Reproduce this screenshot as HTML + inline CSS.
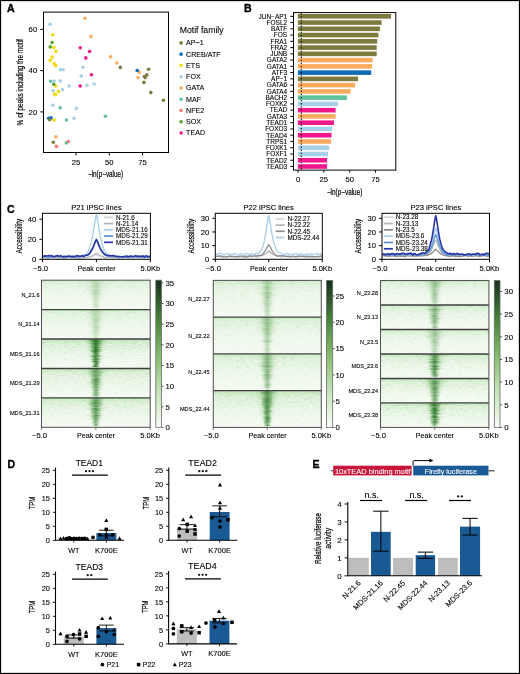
<!DOCTYPE html>
<html><head><meta charset="utf-8"><style>html,body{margin:0;padding:0;background:#fff;}svg{display:block;will-change:transform;font-family:"Liberation Sans",sans-serif;} .cd{stroke:#000;stroke-width:0.2px;} .pl{stroke:#000;stroke-width:0.35px;} text{stroke:#000;stroke-width:0.1px;} text.w{stroke:#fff;}</style></head>
<body><svg width="520" height="674" viewBox="0 0 520 674">
<defs><linearGradient id="cbg" x1="0" y1="1" x2="0" y2="0"><stop offset="0" stop-color="#f8fcf5"/><stop offset="0.25" stop-color="#c4e4b6"/><stop offset="0.5" stop-color="#80bb6c"/><stop offset="0.75" stop-color="#437f38"/><stop offset="1" stop-color="#15301a"/></linearGradient><linearGradient id="band" x1="0" y1="0" x2="1" y2="0"><stop offset="0" stop-color="#3d8a35" stop-opacity="0"/><stop offset="0.25" stop-color="#3a8634" stop-opacity="0.6"/><stop offset="0.5" stop-color="#2a6e27" stop-opacity="1"/><stop offset="0.75" stop-color="#3a8634" stop-opacity="0.6"/><stop offset="1" stop-color="#3d8a35" stop-opacity="0"/></linearGradient><linearGradient id="haze" x1="0" y1="0" x2="0" y2="1"><stop offset="0" stop-color="#b2dfa9" stop-opacity="0.9"/><stop offset="0.15" stop-color="#c2e6ba" stop-opacity="0.5"/><stop offset="0.5" stop-color="#d5eecf" stop-opacity="0.2"/><stop offset="1" stop-color="#e5f5e0" stop-opacity="0"/></linearGradient><filter id="spk" x="0" y="0" width="1" height="1"><feTurbulence type="fractalNoise" baseFrequency="0.22 0.9" numOctaves="2" seed="3"/><feColorMatrix type="matrix" values="0 0 0 0 0.31 0 0 0 0 0.62 0 0 0 0 0.31 3.2 0 0 0 -1.45"/></filter><linearGradient id="fallg" x1="0" y1="0" x2="0" y2="1"><stop offset="0" stop-color="#fff" stop-opacity="1"/><stop offset="0.6" stop-color="#fff" stop-opacity="0.35"/><stop offset="1" stop-color="#fff" stop-opacity="0.1"/></linearGradient><mask id="fall" maskContentUnits="objectBoundingBox"><rect width="1" height="1" fill="url(#fallg)"/></mask><linearGradient id="bandw" x1="0" y1="0" x2="1" y2="0"><stop offset="0" stop-color="#7dbb68" stop-opacity="0"/><stop offset="0.5" stop-color="#5fa84f" stop-opacity="0.7"/><stop offset="1" stop-color="#7dbb68" stop-opacity="0"/></linearGradient></defs>
<rect x="0" y="0" width="520" height="674" fill="#fff"/>
<text x="7.00" y="12.10" font-size="10.6" font-weight="bold" class="pl">A</text>
<rect x="43.5" y="12.1" width="125" height="140.4" fill="none" stroke="#000" stroke-width="1"/>
<line x1="40.30" y1="29.40" x2="43.50" y2="29.40" stroke="#000" stroke-width="1"/>
<text x="37.20" y="32.20" font-size="7.8" text-anchor="end" textLength="8.60" lengthAdjust="spacingAndGlyphs">60</text>
<line x1="40.30" y1="70.60" x2="43.50" y2="70.60" stroke="#000" stroke-width="1"/>
<text x="37.20" y="73.40" font-size="7.8" text-anchor="end" textLength="8.60" lengthAdjust="spacingAndGlyphs">40</text>
<line x1="40.30" y1="111.90" x2="43.50" y2="111.90" stroke="#000" stroke-width="1"/>
<text x="37.20" y="114.70" font-size="7.8" text-anchor="end" textLength="8.60" lengthAdjust="spacingAndGlyphs">20</text>
<line x1="76.00" y1="152.50" x2="76.00" y2="155.40" stroke="#000" stroke-width="1"/>
<text x="76.00" y="164.60" font-size="7.8" text-anchor="middle" textLength="8.50" lengthAdjust="spacingAndGlyphs">25</text>
<line x1="109.30" y1="152.50" x2="109.30" y2="155.40" stroke="#000" stroke-width="1"/>
<text x="109.30" y="164.60" font-size="7.8" text-anchor="middle" textLength="8.50" lengthAdjust="spacingAndGlyphs">50</text>
<line x1="142.60" y1="152.50" x2="142.60" y2="155.40" stroke="#000" stroke-width="1"/>
<text x="142.60" y="164.60" font-size="7.8" text-anchor="middle" textLength="8.50" lengthAdjust="spacingAndGlyphs">75</text>
<text x="88.00" y="176.90" font-size="8.8" textLength="35.10" lengthAdjust="spacingAndGlyphs" class="cd">−ln(p−value)</text>
<text transform="translate(22.7,125.4) rotate(-90)" x="0" y="0" font-size="8.8" class="cd" textLength="86.3" lengthAdjust="spacingAndGlyphs">% of peaks including the motif</text>
<circle cx="50.20" cy="24.20" r="1.8" fill="#a7cfe8"/>
<circle cx="60.50" cy="69.80" r="1.8" fill="#a7cfe8"/>
<circle cx="63.10" cy="69.80" r="1.8" fill="#a7cfe8"/>
<circle cx="82.90" cy="67.30" r="1.8" fill="#a7cfe8"/>
<circle cx="81.30" cy="75.90" r="1.8" fill="#a7cfe8"/>
<circle cx="54.10" cy="81.00" r="1.8" fill="#a7cfe8"/>
<circle cx="60.20" cy="81.00" r="1.8" fill="#a7cfe8"/>
<circle cx="69.10" cy="86.00" r="1.8" fill="#a7cfe8"/>
<circle cx="87.00" cy="85.20" r="1.8" fill="#a7cfe8"/>
<circle cx="94.20" cy="84.00" r="1.8" fill="#a7cfe8"/>
<circle cx="53.00" cy="90.60" r="1.8" fill="#a7cfe8"/>
<circle cx="62.50" cy="89.80" r="1.8" fill="#a7cfe8"/>
<circle cx="52.70" cy="105.20" r="1.8" fill="#a7cfe8"/>
<circle cx="76.30" cy="108.40" r="1.8" fill="#a7cfe8"/>
<circle cx="74.00" cy="118.20" r="1.8" fill="#a7cfe8"/>
<circle cx="52.70" cy="34.80" r="1.8" fill="#f2da0a"/>
<circle cx="53.80" cy="47.50" r="1.8" fill="#f2da0a"/>
<circle cx="55.90" cy="51.30" r="1.8" fill="#f2da0a"/>
<circle cx="52.10" cy="57.10" r="1.8" fill="#f2da0a"/>
<circle cx="50.20" cy="60.40" r="1.8" fill="#f2da0a"/>
<circle cx="54.10" cy="63.60" r="1.8" fill="#f2da0a"/>
<circle cx="55.60" cy="65.40" r="1.8" fill="#f2da0a"/>
<circle cx="55.60" cy="86.00" r="1.8" fill="#f2da0a"/>
<circle cx="58.50" cy="91.40" r="1.8" fill="#f2da0a"/>
<circle cx="54.40" cy="94.00" r="1.8" fill="#f2da0a"/>
<circle cx="55.60" cy="94.60" r="1.8" fill="#f2da0a"/>
<circle cx="54.10" cy="120.00" r="1.8" fill="#f2da0a"/>
<circle cx="85.00" cy="18.30" r="1.8" fill="#fbab5f"/>
<circle cx="90.80" cy="36.50" r="1.8" fill="#fbab5f"/>
<circle cx="110.50" cy="56.70" r="1.8" fill="#fbab5f"/>
<circle cx="116.90" cy="63.00" r="1.8" fill="#fbab5f"/>
<circle cx="139.30" cy="72.40" r="1.8" fill="#fbab5f"/>
<circle cx="138.10" cy="77.60" r="1.8" fill="#fbab5f"/>
<circle cx="55.90" cy="136.90" r="1.8" fill="#fbab5f"/>
<circle cx="50.60" cy="81.30" r="1.8" fill="#5fc39f"/>
<circle cx="60.20" cy="107.80" r="1.8" fill="#5fc39f"/>
<circle cx="66.40" cy="120.00" r="1.8" fill="#5fc39f"/>
<circle cx="105.40" cy="116.20" r="1.8" fill="#5fc39f"/>
<circle cx="66.30" cy="142.90" r="1.8" fill="#5fc39f"/>
<circle cx="68.30" cy="141.50" r="1.8" fill="#f47c72"/>
<circle cx="56.40" cy="146.40" r="1.8" fill="#f47c72"/>
<circle cx="52.10" cy="42.50" r="1.8" fill="#5ba12d"/>
<circle cx="50.20" cy="46.90" r="1.8" fill="#5ba12d"/>
<circle cx="53.80" cy="84.20" r="1.8" fill="#5ba12d"/>
<circle cx="80.20" cy="47.70" r="1.8" fill="#f0178c"/>
<circle cx="89.60" cy="51.50" r="1.8" fill="#f0178c"/>
<circle cx="85.80" cy="57.90" r="1.8" fill="#f0178c"/>
<circle cx="91.40" cy="74.80" r="1.8" fill="#f0178c"/>
<circle cx="80.20" cy="86.00" r="1.8" fill="#f0178c"/>
<circle cx="48.70" cy="118.20" r="1.8" fill="#0f6db5"/>
<circle cx="51.00" cy="117.90" r="1.8" fill="#0f6db5"/>
<circle cx="137.20" cy="70.50" r="1.8" fill="#0f6db5"/>
<circle cx="49.60" cy="119.80" r="1.8" fill="#7d7a3e"/>
<circle cx="53.30" cy="142.30" r="1.8" fill="#7d7a3e"/>
<circle cx="120.30" cy="67.40" r="1.8" fill="#7d7a3e"/>
<circle cx="148.60" cy="69.20" r="1.8" fill="#7d7a3e"/>
<circle cx="146.80" cy="74.90" r="1.8" fill="#7d7a3e"/>
<circle cx="144.40" cy="76.50" r="1.8" fill="#7d7a3e"/>
<circle cx="145.10" cy="77.60" r="1.8" fill="#7d7a3e"/>
<circle cx="143.90" cy="82.40" r="1.8" fill="#7d7a3e"/>
<circle cx="150.80" cy="92.60" r="1.8" fill="#7d7a3e"/>
<circle cx="163.40" cy="100.30" r="1.8" fill="#7d7a3e"/>
<text x="179.70" y="32.50" font-size="9.4" textLength="43.90" lengthAdjust="spacingAndGlyphs">Motif family</text>
<circle cx="181.10" cy="42.90" r="1.8" fill="#7d7a3e"/>
<text x="186.10" y="45.35" font-size="7.1">AP−1</text>
<circle cx="181.10" cy="54.16" r="1.8" fill="#0f6db5"/>
<text x="186.10" y="56.61" font-size="7.1">CREB/ATF</text>
<circle cx="181.10" cy="65.42" r="1.8" fill="#f2da0a"/>
<text x="186.10" y="67.87" font-size="7.1">ETS</text>
<circle cx="181.10" cy="76.68" r="1.8" fill="#a7cfe8"/>
<text x="186.10" y="79.13" font-size="7.1">FOX</text>
<circle cx="181.10" cy="87.94" r="1.8" fill="#fbab5f"/>
<text x="186.10" y="90.39" font-size="7.1">GATA</text>
<circle cx="181.10" cy="99.20" r="1.8" fill="#5fc39f"/>
<text x="186.10" y="101.65" font-size="7.1">MAF</text>
<circle cx="181.10" cy="110.46" r="1.8" fill="#f47c72"/>
<text x="186.10" y="112.91" font-size="7.1">NFE2</text>
<circle cx="181.10" cy="121.72" r="1.8" fill="#5ba12d"/>
<text x="186.10" y="124.17" font-size="7.1">SOX</text>
<circle cx="181.10" cy="132.98" r="1.8" fill="#f0178c"/>
<text x="186.10" y="135.43" font-size="7.1">TEAD</text>
<text x="243.90" y="12.30" font-size="10.6" font-weight="bold" class="pl">B</text>
<rect x="297.90" y="14.00" width="93.20" height="4.60" fill="#7d7a3e"/>
<line x1="290.30" y1="16.30" x2="293.50" y2="16.30" stroke="#000" stroke-width="1"/>
<text x="287.20" y="18.60" font-size="6.5" text-anchor="end">JUN−AP1</text>
<rect x="297.90" y="20.26" width="83.70" height="4.60" fill="#7d7a3e"/>
<line x1="290.30" y1="22.56" x2="293.50" y2="22.56" stroke="#000" stroke-width="1"/>
<text x="287.20" y="24.86" font-size="6.5" text-anchor="end">FOSL2</text>
<rect x="297.90" y="26.52" width="82.00" height="4.60" fill="#7d7a3e"/>
<line x1="290.30" y1="28.82" x2="293.50" y2="28.82" stroke="#000" stroke-width="1"/>
<text x="287.20" y="31.12" font-size="6.5" text-anchor="end">BATF</text>
<rect x="297.90" y="32.77" width="80.50" height="4.60" fill="#7d7a3e"/>
<line x1="290.30" y1="35.07" x2="293.50" y2="35.07" stroke="#000" stroke-width="1"/>
<text x="287.20" y="37.37" font-size="6.5" text-anchor="end">FOS</text>
<rect x="297.90" y="39.03" width="79.30" height="4.60" fill="#7d7a3e"/>
<line x1="290.30" y1="41.33" x2="293.50" y2="41.33" stroke="#000" stroke-width="1"/>
<text x="287.20" y="43.63" font-size="6.5" text-anchor="end">FRA1</text>
<rect x="297.90" y="45.29" width="78.80" height="4.60" fill="#7d7a3e"/>
<line x1="290.30" y1="47.59" x2="293.50" y2="47.59" stroke="#000" stroke-width="1"/>
<text x="287.20" y="49.89" font-size="6.5" text-anchor="end">FRA2</text>
<rect x="297.90" y="51.55" width="78.80" height="4.60" fill="#7d7a3e"/>
<line x1="290.30" y1="53.85" x2="293.50" y2="53.85" stroke="#000" stroke-width="1"/>
<text x="287.20" y="56.15" font-size="6.5" text-anchor="end">JUNB</text>
<rect x="297.90" y="57.81" width="74.80" height="4.60" fill="#fbab5f"/>
<line x1="290.30" y1="60.11" x2="293.50" y2="60.11" stroke="#000" stroke-width="1"/>
<text x="287.20" y="62.41" font-size="6.5" text-anchor="end">GATA2</text>
<rect x="297.90" y="64.06" width="74.20" height="4.60" fill="#fbab5f"/>
<line x1="290.30" y1="66.36" x2="293.50" y2="66.36" stroke="#000" stroke-width="1"/>
<text x="287.20" y="68.66" font-size="6.5" text-anchor="end">GATA1</text>
<rect x="297.90" y="70.32" width="73.30" height="4.60" fill="#0f6db5"/>
<line x1="290.30" y1="72.62" x2="293.50" y2="72.62" stroke="#000" stroke-width="1"/>
<text x="287.20" y="74.92" font-size="6.5" text-anchor="end">ATF3</text>
<rect x="297.90" y="76.58" width="60.20" height="4.60" fill="#7d7a3e"/>
<line x1="290.30" y1="78.88" x2="293.50" y2="78.88" stroke="#000" stroke-width="1"/>
<text x="287.20" y="81.18" font-size="6.5" text-anchor="end">AP−1</text>
<rect x="297.90" y="82.84" width="57.20" height="4.60" fill="#fbab5f"/>
<line x1="290.30" y1="85.14" x2="293.50" y2="85.14" stroke="#000" stroke-width="1"/>
<text x="287.20" y="87.44" font-size="6.5" text-anchor="end">GATA6</text>
<rect x="297.90" y="89.10" width="52.70" height="4.60" fill="#fbab5f"/>
<line x1="290.30" y1="91.40" x2="293.50" y2="91.40" stroke="#000" stroke-width="1"/>
<text x="287.20" y="93.70" font-size="6.5" text-anchor="end">GATA4</text>
<rect x="297.90" y="95.35" width="49.00" height="4.60" fill="#5fc39f"/>
<line x1="290.30" y1="97.65" x2="293.50" y2="97.65" stroke="#000" stroke-width="1"/>
<text x="287.20" y="99.95" font-size="6.5" text-anchor="end">BACH2</text>
<rect x="297.90" y="101.61" width="40.00" height="4.60" fill="#a7cfe8"/>
<line x1="290.30" y1="103.91" x2="293.50" y2="103.91" stroke="#000" stroke-width="1"/>
<text x="287.20" y="106.21" font-size="6.5" text-anchor="end">FOXK2</text>
<rect x="297.90" y="107.87" width="37.70" height="4.60" fill="#f0178c"/>
<line x1="290.30" y1="110.17" x2="293.50" y2="110.17" stroke="#000" stroke-width="1"/>
<text x="287.20" y="112.47" font-size="6.5" text-anchor="end">TEAD</text>
<rect x="297.90" y="114.13" width="37.70" height="4.60" fill="#fbab5f"/>
<line x1="290.30" y1="116.43" x2="293.50" y2="116.43" stroke="#000" stroke-width="1"/>
<text x="287.20" y="118.73" font-size="6.5" text-anchor="end">GATA3</text>
<rect x="297.90" y="120.39" width="36.10" height="4.60" fill="#f0178c"/>
<line x1="290.30" y1="122.69" x2="293.50" y2="122.69" stroke="#000" stroke-width="1"/>
<text x="287.20" y="124.99" font-size="6.5" text-anchor="end">TEAD1</text>
<rect x="297.90" y="126.64" width="34.30" height="4.60" fill="#a7cfe8"/>
<line x1="290.30" y1="128.94" x2="293.50" y2="128.94" stroke="#000" stroke-width="1"/>
<text x="287.20" y="131.24" font-size="6.5" text-anchor="end">FOXO3</text>
<rect x="297.90" y="132.90" width="33.60" height="4.60" fill="#f0178c"/>
<line x1="290.30" y1="135.20" x2="293.50" y2="135.20" stroke="#000" stroke-width="1"/>
<text x="287.20" y="137.50" font-size="6.5" text-anchor="end">TEAD4</text>
<rect x="297.90" y="139.16" width="33.10" height="4.60" fill="#fbab5f"/>
<line x1="290.30" y1="141.46" x2="293.50" y2="141.46" stroke="#000" stroke-width="1"/>
<text x="287.20" y="143.76" font-size="6.5" text-anchor="end">TRPS1</text>
<rect x="297.90" y="145.42" width="31.30" height="4.60" fill="#a7cfe8"/>
<line x1="290.30" y1="147.72" x2="293.50" y2="147.72" stroke="#000" stroke-width="1"/>
<text x="287.20" y="150.02" font-size="6.5" text-anchor="end">FOXK1</text>
<rect x="297.90" y="151.68" width="30.10" height="4.60" fill="#a7cfe8"/>
<line x1="290.30" y1="153.98" x2="293.50" y2="153.98" stroke="#000" stroke-width="1"/>
<text x="287.20" y="156.28" font-size="6.5" text-anchor="end">FOXF1</text>
<rect x="297.90" y="157.93" width="29.20" height="4.60" fill="#f0178c"/>
<line x1="290.30" y1="160.23" x2="293.50" y2="160.23" stroke="#000" stroke-width="1"/>
<text x="287.20" y="162.53" font-size="6.5" text-anchor="end">TEAD2</text>
<rect x="297.90" y="164.19" width="29.20" height="4.60" fill="#f0178c"/>
<line x1="290.30" y1="166.49" x2="293.50" y2="166.49" stroke="#000" stroke-width="1"/>
<text x="287.20" y="168.79" font-size="6.5" text-anchor="end">TEAD3</text>
<line x1="301.30" y1="13.20" x2="301.30" y2="170.20" stroke="#000" stroke-width="1.1" stroke-dasharray="1.3 1.8"/>
<rect x="293.5" y="12.6" width="102.3" height="157.5" fill="none" stroke="#000" stroke-width="1"/>
<line x1="298.00" y1="170.10" x2="298.00" y2="172.60" stroke="#000" stroke-width="1"/>
<text x="298.00" y="182.20" font-size="7.6" text-anchor="middle">0</text>
<line x1="323.80" y1="170.10" x2="323.80" y2="172.60" stroke="#000" stroke-width="1"/>
<text x="323.80" y="182.20" font-size="7.6" text-anchor="middle">25</text>
<line x1="349.70" y1="170.10" x2="349.70" y2="172.60" stroke="#000" stroke-width="1"/>
<text x="349.70" y="182.20" font-size="7.6" text-anchor="middle">50</text>
<line x1="375.50" y1="170.10" x2="375.50" y2="172.60" stroke="#000" stroke-width="1"/>
<text x="375.50" y="182.20" font-size="7.6" text-anchor="middle">75</text>
<text x="326.90" y="194.60" font-size="8.8" textLength="35.40" lengthAdjust="spacingAndGlyphs" class="cd">−ln(p−value)</text>
<text x="7.00" y="213.00" font-size="10.6" font-weight="bold" class="pl">C</text>
<rect x="42.4" y="213.3" width="108.00" height="46.00" fill="#fff"/>
<path d="M42.90,258.06 L43.60,257.79 L44.30,257.41 L45.00,257.37 L45.70,257.41 L46.40,257.43 L47.10,257.54 L47.80,257.86 L48.50,257.94 L49.20,257.81 L49.90,257.78 L50.60,257.78 L51.30,257.71 L52.00,257.67 L52.70,257.63 L53.40,257.57 L54.10,257.57 L54.80,257.44 L55.50,257.34 L56.20,257.67 L56.90,258.06 L57.60,258.06 L58.30,258.19 L59.00,258.16 L59.70,257.79 L60.40,257.42 L61.10,257.41 L61.80,257.65 L62.50,257.76 L63.20,257.59 L63.90,257.55 L64.60,257.45 L65.30,257.83 L66.00,258.13 L66.70,258.04 L67.40,257.78 L68.10,257.73 L68.80,257.59 L69.50,257.49 L70.20,257.65 L70.90,257.81 L71.60,257.94 L72.30,257.67 L73.00,257.28 L73.70,257.26 L74.40,257.30 L75.10,257.32 L75.80,257.66 L76.50,258.09 L77.20,258.14 L77.90,258.17 L78.60,258.23 L79.30,258.01 L80.00,257.74 L80.70,257.58 L81.40,257.33 L82.10,257.18 L82.80,257.35 L83.50,257.63 L84.20,257.77 L84.90,257.74 L85.60,257.79 L86.30,257.77 L87.00,257.62 L87.70,257.53 L88.40,257.50 L89.10,257.57 L89.80,257.41 L90.50,257.13 L91.20,256.93 L91.90,256.69 L92.60,256.41 L93.30,256.15 L94.00,255.88 L94.70,255.62 L95.40,255.36 L96.10,255.14 L96.40,255.09 L96.80,255.17 L97.50,255.39 L98.20,255.65 L98.90,255.92 L99.60,256.22 L100.30,256.50 L101.00,256.65 L101.70,256.83 L102.40,257.06 L103.10,257.23 L103.80,257.36 L104.50,257.66 L105.20,257.86 L105.90,257.75 L106.60,257.32 L107.30,257.30 L108.00,257.38 L108.70,257.53 L109.40,257.56 L110.10,257.57 L110.80,257.46 L111.50,257.69 L112.20,257.96 L112.90,257.91 L113.60,257.40 L114.30,257.21 L115.00,257.24 L115.70,257.35 L116.40,257.40 L117.10,257.89 L117.80,258.10 L118.50,257.93 L119.20,257.83 L119.90,257.86 L120.60,257.57 L121.30,257.50 L122.00,257.41 L122.70,257.45 L123.40,257.48 L124.10,257.40 L124.80,257.34 L125.50,257.32 L126.20,257.74 L126.90,257.71 L127.60,257.50 L128.30,257.37 L129.00,257.45 L129.70,257.43 L130.40,257.46 L131.10,257.66 L131.80,257.87 L132.50,257.87 L133.20,257.72 L133.90,257.65 L134.60,257.47 L135.30,257.35 L136.00,257.36 L136.70,257.40 L137.40,257.32 L138.10,257.49 L138.80,257.65 L139.50,257.71 L140.20,257.59 L140.90,257.55 L141.60,257.83 L142.30,258.11 L143.00,258.18 L143.70,257.98 L144.40,257.92 L145.10,257.85 L145.80,257.56 L146.50,257.38 L147.20,257.53 L147.90,257.70 L148.60,257.85 L149.30,257.90 L149.90,258.00" fill="none" stroke="#d4d4d4" stroke-width="1.1" stroke-linejoin="round"/>
<path d="M42.90,257.34 L43.60,257.38 L44.30,257.37 L45.00,257.39 L45.70,257.94 L46.40,258.18 L47.10,258.27 L47.80,258.16 L48.50,258.20 L49.20,257.73 L49.90,257.44 L50.60,257.48 L51.30,257.54 L52.00,257.54 L52.70,257.58 L53.40,257.65 L54.10,257.74 L54.80,257.90 L55.50,257.92 L56.20,257.84 L56.90,257.77 L57.60,257.64 L58.30,257.66 L59.00,257.63 L59.70,257.75 L60.40,257.68 L61.10,257.83 L61.80,257.97 L62.50,258.17 L63.20,258.09 L63.90,257.84 L64.60,257.93 L65.30,257.88 L66.00,257.85 L66.70,257.85 L67.40,257.67 L68.10,257.50 L68.80,257.44 L69.50,257.27 L70.20,257.38 L70.90,257.36 L71.60,257.40 L72.30,257.51 L73.00,257.80 L73.70,257.70 L74.40,257.89 L75.10,257.82 L75.80,257.99 L76.50,258.05 L77.20,258.01 L77.90,258.23 L78.60,258.29 L79.30,258.21 L80.00,258.26 L80.70,258.25 L81.40,257.87 L82.10,257.82 L82.80,257.86 L83.50,257.86 L84.20,257.80 L84.90,257.71 L85.60,257.71 L86.30,257.48 L87.00,257.18 L87.70,256.96 L88.40,256.94 L89.10,256.91 L89.80,256.69 L90.50,256.46 L91.20,256.17 L91.90,255.92 L92.60,255.58 L93.30,255.14 L94.00,254.66 L94.70,254.20 L95.40,253.75 L96.10,253.38 L96.40,253.29 L96.80,253.42 L97.50,253.81 L98.20,254.26 L98.90,254.72 L99.60,255.18 L100.30,255.55 L101.00,255.84 L101.70,256.02 L102.40,256.32 L103.10,256.69 L103.80,256.87 L104.50,257.28 L105.20,257.60 L105.90,257.58 L106.60,257.30 L107.30,257.25 L108.00,257.27 L108.70,257.37 L109.40,257.34 L110.10,257.41 L110.80,257.43 L111.50,257.48 L112.20,257.38 L112.90,257.43 L113.60,257.46 L114.30,257.50 L115.00,257.47 L115.70,257.47 L116.40,257.59 L117.10,257.80 L117.80,257.94 L118.50,257.80 L119.20,257.46 L119.90,257.33 L120.60,257.38 L121.30,257.30 L122.00,257.60 L122.70,258.07 L123.40,258.15 L124.10,257.85 L124.80,257.59 L125.50,257.55 L126.20,257.58 L126.90,257.62 L127.60,257.68 L128.30,257.87 L129.00,257.76 L129.70,257.71 L130.40,257.73 L131.10,257.79 L131.80,257.80 L132.50,257.73 L133.20,257.57 L133.90,257.38 L134.60,257.53 L135.30,257.80 L136.00,257.82 L136.70,257.54 L137.40,257.48 L138.10,257.62 L138.80,257.82 L139.50,257.89 L140.20,257.66 L140.90,257.34 L141.60,257.43 L142.30,257.47 L143.00,257.39 L143.70,257.69 L144.40,257.86 L145.10,257.76 L145.80,257.73 L146.50,257.79 L147.20,257.57 L147.90,257.40 L148.60,257.41 L149.30,257.56 L149.90,257.56" fill="none" stroke="#b4b4b4" stroke-width="1.1" stroke-linejoin="round"/>
<path d="M42.90,256.66 L43.60,256.42 L44.30,256.27 L45.00,256.30 L45.70,256.44 L46.40,256.38 L47.10,256.28 L47.80,256.29 L48.50,256.11 L49.20,256.17 L49.90,256.20 L50.60,256.34 L51.30,256.63 L52.00,256.75 L52.70,256.93 L53.40,256.86 L54.10,256.77 L54.80,256.10 L55.50,255.93 L56.20,256.12 L56.90,256.45 L57.60,256.59 L58.30,256.51 L59.00,256.64 L59.70,256.34 L60.40,255.76 L61.10,255.85 L61.80,256.16 L62.50,256.34 L63.20,256.16 L63.90,256.01 L64.60,256.00 L65.30,256.08 L66.00,256.35 L66.70,256.18 L67.40,256.09 L68.10,256.17 L68.80,256.45 L69.50,256.70 L70.20,256.55 L70.90,256.24 L71.60,256.11 L72.30,255.97 L73.00,255.77 L73.70,255.91 L74.40,256.15 L75.10,256.20 L75.80,256.17 L76.50,256.01 L77.20,255.87 L77.90,255.98 L78.60,255.97 L79.30,256.29 L80.00,256.55 L80.70,256.43 L81.40,255.99 L82.10,255.45 L82.80,255.33 L83.50,255.30 L84.20,254.95 L84.90,254.75 L85.60,254.34 L86.30,253.83 L87.00,253.11 L87.70,252.09 L88.40,250.53 L89.10,248.64 L89.80,246.77 L90.50,244.69 L91.20,242.17 L91.90,239.03 L92.60,235.50 L93.30,231.64 L94.00,227.45 L94.70,223.07 L95.40,218.81 L96.10,215.27 L96.40,214.39 L96.80,215.69 L97.50,219.39 L98.20,223.69 L98.90,228.06 L99.60,232.25 L100.30,236.13 L101.00,239.48 L101.70,242.33 L102.40,245.01 L103.10,247.35 L103.80,249.16 L104.50,250.39 L105.20,251.47 L105.90,252.41 L106.60,253.22 L107.30,253.79 L108.00,254.75 L108.70,255.48 L109.40,255.91 L110.10,256.09 L110.80,256.19 L111.50,256.24 L112.20,256.37 L112.90,256.34 L113.60,255.92 L114.30,255.63 L115.00,255.96 L115.70,256.21 L116.40,256.24 L117.10,256.25 L117.80,256.16 L118.50,256.20 L119.20,256.45 L119.90,256.45 L120.60,256.40 L121.30,256.35 L122.00,256.36 L122.70,256.35 L123.40,256.47 L124.10,256.48 L124.80,256.49 L125.50,256.42 L126.20,256.26 L126.90,256.11 L127.60,256.25 L128.30,256.28 L129.00,256.04 L129.70,255.83 L130.40,255.72 L131.10,255.93 L131.80,255.98 L132.50,255.95 L133.20,255.92 L133.90,255.73 L134.60,255.75 L135.30,255.83 L136.00,255.84 L136.70,255.80 L137.40,255.73 L138.10,255.88 L138.80,256.12 L139.50,256.12 L140.20,256.49 L140.90,256.64 L141.60,256.55 L142.30,255.93 L143.00,255.82 L143.70,255.72 L144.40,255.66 L145.10,255.68 L145.80,255.78 L146.50,255.90 L147.20,255.95 L147.90,256.25 L148.60,256.21 L149.30,256.05 L149.90,256.03" fill="none" stroke="#a6cfea" stroke-width="1.3" stroke-linejoin="round"/>
<path d="M42.90,256.87 L43.60,257.00 L44.30,257.04 L45.00,256.97 L45.70,256.93 L46.40,256.80 L47.10,256.85 L47.80,256.91 L48.50,256.99 L49.20,257.11 L49.90,257.14 L50.60,257.08 L51.30,256.80 L52.00,256.78 L52.70,256.37 L53.40,256.04 L54.10,256.04 L54.80,256.15 L55.50,256.15 L56.20,256.34 L56.90,256.31 L57.60,256.29 L58.30,256.68 L59.00,256.94 L59.70,256.70 L60.40,256.56 L61.10,256.53 L61.80,256.79 L62.50,256.92 L63.20,256.91 L63.90,257.04 L64.60,257.01 L65.30,256.95 L66.00,257.10 L66.70,257.12 L67.40,257.04 L68.10,256.96 L68.80,256.43 L69.50,256.12 L70.20,256.14 L70.90,256.24 L71.60,256.11 L72.30,256.22 L73.00,256.27 L73.70,256.30 L74.40,256.31 L75.10,256.29 L75.80,256.50 L76.50,256.96 L77.20,257.01 L77.90,256.84 L78.60,256.83 L79.30,256.54 L80.00,256.48 L80.70,256.33 L81.40,256.19 L82.10,256.16 L82.80,255.95 L83.50,255.88 L84.20,255.80 L84.90,255.62 L85.60,255.50 L86.30,255.44 L87.00,255.64 L87.70,255.28 L88.40,254.56 L89.10,253.81 L89.80,253.15 L90.50,252.26 L91.20,251.26 L91.90,250.14 L92.60,248.83 L93.30,247.31 L94.00,245.67 L94.70,243.96 L95.40,242.29 L96.10,240.90 L96.40,240.55 L96.80,241.06 L97.50,242.52 L98.20,244.20 L98.90,245.91 L99.60,247.47 L100.30,248.87 L101.00,250.18 L101.70,251.29 L102.40,252.24 L103.10,253.18 L103.80,253.90 L104.50,254.66 L105.20,255.18 L105.90,255.36 L106.60,255.30 L107.30,255.37 L108.00,255.77 L108.70,256.06 L109.40,256.10 L110.10,256.04 L110.80,255.90 L111.50,255.95 L112.20,256.16 L112.90,256.09 L113.60,256.34 L114.30,256.52 L115.00,256.69 L115.70,256.60 L116.40,256.72 L117.10,256.46 L117.80,256.44 L118.50,256.62 L119.20,256.71 L119.90,256.68 L120.60,256.86 L121.30,256.95 L122.00,256.87 L122.70,256.91 L123.40,256.88 L124.10,256.42 L124.80,256.31 L125.50,256.37 L126.20,257.02 L126.90,257.09 L127.60,257.09 L128.30,257.07 L129.00,257.00 L129.70,256.55 L130.40,256.50 L131.10,256.59 L131.80,256.86 L132.50,256.74 L133.20,256.59 L133.90,256.56 L134.60,256.58 L135.30,256.71 L136.00,256.73 L136.70,256.71 L137.40,256.78 L138.10,256.46 L138.80,256.08 L139.50,256.13 L140.20,256.59 L140.90,256.91 L141.60,256.88 L142.30,256.83 L143.00,256.65 L143.70,256.77 L144.40,257.02 L145.10,256.83 L145.80,256.57 L146.50,256.39 L147.20,256.67 L147.90,256.89 L148.60,256.85 L149.30,256.71 L149.90,256.84" fill="none" stroke="#5892d0" stroke-width="1.3" stroke-linejoin="round"/>
<path d="M42.90,256.05 L43.60,256.16 L44.30,255.91 L45.00,255.98 L45.70,255.89 L46.40,255.98 L47.10,255.91 L47.80,255.77 L48.50,255.59 L49.20,255.89 L49.90,255.90 L50.60,255.80 L51.30,255.66 L52.00,255.77 L52.70,256.35 L53.40,256.90 L54.10,256.78 L54.80,256.58 L55.50,256.28 L56.20,255.99 L56.90,255.64 L57.60,255.83 L58.30,255.86 L59.00,256.17 L59.70,255.98 L60.40,255.74 L61.10,255.76 L61.80,256.48 L62.50,256.75 L63.20,256.66 L63.90,256.44 L64.60,256.40 L65.30,256.59 L66.00,256.73 L66.70,256.61 L67.40,256.26 L68.10,256.12 L68.80,256.28 L69.50,256.28 L70.20,256.26 L70.90,256.80 L71.60,256.99 L72.30,256.89 L73.00,256.68 L73.70,256.60 L74.40,256.63 L75.10,256.60 L75.80,256.31 L76.50,255.67 L77.20,255.82 L77.90,255.83 L78.60,255.81 L79.30,256.26 L80.00,256.56 L80.70,256.48 L81.40,256.04 L82.10,255.64 L82.80,256.00 L83.50,256.34 L84.20,256.36 L84.90,255.74 L85.60,255.40 L86.30,255.28 L87.00,255.21 L87.70,254.94 L88.40,254.48 L89.10,253.99 L89.80,253.02 L90.50,251.66 L91.20,250.53 L91.90,249.53 L92.60,248.24 L93.30,246.61 L94.00,244.82 L94.70,243.03 L95.40,241.28 L96.10,239.81 L96.40,239.45 L96.80,239.99 L97.50,241.52 L98.20,243.28 L98.90,245.08 L99.60,246.80 L100.30,248.41 L101.00,249.59 L101.70,250.57 L102.40,251.66 L103.10,252.72 L103.80,253.46 L104.50,254.03 L105.20,254.37 L105.90,254.96 L106.60,255.56 L107.30,255.83 L108.00,255.58 L108.70,255.34 L109.40,255.35 L110.10,255.68 L110.80,255.83 L111.50,255.83 L112.20,255.56 L112.90,255.64 L113.60,255.63 L114.30,255.72 L115.00,255.98 L115.70,256.46 L116.40,256.49 L117.10,256.54 L117.80,256.45 L118.50,256.53 L119.20,256.66 L119.90,256.79 L120.60,256.70 L121.30,256.71 L122.00,256.78 L122.70,256.78 L123.40,256.79 L124.10,256.72 L124.80,256.57 L125.50,256.54 L126.20,256.16 L126.90,256.08 L127.60,256.57 L128.30,256.92 L129.00,256.76 L129.70,256.23 L130.40,256.12 L131.10,256.19 L131.80,256.47 L132.50,256.49 L133.20,256.56 L133.90,256.53 L134.60,256.23 L135.30,255.88 L136.00,255.85 L136.70,256.25 L137.40,256.39 L138.10,256.41 L138.80,256.49 L139.50,256.59 L140.20,256.37 L140.90,256.29 L141.60,256.33 L142.30,256.06 L143.00,256.11 L143.70,256.59 L144.40,256.97 L145.10,256.66 L145.80,255.97 L146.50,255.72 L147.20,256.36 L147.90,256.92 L148.60,256.80 L149.30,256.19 L149.90,255.92" fill="none" stroke="#2a35a8" stroke-width="1.6" stroke-linejoin="round"/>
<line x1="104.00" y1="217.30" x2="113.00" y2="217.30" stroke="#d4d4d4" stroke-width="1.7"/>
<text x="115.90" y="219.50" font-size="6.3">N-21.6</text>
<line x1="104.00" y1="223.55" x2="113.00" y2="223.55" stroke="#b4b4b4" stroke-width="1.7"/>
<text x="115.90" y="225.75" font-size="6.3">N-21.14</text>
<line x1="104.00" y1="229.80" x2="113.00" y2="229.80" stroke="#a6cfea" stroke-width="1.7"/>
<text x="115.90" y="232.00" font-size="6.3">MDS-21.16</text>
<line x1="104.00" y1="236.05" x2="113.00" y2="236.05" stroke="#5892d0" stroke-width="1.7"/>
<text x="115.90" y="238.25" font-size="6.3">MDS-21.29</text>
<line x1="104.00" y1="242.30" x2="113.00" y2="242.30" stroke="#2a35a8" stroke-width="1.7"/>
<text x="115.90" y="244.50" font-size="6.3">MDS-21.31</text>
<rect x="42.4" y="213.3" width="108.00" height="46.00" fill="none" stroke="#000" stroke-width="1"/>
<line x1="39.40" y1="259.30" x2="42.40" y2="259.30" stroke="#000" stroke-width="1"/>
<text x="36.30" y="262.00" font-size="7.6" text-anchor="end">0</text>
<line x1="39.40" y1="239.25" x2="42.40" y2="239.25" stroke="#000" stroke-width="1"/>
<text x="36.30" y="241.95" font-size="7.6" text-anchor="end">20</text>
<line x1="39.40" y1="219.20" x2="42.40" y2="219.20" stroke="#000" stroke-width="1"/>
<text x="36.30" y="221.90" font-size="7.6" text-anchor="end">40</text>
<line x1="42.40" y1="259.30" x2="42.40" y2="262.10" stroke="#000" stroke-width="1"/>
<line x1="96.40" y1="259.30" x2="96.40" y2="262.10" stroke="#000" stroke-width="1"/>
<line x1="150.40" y1="259.30" x2="150.40" y2="262.10" stroke="#000" stroke-width="1"/>
<text x="33.00" y="270.80" font-size="7.5" textLength="15.00" lengthAdjust="spacingAndGlyphs">−5.0</text>
<text x="96.60" y="270.80" font-size="7.5" text-anchor="middle" textLength="38.20" lengthAdjust="spacingAndGlyphs">Peak center</text>
<text x="140.50" y="270.80" font-size="7.5" textLength="19.70" lengthAdjust="spacingAndGlyphs">5.0Kb</text>
<text x="71.20" y="209.80" font-size="7.5" textLength="50.50" lengthAdjust="spacingAndGlyphs">P21 iPSC lines</text>
<text transform="translate(21.6,236.1) rotate(-90)" x="0" y="0" font-size="8.5" class="cd" text-anchor="middle" textLength="34.7" lengthAdjust="spacingAndGlyphs">Accessibility</text>
<rect x="215.3" y="213.3" width="107.00" height="46.00" fill="#fff"/>
<path d="M215.80,256.39 L216.50,256.21 L217.20,256.17 L217.90,256.24 L218.60,255.95 L219.30,255.80 L220.00,256.00 L220.70,256.20 L221.40,256.40 L222.10,256.29 L222.80,256.29 L223.50,256.31 L224.20,256.14 L224.90,256.28 L225.60,256.46 L226.30,256.80 L227.00,256.62 L227.70,256.41 L228.40,256.32 L229.10,256.09 L229.80,256.06 L230.50,256.10 L231.20,255.86 L231.90,255.99 L232.60,256.40 L233.30,256.75 L234.00,256.76 L234.70,256.71 L235.40,256.47 L236.10,256.76 L236.80,256.89 L237.50,256.60 L238.20,256.14 L238.90,255.91 L239.60,256.03 L240.30,256.10 L241.00,256.16 L241.70,256.73 L242.40,256.89 L243.10,256.39 L243.80,255.72 L244.50,255.54 L245.20,255.65 L245.90,255.64 L246.60,255.75 L247.30,256.11 L248.00,256.16 L248.70,256.03 L249.40,256.07 L250.10,256.42 L250.80,256.76 L251.50,256.72 L252.20,256.78 L252.90,257.00 L253.60,256.59 L254.30,256.22 L255.00,256.25 L255.70,256.60 L256.40,256.87 L257.10,256.80 L257.80,256.48 L258.50,256.53 L259.20,256.34 L259.90,256.30 L260.60,256.16 L261.30,256.17 L262.00,256.03 L262.70,255.60 L263.40,255.12 L264.10,254.90 L264.80,254.54 L265.50,254.12 L266.20,253.68 L266.90,253.24 L267.60,252.79 L268.30,252.38 L268.80,252.19 L269.00,252.25 L269.70,252.60 L270.40,253.04 L271.10,253.50 L271.80,253.94 L272.50,254.34 L273.20,254.64 L273.90,254.93 L274.60,255.17 L275.30,255.41 L276.00,255.62 L276.70,255.91 L277.40,256.13 L278.10,256.10 L278.80,255.76 L279.50,255.58 L280.20,255.61 L280.90,255.46 L281.60,255.56 L282.30,255.63 L283.00,255.90 L283.70,255.85 L284.40,255.98 L285.10,256.02 L285.80,256.40 L286.50,256.44 L287.20,256.67 L287.90,256.64 L288.60,256.60 L289.30,256.53 L290.00,256.53 L290.70,256.64 L291.40,256.79 L292.10,256.71 L292.80,256.31 L293.50,255.89 L294.20,256.01 L294.90,256.29 L295.60,256.40 L296.30,256.00 L297.00,255.75 L297.70,255.99 L298.40,256.33 L299.10,256.42 L299.80,255.99 L300.50,255.65 L301.20,255.79 L301.90,255.76 L302.60,255.77 L303.30,256.37 L304.00,256.91 L304.70,256.93 L305.40,256.70 L306.10,256.64 L306.80,256.21 L307.50,255.69 L308.20,255.95 L308.90,256.15 L309.60,256.41 L310.30,255.97 L311.00,255.66 L311.70,255.85 L312.40,256.20 L313.10,256.44 L313.80,256.61 L314.50,256.77 L315.20,256.80 L315.90,256.42 L316.60,256.15 L317.30,255.99 L318.00,255.99 L318.70,256.08 L319.40,256.32 L320.10,256.58 L320.80,256.72 L321.50,256.76 L321.80,256.89" fill="none" stroke="#d4d4d4" stroke-width="1.1" stroke-linejoin="round"/>
<path d="M215.80,256.53 L216.50,256.53 L217.20,256.37 L217.90,256.41 L218.60,256.36 L219.30,256.36 L220.00,256.51 L220.70,257.04 L221.40,257.06 L222.10,257.23 L222.80,257.19 L223.50,257.18 L224.20,256.86 L224.90,256.78 L225.60,256.79 L226.30,256.97 L227.00,256.69 L227.70,256.33 L228.40,256.19 L229.10,256.24 L229.80,256.21 L230.50,256.34 L231.20,256.31 L231.90,256.50 L232.60,256.37 L233.30,256.51 L234.00,256.52 L234.70,256.33 L235.40,256.28 L236.10,256.79 L236.80,257.07 L237.50,256.92 L238.20,256.78 L238.90,256.71 L239.60,256.92 L240.30,257.10 L241.00,256.83 L241.70,256.18 L242.40,255.92 L243.10,256.51 L243.80,257.20 L244.50,257.05 L245.20,256.38 L245.90,256.07 L246.60,256.51 L247.30,257.12 L248.00,257.03 L248.70,256.58 L249.40,256.28 L250.10,256.53 L250.80,256.64 L251.50,256.69 L252.20,256.78 L252.90,256.72 L253.60,256.38 L254.30,256.17 L255.00,256.06 L255.70,256.71 L256.40,257.05 L257.10,256.99 L257.80,256.99 L258.50,256.81 L259.20,256.16 L259.90,255.56 L260.60,255.57 L261.30,255.74 L262.00,255.49 L262.70,255.47 L263.40,255.26 L264.10,254.63 L264.80,253.86 L265.50,253.38 L266.20,252.89 L266.90,252.29 L267.60,251.66 L268.30,251.09 L268.80,250.82 L269.00,250.90 L269.70,251.40 L270.40,252.02 L271.10,252.66 L271.80,253.33 L272.50,253.98 L273.20,254.46 L273.90,254.89 L274.60,255.29 L275.30,255.35 L276.00,255.49 L276.70,255.92 L277.40,256.33 L278.10,256.38 L278.80,256.18 L279.50,256.03 L280.20,256.52 L280.90,257.06 L281.60,257.07 L282.30,257.02 L283.00,256.87 L283.70,256.59 L284.40,256.17 L285.10,256.17 L285.80,256.58 L286.50,256.69 L287.20,256.64 L287.90,256.70 L288.60,256.70 L289.30,256.54 L290.00,256.47 L290.70,256.45 L291.40,256.65 L292.10,256.69 L292.80,256.71 L293.50,256.68 L294.20,256.83 L294.90,257.11 L295.60,257.05 L296.30,256.67 L297.00,256.36 L297.70,256.16 L298.40,255.99 L299.10,255.99 L299.80,255.89 L300.50,255.95 L301.20,256.08 L301.90,256.30 L302.60,256.27 L303.30,256.67 L304.00,256.78 L304.70,256.81 L305.40,256.82 L306.10,256.75 L306.80,256.58 L307.50,256.23 L308.20,256.31 L308.90,256.28 L309.60,256.42 L310.30,256.71 L311.00,257.04 L311.70,256.99 L312.40,257.02 L313.10,256.93 L313.80,256.78 L314.50,256.69 L315.20,256.77 L315.90,256.60 L316.60,256.49 L317.30,256.40 L318.00,256.13 L318.70,256.17 L319.40,256.34 L320.10,256.56 L320.80,256.79 L321.50,257.19 L321.80,257.16" fill="none" stroke="#b4b4b4" stroke-width="1.1" stroke-linejoin="round"/>
<path d="M215.80,256.78 L216.50,256.51 L217.20,256.15 L217.90,256.27 L218.60,256.25 L219.30,256.11 L220.00,256.04 L220.70,255.95 L221.40,256.09 L222.10,256.51 L222.80,256.78 L223.50,256.76 L224.20,256.74 L224.90,256.87 L225.60,256.79 L226.30,256.94 L227.00,256.84 L227.70,256.90 L228.40,256.68 L229.10,256.41 L229.80,256.08 L230.50,256.37 L231.20,256.75 L231.90,256.90 L232.60,256.63 L233.30,256.43 L234.00,256.43 L234.70,256.76 L235.40,256.86 L236.10,256.84 L236.80,256.68 L237.50,256.75 L238.20,256.62 L238.90,256.60 L239.60,256.24 L240.30,255.98 L241.00,256.01 L241.70,256.29 L242.40,256.30 L243.10,256.66 L243.80,257.13 L244.50,257.14 L245.20,256.74 L245.90,256.81 L246.60,256.85 L247.30,256.94 L248.00,256.76 L248.70,256.32 L249.40,255.92 L250.10,255.97 L250.80,255.92 L251.50,256.09 L252.20,256.02 L252.90,255.98 L253.60,255.86 L254.30,255.92 L255.00,255.91 L255.70,255.90 L256.40,255.96 L257.10,255.86 L257.80,255.54 L258.50,255.32 L259.20,255.31 L259.90,255.28 L260.60,255.13 L261.30,255.09 L262.00,254.78 L262.70,253.88 L263.40,253.04 L264.10,252.35 L264.80,251.53 L265.50,250.44 L266.20,249.17 L266.90,247.84 L267.60,246.48 L268.30,245.24 L268.80,244.67 L269.00,244.84 L269.70,245.92 L270.40,247.25 L271.10,248.62 L271.80,249.94 L272.50,251.13 L273.20,252.18 L273.90,253.06 L274.60,253.80 L275.30,254.52 L276.00,254.94 L276.70,255.57 L277.40,255.88 L278.10,256.10 L278.80,255.77 L279.50,255.65 L280.20,255.83 L280.90,255.90 L281.60,255.87 L282.30,255.75 L283.00,255.62 L283.70,255.78 L284.40,256.19 L285.10,256.16 L285.80,256.35 L286.50,256.28 L287.20,256.28 L287.90,256.03 L288.60,256.17 L289.30,256.71 L290.00,257.03 L290.70,256.72 L291.40,256.19 L292.10,256.29 L292.80,256.39 L293.50,256.53 L294.20,256.65 L294.90,256.76 L295.60,256.93 L296.30,256.81 L297.00,256.80 L297.70,256.62 L298.40,256.46 L299.10,256.33 L299.80,256.62 L300.50,256.75 L301.20,256.67 L301.90,256.46 L302.60,256.39 L303.30,256.46 L304.00,256.36 L304.70,256.35 L305.40,256.45 L306.10,256.58 L306.80,256.80 L307.50,256.83 L308.20,256.87 L308.90,256.63 L309.60,256.54 L310.30,256.71 L311.00,256.73 L311.70,256.87 L312.40,256.75 L313.10,256.72 L313.80,256.71 L314.50,256.78 L315.20,256.82 L315.90,256.65 L316.60,256.55 L317.30,256.74 L318.00,257.03 L318.70,256.84 L319.40,256.53 L320.10,256.26 L320.80,255.95 L321.50,255.85 L321.80,255.86" fill="none" stroke="#8a8a8e" stroke-width="1.2" stroke-linejoin="round"/>
<path d="M215.80,254.88 L216.50,254.44 L217.20,253.96 L217.90,253.73 L218.60,253.85 L219.30,253.71 L220.00,253.51 L220.70,253.46 L221.40,253.46 L222.10,253.97 L222.80,254.52 L223.50,254.69 L224.20,254.51 L224.90,254.39 L225.60,254.07 L226.30,253.71 L227.00,253.68 L227.70,253.65 L228.40,253.90 L229.10,254.23 L229.80,254.56 L230.50,254.27 L231.20,253.90 L231.90,253.84 L232.60,254.07 L233.30,254.42 L234.00,254.20 L234.70,253.59 L235.40,253.58 L236.10,254.25 L236.80,254.67 L237.50,254.84 L238.20,254.76 L238.90,254.75 L239.60,254.14 L240.30,253.49 L241.00,253.59 L241.70,253.99 L242.40,254.45 L243.10,254.53 L243.80,254.52 L244.50,254.29 L245.20,253.89 L245.90,253.45 L246.60,253.69 L247.30,253.81 L248.00,253.94 L248.70,254.35 L249.40,254.69 L250.10,254.47 L250.80,253.95 L251.50,253.98 L252.20,253.84 L252.90,253.57 L253.60,253.98 L254.30,254.38 L255.00,254.45 L255.70,253.68 L256.40,253.27 L257.10,253.49 L257.80,253.55 L258.50,253.39 L259.20,252.72 L259.90,251.92 L260.60,251.22 L261.30,250.29 L262.00,248.78 L262.70,246.99 L263.40,244.66 L264.10,241.71 L264.80,238.19 L265.50,234.57 L266.20,230.59 L266.90,226.12 L267.60,221.53 L268.30,217.36 L268.80,215.42 L269.00,215.98 L269.70,219.64 L270.40,224.14 L271.10,228.73 L271.80,233.02 L272.50,236.90 L273.20,240.09 L273.90,242.77 L274.60,245.17 L275.30,247.08 L276.00,248.75 L276.70,250.39 L277.40,251.97 L278.10,252.54 L278.80,252.67 L279.50,252.80 L280.20,252.95 L280.90,253.16 L281.60,253.68 L282.30,254.10 L283.00,254.37 L283.70,254.62 L284.40,254.88 L285.10,254.51 L285.80,253.84 L286.50,253.22 L287.20,253.52 L287.90,253.90 L288.60,254.01 L289.30,254.60 L290.00,254.60 L290.70,254.57 L291.40,254.35 L292.10,254.27 L292.80,254.45 L293.50,254.79 L294.20,254.30 L294.90,253.60 L295.60,253.58 L296.30,253.87 L297.00,254.16 L297.70,254.19 L298.40,254.82 L299.10,254.73 L299.80,254.04 L300.50,253.65 L301.20,253.73 L301.90,254.73 L302.60,254.73 L303.30,254.57 L304.00,254.42 L304.70,254.54 L305.40,254.94 L306.10,254.98 L306.80,254.35 L307.50,253.55 L308.20,254.04 L308.90,254.69 L309.60,254.69 L310.30,254.37 L311.00,254.02 L311.70,254.08 L312.40,254.68 L313.10,254.78 L313.80,254.56 L314.50,254.06 L315.20,254.20 L315.90,253.87 L316.60,253.73 L317.30,253.79 L318.00,254.04 L318.70,254.01 L319.40,254.01 L320.10,254.21 L320.80,254.25 L321.50,254.27 L321.80,254.03" fill="none" stroke="#a6cfea" stroke-width="1.3" stroke-linejoin="round"/>
<line x1="275.60" y1="218.80" x2="284.60" y2="218.80" stroke="#d4d4d4" stroke-width="1.7"/>
<text x="287.50" y="221.00" font-size="6.3">N-22.27</text>
<line x1="275.60" y1="225.05" x2="284.60" y2="225.05" stroke="#b4b4b4" stroke-width="1.7"/>
<text x="287.50" y="227.25" font-size="6.3">N-22.22</text>
<line x1="275.60" y1="231.30" x2="284.60" y2="231.30" stroke="#8a8a8e" stroke-width="1.7"/>
<text x="287.50" y="233.50" font-size="6.3">N-22.45</text>
<line x1="275.60" y1="237.55" x2="284.60" y2="237.55" stroke="#a6cfea" stroke-width="1.7"/>
<text x="287.50" y="239.75" font-size="6.3">MDS-22.44</text>
<rect x="215.3" y="213.3" width="107.00" height="46.00" fill="none" stroke="#000" stroke-width="1"/>
<line x1="212.30" y1="259.30" x2="215.30" y2="259.30" stroke="#000" stroke-width="1"/>
<text x="209.20" y="262.00" font-size="7.6" text-anchor="end">0</text>
<line x1="212.30" y1="245.63" x2="215.30" y2="245.63" stroke="#000" stroke-width="1"/>
<text x="209.20" y="248.33" font-size="7.6" text-anchor="end">10</text>
<line x1="212.30" y1="231.96" x2="215.30" y2="231.96" stroke="#000" stroke-width="1"/>
<text x="209.20" y="234.66" font-size="7.6" text-anchor="end">20</text>
<line x1="212.30" y1="218.29" x2="215.30" y2="218.29" stroke="#000" stroke-width="1"/>
<text x="209.20" y="220.99" font-size="7.6" text-anchor="end">30</text>
<line x1="215.30" y1="259.30" x2="215.30" y2="262.10" stroke="#000" stroke-width="1"/>
<line x1="268.80" y1="259.30" x2="268.80" y2="262.10" stroke="#000" stroke-width="1"/>
<line x1="322.30" y1="259.30" x2="322.30" y2="262.10" stroke="#000" stroke-width="1"/>
<text x="205.90" y="270.80" font-size="7.5" textLength="15.00" lengthAdjust="spacingAndGlyphs">−5.0</text>
<text x="269.00" y="270.80" font-size="7.5" text-anchor="middle" textLength="38.20" lengthAdjust="spacingAndGlyphs">Peak center</text>
<text x="312.40" y="270.80" font-size="7.5" textLength="19.70" lengthAdjust="spacingAndGlyphs">5.0Kb</text>
<text x="243.50" y="209.80" font-size="7.5" textLength="50.30" lengthAdjust="spacingAndGlyphs">P22 iPSC lines</text>
<text transform="translate(194.2,236.1) rotate(-90)" x="0" y="0" font-size="8.5" class="cd" text-anchor="middle" textLength="34.7" lengthAdjust="spacingAndGlyphs">Accessibility</text>
<rect x="382" y="213.3" width="107.50" height="46.00" fill="#fff"/>
<path d="M382.50,256.56 L383.20,256.19 L383.90,255.74 L384.60,255.77 L385.30,255.81 L386.00,255.82 L386.70,255.85 L387.40,256.07 L388.10,256.05 L388.80,256.24 L389.50,256.38 L390.20,256.26 L390.90,255.83 L391.60,255.65 L392.30,255.52 L393.00,255.63 L393.70,255.67 L394.40,255.96 L395.10,256.08 L395.80,256.10 L396.50,255.95 L397.20,256.03 L397.90,256.31 L398.60,256.35 L399.30,256.49 L400.00,256.60 L400.70,256.52 L401.40,256.36 L402.10,256.09 L402.80,255.98 L403.50,255.91 L404.20,255.92 L404.90,256.38 L405.60,256.63 L406.30,256.30 L407.00,255.64 L407.70,255.76 L408.40,256.19 L409.10,256.32 L409.80,256.33 L410.50,256.39 L411.20,256.34 L411.90,256.63 L412.60,256.69 L413.30,256.32 L414.00,255.56 L414.70,255.42 L415.40,255.62 L416.10,255.72 L416.80,255.56 L417.50,255.44 L418.20,255.46 L418.90,255.68 L419.60,255.89 L420.30,255.91 L421.00,256.43 L421.70,256.55 L422.40,256.49 L423.10,256.23 L423.80,256.01 L424.50,255.85 L425.20,255.71 L425.90,255.88 L426.60,256.04 L427.30,255.74 L428.00,254.97 L428.70,254.56 L429.40,254.49 L430.10,254.45 L430.80,254.00 L431.50,253.58 L432.20,252.89 L432.90,252.08 L433.60,251.31 L434.30,250.51 L435.00,249.75 L435.70,249.20 L435.75,249.18 L436.40,249.66 L437.10,250.40 L437.80,251.20 L438.50,251.93 L439.20,252.71 L439.90,253.35 L440.60,253.86 L441.30,254.32 L442.00,254.74 L442.70,255.19 L443.40,255.30 L444.10,255.44 L444.80,255.66 L445.50,255.87 L446.20,256.19 L446.90,256.28 L447.60,256.50 L448.30,256.59 L449.00,256.14 L449.70,255.56 L450.40,255.58 L451.10,256.10 L451.80,256.45 L452.50,256.02 L453.20,255.61 L453.90,255.68 L454.60,256.10 L455.30,256.51 L456.00,256.04 L456.70,255.57 L457.40,255.33 L458.10,255.51 L458.80,255.44 L459.50,255.59 L460.20,255.61 L460.90,255.71 L461.60,255.76 L462.30,255.68 L463.00,255.77 L463.70,255.79 L464.40,255.94 L465.10,255.80 L465.80,255.70 L466.50,255.82 L467.20,256.46 L467.90,256.50 L468.60,256.29 L469.30,256.02 L470.00,255.85 L470.70,255.72 L471.40,255.55 L472.10,255.97 L472.80,256.38 L473.50,256.34 L474.20,255.64 L474.90,255.34 L475.60,255.49 L476.30,255.52 L477.00,255.48 L477.70,256.02 L478.40,256.23 L479.10,256.25 L479.80,256.13 L480.50,256.14 L481.20,256.14 L481.90,256.06 L482.60,256.22 L483.30,256.14 L484.00,256.11 L484.70,255.66 L485.40,255.37 L486.10,255.62 L486.80,256.11 L487.50,256.30 L488.20,256.47 L488.90,256.71 L489.00,256.62" fill="none" stroke="#d4d4d4" stroke-width="1.1" stroke-linejoin="round"/>
<path d="M382.50,255.13 L383.20,255.52 L383.90,256.02 L384.60,256.16 L385.30,256.33 L386.00,256.42 L386.70,256.07 L387.40,255.18 L388.10,255.20 L388.80,255.69 L389.50,256.20 L390.20,256.24 L390.90,256.28 L391.60,256.30 L392.30,255.97 L393.00,255.55 L393.70,255.57 L394.40,255.84 L395.10,256.00 L395.80,255.55 L396.50,255.33 L397.20,255.41 L397.90,255.82 L398.60,256.01 L399.30,255.68 L400.00,255.10 L400.70,255.26 L401.40,255.74 L402.10,255.97 L402.80,255.74 L403.50,255.59 L404.20,255.55 L404.90,255.26 L405.60,255.13 L406.30,255.31 L407.00,255.40 L407.70,255.39 L408.40,255.26 L409.10,255.08 L409.80,255.36 L410.50,255.42 L411.20,255.50 L411.90,256.03 L412.60,256.43 L413.30,256.00 L414.00,255.42 L414.70,255.29 L415.40,255.54 L416.10,255.52 L416.80,255.74 L417.50,256.00 L418.20,256.06 L418.90,256.12 L419.60,256.06 L420.30,256.01 L421.00,255.47 L421.70,255.28 L422.40,255.33 L423.10,255.52 L423.80,255.35 L424.50,254.92 L425.20,254.65 L425.90,254.59 L426.60,254.63 L427.30,254.26 L428.00,253.68 L428.70,253.28 L429.40,252.80 L430.10,252.17 L430.80,251.21 L431.50,249.94 L432.20,248.53 L432.90,246.96 L433.60,245.18 L434.30,243.26 L435.00,241.42 L435.70,240.06 L435.75,240.03 L436.40,241.18 L437.10,242.99 L437.80,244.91 L438.50,246.74 L439.20,248.49 L439.90,249.90 L440.60,251.00 L441.30,251.87 L442.00,252.66 L442.70,253.09 L443.40,253.79 L444.10,254.27 L444.80,254.60 L445.50,255.16 L446.20,255.78 L446.90,255.70 L447.60,255.37 L448.30,255.17 L449.00,255.21 L449.70,255.36 L450.40,255.67 L451.10,255.97 L451.80,256.12 L452.50,256.30 L453.20,256.27 L453.90,256.19 L454.60,255.90 L455.30,255.73 L456.00,255.88 L456.70,256.31 L457.40,256.32 L458.10,255.65 L458.80,255.23 L459.50,255.28 L460.20,255.66 L460.90,255.70 L461.60,255.66 L462.30,255.63 L463.00,255.83 L463.70,255.87 L464.40,255.77 L465.10,255.63 L465.80,255.55 L466.50,255.41 L467.20,255.31 L467.90,255.28 L468.60,255.69 L469.30,256.01 L470.00,256.04 L470.70,255.94 L471.40,255.82 L472.10,255.86 L472.80,255.63 L473.50,255.63 L474.20,255.90 L474.90,256.01 L475.60,255.79 L476.30,255.74 L477.00,255.53 L477.70,255.63 L478.40,255.62 L479.10,255.68 L479.80,255.91 L480.50,255.89 L481.20,255.69 L481.90,255.51 L482.60,255.49 L483.30,255.60 L484.00,255.78 L484.70,256.05 L485.40,256.26 L486.10,255.97 L486.80,255.15 L487.50,255.03 L488.20,255.52 L488.90,255.85 L489.00,255.88" fill="none" stroke="#b4b4b4" stroke-width="1.1" stroke-linejoin="round"/>
<path d="M382.50,255.22 L383.20,255.27 L383.90,255.18 L384.60,255.34 L385.30,255.22 L386.00,255.44 L386.70,255.70 L387.40,256.39 L388.10,256.34 L388.80,256.01 L389.50,255.67 L390.20,255.76 L390.90,255.85 L391.60,255.97 L392.30,255.81 L393.00,255.79 L393.70,256.00 L394.40,256.18 L395.10,256.41 L395.80,256.41 L396.50,256.39 L397.20,256.24 L397.90,256.11 L398.60,255.87 L399.30,256.00 L400.00,256.31 L400.70,256.29 L401.40,256.03 L402.10,256.01 L402.80,256.17 L403.50,256.42 L404.20,256.57 L404.90,256.49 L405.60,256.37 L406.30,256.15 L407.00,255.71 L407.70,255.55 L408.40,255.78 L409.10,255.91 L409.80,255.91 L410.50,255.90 L411.20,255.80 L411.90,255.62 L412.60,255.53 L413.30,255.76 L414.00,256.03 L414.70,256.11 L415.40,256.24 L416.10,256.47 L416.80,256.23 L417.50,255.61 L418.20,255.57 L418.90,255.59 L419.60,255.77 L420.30,255.70 L421.00,255.58 L421.70,255.66 L422.40,255.52 L423.10,255.69 L423.80,255.47 L424.50,255.17 L425.20,255.06 L425.90,255.23 L426.60,255.51 L427.30,255.34 L428.00,254.85 L428.70,254.61 L429.40,254.42 L430.10,254.19 L430.80,253.82 L431.50,253.18 L432.20,252.61 L432.90,251.95 L433.60,251.26 L434.30,250.53 L435.00,249.84 L435.70,249.33 L435.75,249.32 L436.40,249.75 L437.10,250.42 L437.80,251.15 L438.50,251.89 L439.20,252.54 L439.90,253.12 L440.60,253.49 L441.30,253.97 L442.00,254.27 L442.70,254.61 L443.40,254.95 L444.10,255.19 L444.80,255.39 L445.50,255.42 L446.20,255.45 L446.90,255.63 L447.60,256.02 L448.30,256.22 L449.00,256.13 L449.70,256.28 L450.40,256.26 L451.10,256.16 L451.80,256.03 L452.50,255.84 L453.20,255.48 L453.90,255.60 L454.60,256.06 L455.30,256.38 L456.00,256.39 L456.70,256.44 L457.40,256.34 L458.10,256.42 L458.80,256.51 L459.50,256.46 L460.20,256.58 L460.90,256.47 L461.60,256.33 L462.30,256.12 L463.00,256.12 L463.70,255.78 L464.40,255.82 L465.10,255.50 L465.80,255.42 L466.50,255.70 L467.20,255.92 L467.90,256.16 L468.60,256.11 L469.30,256.13 L470.00,256.01 L470.70,256.23 L471.40,256.12 L472.10,256.18 L472.80,256.11 L473.50,256.08 L474.20,255.76 L474.90,255.42 L475.60,255.60 L476.30,255.86 L477.00,255.78 L477.70,256.01 L478.40,256.28 L479.10,256.39 L479.80,256.38 L480.50,256.39 L481.20,255.77 L481.90,255.50 L482.60,255.49 L483.30,255.57 L484.00,255.53 L484.70,255.43 L485.40,255.41 L486.10,255.66 L486.80,256.16 L487.50,256.29 L488.20,256.08 L488.90,255.75 L489.00,255.88" fill="none" stroke="#8a8a8e" stroke-width="1.2" stroke-linejoin="round"/>
<path d="M382.50,254.33 L383.20,254.16 L383.90,254.14 L384.60,254.20 L385.30,254.68 L386.00,255.23 L386.70,254.84 L387.40,254.01 L388.10,253.94 L388.80,254.50 L389.50,255.20 L390.20,254.98 L390.90,254.62 L391.60,254.43 L392.30,254.92 L393.00,255.32 L393.70,255.01 L394.40,254.57 L395.10,254.14 L395.80,254.66 L396.50,255.11 L397.20,255.04 L397.90,254.52 L398.60,254.34 L399.30,254.33 L400.00,254.35 L400.70,254.32 L401.40,254.29 L402.10,254.26 L402.80,254.33 L403.50,254.63 L404.20,254.62 L404.90,254.40 L405.60,254.11 L406.30,253.97 L407.00,253.82 L407.70,254.02 L408.40,254.73 L409.10,255.18 L409.80,255.13 L410.50,254.74 L411.20,254.51 L411.90,254.24 L412.60,253.85 L413.30,254.03 L414.00,254.32 L414.70,254.29 L415.40,254.63 L416.10,254.66 L416.80,254.71 L417.50,254.91 L418.20,254.82 L418.90,254.47 L419.60,253.91 L420.30,254.23 L421.00,255.02 L421.70,255.09 L422.40,254.73 L423.10,253.90 L423.80,253.81 L424.50,253.55 L425.20,253.47 L425.90,253.44 L426.60,253.61 L427.30,253.27 L428.00,252.44 L428.70,251.50 L429.40,250.33 L430.10,249.02 L430.80,247.16 L431.50,245.04 L432.20,242.55 L432.90,239.83 L433.60,236.73 L434.30,233.48 L435.00,230.36 L435.70,228.05 L435.75,228.00 L436.40,229.95 L437.10,233.02 L437.80,236.27 L438.50,239.38 L439.20,242.33 L439.90,244.75 L440.60,246.45 L441.30,248.17 L442.00,249.92 L442.70,251.65 L443.40,252.51 L444.10,253.28 L444.80,253.79 L445.50,253.70 L446.20,253.61 L446.90,253.67 L447.60,253.88 L448.30,253.94 L449.00,254.06 L449.70,254.06 L450.40,253.87 L451.10,253.85 L451.80,253.81 L452.50,253.94 L453.20,253.96 L453.90,254.13 L454.60,254.80 L455.30,255.14 L456.00,254.83 L456.70,254.25 L457.40,254.16 L458.10,254.13 L458.80,254.02 L459.50,254.44 L460.20,255.10 L460.90,255.21 L461.60,254.99 L462.30,254.71 L463.00,254.88 L463.70,255.02 L464.40,255.21 L465.10,255.12 L465.80,255.30 L466.50,255.07 L467.20,254.78 L467.90,254.57 L468.60,254.56 L469.30,254.45 L470.00,254.19 L470.70,253.88 L471.40,253.90 L472.10,254.56 L472.80,255.30 L473.50,255.16 L474.20,254.70 L474.90,254.67 L475.60,254.31 L476.30,253.87 L477.00,253.96 L477.70,254.20 L478.40,254.21 L479.10,254.25 L479.80,254.47 L480.50,254.70 L481.20,254.84 L481.90,254.99 L482.60,254.83 L483.30,254.55 L484.00,254.57 L484.70,254.76 L485.40,255.00 L486.10,254.92 L486.80,254.60 L487.50,254.51 L488.20,254.33 L488.90,254.31 L489.00,254.40" fill="none" stroke="#a6cfea" stroke-width="1.3" stroke-linejoin="round"/>
<path d="M382.50,254.67 L383.20,254.31 L383.90,253.86 L384.60,253.90 L385.30,253.99 L386.00,253.84 L386.70,254.30 L387.40,254.92 L388.10,254.90 L388.80,254.34 L389.50,253.91 L390.20,254.02 L390.90,254.27 L391.60,254.34 L392.30,254.82 L393.00,255.20 L393.70,254.94 L394.40,254.12 L395.10,253.68 L395.80,254.43 L396.50,254.81 L397.20,254.92 L397.90,254.78 L398.60,254.78 L399.30,254.73 L400.00,254.62 L400.70,254.66 L401.40,254.57 L402.10,254.31 L402.80,254.74 L403.50,255.17 L404.20,254.94 L404.90,254.49 L405.60,254.32 L406.30,254.12 L407.00,254.08 L407.70,253.93 L408.40,254.36 L409.10,254.39 L409.80,254.32 L410.50,254.20 L411.20,254.08 L411.90,254.08 L412.60,254.26 L413.30,254.30 L414.00,254.07 L414.70,254.09 L415.40,254.66 L416.10,254.99 L416.80,254.91 L417.50,254.86 L418.20,254.71 L418.90,254.54 L419.60,254.43 L420.30,254.71 L421.00,255.05 L421.70,254.91 L422.40,254.37 L423.10,253.66 L423.80,253.45 L424.50,253.76 L425.20,253.63 L425.90,253.76 L426.60,253.95 L427.30,253.44 L428.00,252.57 L428.70,251.61 L429.40,250.96 L430.10,250.01 L430.80,248.68 L431.50,247.30 L432.20,245.48 L432.90,243.35 L433.60,241.02 L434.30,238.66 L435.00,236.40 L435.70,234.74 L435.75,234.69 L436.40,236.10 L437.10,238.32 L437.80,240.68 L438.50,242.99 L439.20,245.01 L439.90,246.85 L440.60,248.43 L441.30,249.67 L442.00,250.98 L442.70,252.16 L443.40,252.72 L444.10,252.67 L444.80,252.87 L445.50,253.75 L446.20,254.51 L446.90,254.72 L447.60,254.83 L448.30,254.69 L449.00,254.36 L449.70,253.88 L450.40,253.97 L451.10,254.68 L451.80,254.83 L452.50,254.69 L453.20,254.54 L453.90,254.71 L454.60,254.39 L455.30,254.29 L456.00,254.58 L456.70,254.51 L457.40,254.53 L458.10,254.67 L458.80,254.47 L459.50,254.46 L460.20,254.45 L460.90,254.62 L461.60,254.41 L462.30,254.65 L463.00,254.84 L463.70,255.02 L464.40,255.18 L465.10,254.63 L465.80,254.04 L466.50,254.18 L467.20,254.76 L467.90,254.78 L468.60,255.03 L469.30,255.27 L470.00,255.17 L470.70,254.90 L471.40,254.53 L472.10,254.40 L472.80,253.92 L473.50,254.04 L474.20,254.21 L474.90,254.39 L475.60,254.42 L476.30,254.67 L477.00,254.59 L477.70,254.53 L478.40,254.45 L479.10,254.78 L479.80,255.02 L480.50,254.83 L481.20,254.64 L481.90,254.40 L482.60,254.48 L483.30,254.73 L484.00,254.68 L484.70,255.16 L485.40,255.14 L486.10,255.21 L486.80,255.23 L487.50,255.19 L488.20,255.06 L488.90,255.26 L489.00,255.20" fill="none" stroke="#5892d0" stroke-width="1.3" stroke-linejoin="round"/>
<path d="M382.50,253.61 L383.20,254.12 L383.90,254.67 L384.60,254.75 L385.30,254.79 L386.00,254.77 L386.70,254.31 L387.40,254.07 L388.10,253.86 L388.80,254.43 L389.50,254.87 L390.20,254.47 L390.90,253.76 L391.60,253.62 L392.30,253.60 L393.00,253.63 L393.70,254.05 L394.40,254.82 L395.10,254.93 L395.80,254.37 L396.50,253.66 L397.20,253.79 L397.90,253.92 L398.60,254.10 L399.30,253.96 L400.00,253.77 L400.70,253.88 L401.40,253.55 L402.10,253.26 L402.80,253.27 L403.50,253.20 L404.20,253.44 L404.90,254.02 L405.60,254.39 L406.30,253.94 L407.00,253.67 L407.70,253.60 L408.40,253.47 L409.10,253.58 L409.80,253.58 L410.50,253.12 L411.20,253.34 L411.90,254.15 L412.60,254.95 L413.30,254.50 L414.00,253.57 L414.70,253.45 L415.40,253.88 L416.10,254.63 L416.80,254.72 L417.50,254.86 L418.20,254.72 L418.90,254.17 L419.60,253.90 L420.30,253.63 L421.00,253.36 L421.70,253.25 L422.40,253.02 L423.10,252.77 L423.80,252.74 L424.50,253.37 L425.20,253.30 L425.90,252.49 L426.60,251.56 L427.30,250.91 L428.00,250.62 L428.70,249.76 L429.40,247.53 L430.10,244.99 L430.80,242.44 L431.50,239.92 L432.20,236.64 L432.90,232.53 L433.60,228.05 L434.30,223.40 L435.00,218.93 L435.70,215.64 L435.75,215.56 L436.40,218.35 L437.10,222.74 L437.80,227.39 L438.50,231.97 L439.20,236.17 L439.90,239.84 L440.60,242.55 L441.30,245.01 L442.00,246.96 L442.70,248.74 L443.40,249.96 L444.10,250.76 L444.80,251.44 L445.50,251.93 L446.20,252.35 L446.90,252.74 L447.60,253.34 L448.30,253.73 L449.00,253.63 L449.70,253.34 L450.40,253.41 L451.10,254.28 L451.80,254.55 L452.50,253.97 L453.20,253.42 L453.90,253.52 L454.60,254.31 L455.30,254.64 L456.00,253.97 L456.70,253.52 L457.40,253.50 L458.10,253.91 L458.80,254.38 L459.50,254.27 L460.20,254.33 L460.90,254.31 L461.60,254.21 L462.30,254.01 L463.00,254.26 L463.70,254.94 L464.40,254.89 L465.10,254.86 L465.80,254.93 L466.50,254.81 L467.20,254.33 L467.90,253.87 L468.60,253.97 L469.30,253.85 L470.00,254.09 L470.70,254.57 L471.40,254.82 L472.10,254.58 L472.80,254.19 L473.50,254.21 L474.20,254.46 L474.90,254.38 L475.60,253.98 L476.30,253.56 L477.00,253.43 L477.70,253.23 L478.40,253.28 L479.10,253.86 L479.80,254.61 L480.50,254.75 L481.20,254.41 L481.90,254.05 L482.60,254.18 L483.30,254.83 L484.00,254.86 L484.70,253.97 L485.40,253.52 L486.10,253.51 L486.80,253.31 L487.50,253.36 L488.20,253.46 L488.90,253.76 L489.00,253.70" fill="none" stroke="#2a35a8" stroke-width="1.6" stroke-linejoin="round"/>
<line x1="383.90" y1="217.20" x2="392.90" y2="217.20" stroke="#d4d4d4" stroke-width="1.7"/>
<text x="395.80" y="219.40" font-size="6.3">N-23.28</text>
<line x1="383.90" y1="223.52" x2="392.90" y2="223.52" stroke="#b4b4b4" stroke-width="1.7"/>
<text x="395.80" y="225.72" font-size="6.3">N-23.13</text>
<line x1="383.90" y1="229.84" x2="392.90" y2="229.84" stroke="#8a8a8e" stroke-width="1.7"/>
<text x="395.80" y="232.04" font-size="6.3">N-23.5</text>
<line x1="383.90" y1="236.16" x2="392.90" y2="236.16" stroke="#a6cfea" stroke-width="1.7"/>
<text x="395.80" y="238.36" font-size="6.3">MDS-23.6</text>
<line x1="383.90" y1="242.48" x2="392.90" y2="242.48" stroke="#5892d0" stroke-width="1.7"/>
<text x="395.80" y="244.68" font-size="6.3">MDS-23.24</text>
<line x1="383.90" y1="248.80" x2="392.90" y2="248.80" stroke="#2a35a8" stroke-width="1.7"/>
<text x="395.80" y="251.00" font-size="6.3">MDS-23.38</text>
<rect x="382" y="213.3" width="107.50" height="46.00" fill="none" stroke="#000" stroke-width="1"/>
<line x1="379.00" y1="259.30" x2="382.00" y2="259.30" stroke="#000" stroke-width="1"/>
<text x="375.90" y="262.00" font-size="7.6" text-anchor="end">0</text>
<line x1="379.00" y1="245.63" x2="382.00" y2="245.63" stroke="#000" stroke-width="1"/>
<text x="375.90" y="248.33" font-size="7.6" text-anchor="end">10</text>
<line x1="379.00" y1="231.96" x2="382.00" y2="231.96" stroke="#000" stroke-width="1"/>
<text x="375.90" y="234.66" font-size="7.6" text-anchor="end">20</text>
<line x1="379.00" y1="218.29" x2="382.00" y2="218.29" stroke="#000" stroke-width="1"/>
<text x="375.90" y="220.99" font-size="7.6" text-anchor="end">30</text>
<line x1="382.00" y1="259.30" x2="382.00" y2="262.10" stroke="#000" stroke-width="1"/>
<line x1="435.75" y1="259.30" x2="435.75" y2="262.10" stroke="#000" stroke-width="1"/>
<line x1="489.50" y1="259.30" x2="489.50" y2="262.10" stroke="#000" stroke-width="1"/>
<text x="372.60" y="270.80" font-size="7.5" textLength="15.00" lengthAdjust="spacingAndGlyphs">−5.0</text>
<text x="435.95" y="270.80" font-size="7.5" text-anchor="middle" textLength="38.20" lengthAdjust="spacingAndGlyphs">Peak center</text>
<text x="479.60" y="270.80" font-size="7.5" textLength="19.70" lengthAdjust="spacingAndGlyphs">5.0Kb</text>
<text x="410.40" y="209.80" font-size="7.5" textLength="50.80" lengthAdjust="spacingAndGlyphs">P23 iPSC lines</text>
<text transform="translate(361.0,236.1) rotate(-90)" x="0" y="0" font-size="8.5" class="cd" text-anchor="middle" textLength="34.7" lengthAdjust="spacingAndGlyphs">Accessibility</text>
<rect x="41.50" y="280.20" width="108.70" height="29.42" fill="#f4faf2"/>
<rect x="41.5" y="280.20" width="108.70" height="29.42" fill="url(#haze)" opacity="0.51"/>
<rect x="41.5" y="280.20" width="108.70" height="29.42" filter="url(#spk)" mask="url(#fall)" opacity="0.21"/>
<rect x="86.0" y="280.2" width="19.7" height="1.05" fill="url(#bandw)" opacity="0.21"/>
<rect x="88.9" y="280.2" width="13.2" height="1.05" fill="url(#band)" opacity="0.12"/>
<rect x="85.6" y="281.2" width="20.5" height="1.05" fill="url(#bandw)" opacity="0.24"/>
<rect x="88.3" y="281.2" width="15.5" height="1.05" fill="url(#band)" opacity="0.08"/>
<rect x="82.4" y="282.2" width="26.9" height="1.05" fill="url(#bandw)" opacity="0.21"/>
<rect x="88.9" y="282.2" width="13.8" height="1.05" fill="url(#band)" opacity="0.11"/>
<rect x="80.7" y="283.2" width="30.3" height="1.05" fill="url(#bandw)" opacity="0.20"/>
<rect x="90.7" y="283.2" width="10.1" height="1.05" fill="url(#band)" opacity="0.16"/>
<rect x="85.8" y="284.2" width="20.1" height="1.05" fill="url(#bandw)" opacity="0.25"/>
<rect x="89.5" y="284.2" width="12.1" height="1.05" fill="url(#band)" opacity="0.16"/>
<rect x="85.9" y="285.2" width="19.8" height="1.05" fill="url(#bandw)" opacity="0.31"/>
<rect x="89.6" y="285.2" width="13.1" height="1.05" fill="url(#band)" opacity="0.17"/>
<rect x="85.4" y="286.2" width="20.9" height="1.05" fill="url(#bandw)" opacity="0.21"/>
<rect x="88.2" y="286.2" width="14.6" height="1.05" fill="url(#band)" opacity="0.17"/>
<rect x="83.6" y="287.2" width="24.5" height="1.05" fill="url(#bandw)" opacity="0.36"/>
<rect x="89.5" y="287.2" width="13.2" height="1.05" fill="url(#band)" opacity="0.11"/>
<rect x="83.9" y="288.2" width="23.8" height="1.05" fill="url(#bandw)" opacity="0.21"/>
<rect x="89.0" y="288.2" width="12.9" height="1.05" fill="url(#band)" opacity="0.11"/>
<rect x="86.3" y="289.2" width="19.1" height="1.05" fill="url(#bandw)" opacity="0.23"/>
<rect x="90.5" y="289.2" width="11.2" height="1.05" fill="url(#band)" opacity="0.15"/>
<rect x="83.4" y="290.2" width="24.9" height="1.05" fill="url(#bandw)" opacity="0.37"/>
<rect x="88.5" y="290.2" width="14.4" height="1.05" fill="url(#band)" opacity="0.16"/>
<rect x="87.6" y="291.2" width="16.5" height="1.05" fill="url(#bandw)" opacity="0.29"/>
<rect x="89.7" y="291.2" width="11.6" height="1.05" fill="url(#band)" opacity="0.15"/>
<rect x="87.8" y="292.2" width="16.1" height="1.05" fill="url(#bandw)" opacity="0.34"/>
<rect x="89.7" y="292.2" width="11.6" height="1.05" fill="url(#band)" opacity="0.16"/>
<rect x="87.1" y="293.2" width="17.6" height="1.05" fill="url(#bandw)" opacity="0.33"/>
<rect x="89.8" y="293.2" width="11.6" height="1.05" fill="url(#band)" opacity="0.18"/>
<rect x="87.1" y="294.2" width="17.5" height="1.05" fill="url(#bandw)" opacity="0.31"/>
<rect x="90.8" y="294.2" width="10.3" height="1.05" fill="url(#band)" opacity="0.16"/>
<rect x="88.8" y="295.2" width="14.0" height="1.05" fill="url(#bandw)" opacity="0.16"/>
<rect x="89.2" y="295.2" width="12.8" height="1.05" fill="url(#band)" opacity="0.10"/>
<rect x="88.2" y="296.2" width="15.4" height="1.05" fill="url(#bandw)" opacity="0.28"/>
<rect x="89.9" y="296.2" width="11.9" height="1.05" fill="url(#band)" opacity="0.13"/>
<rect x="86.6" y="297.2" width="18.5" height="1.05" fill="url(#bandw)" opacity="0.19"/>
<rect x="91.4" y="297.2" width="9.2" height="1.05" fill="url(#band)" opacity="0.14"/>
<rect x="89.9" y="298.2" width="12.0" height="1.05" fill="url(#bandw)" opacity="0.15"/>
<rect x="92.1" y="298.2" width="7.9" height="1.05" fill="url(#band)" opacity="0.14"/>
<rect x="86.6" y="299.2" width="18.6" height="1.05" fill="url(#bandw)" opacity="0.27"/>
<rect x="92.1" y="299.2" width="8.2" height="1.05" fill="url(#band)" opacity="0.14"/>
<rect x="89.2" y="300.2" width="13.4" height="1.05" fill="url(#bandw)" opacity="0.13"/>
<rect x="91.3" y="300.2" width="8.5" height="1.05" fill="url(#band)" opacity="0.10"/>
<rect x="90.5" y="301.2" width="10.7" height="1.05" fill="url(#bandw)" opacity="0.15"/>
<rect x="90.7" y="301.2" width="10.5" height="1.05" fill="url(#band)" opacity="0.08"/>
<rect x="90.2" y="302.2" width="11.3" height="1.05" fill="url(#bandw)" opacity="0.15"/>
<rect x="90.6" y="302.2" width="10.0" height="1.05" fill="url(#band)" opacity="0.09"/>
<rect x="89.6" y="303.2" width="12.4" height="1.05" fill="url(#bandw)" opacity="0.23"/>
<rect x="91.5" y="303.2" width="8.5" height="1.05" fill="url(#band)" opacity="0.13"/>
<rect x="89.7" y="304.2" width="12.3" height="1.05" fill="url(#bandw)" opacity="0.23"/>
<rect x="91.8" y="304.2" width="8.0" height="1.05" fill="url(#band)" opacity="0.11"/>
<rect x="91.1" y="305.2" width="9.4" height="1.05" fill="url(#bandw)" opacity="0.13"/>
<rect x="91.7" y="305.2" width="9.0" height="1.05" fill="url(#band)" opacity="0.11"/>
<rect x="89.8" y="306.2" width="12.0" height="1.05" fill="url(#bandw)" opacity="0.20"/>
<rect x="92.4" y="306.2" width="6.4" height="1.05" fill="url(#band)" opacity="0.12"/>
<rect x="90.8" y="307.2" width="10.0" height="1.05" fill="url(#bandw)" opacity="0.13"/>
<rect x="92.3" y="307.2" width="7.0" height="1.05" fill="url(#band)" opacity="0.08"/>
<rect x="90.4" y="308.2" width="10.9" height="1.05" fill="url(#bandw)" opacity="0.18"/>
<rect x="92.9" y="308.2" width="6.2" height="1.05" fill="url(#band)" opacity="0.11"/>
<rect x="41.50" y="308.52" width="108.70" height="0.90" fill="#f8fcf7"/>
<text x="39.50" y="296.91" font-size="5.6" text-anchor="end">N_21.6</text>
<rect x="41.50" y="309.62" width="108.70" height="29.42" fill="#f4faf2"/>
<rect x="41.5" y="309.62" width="108.70" height="29.42" fill="url(#haze)" opacity="0.52"/>
<rect x="41.5" y="309.62" width="108.70" height="29.42" filter="url(#spk)" mask="url(#fall)" opacity="0.22"/>
<rect x="80.7" y="309.6" width="30.3" height="1.05" fill="url(#bandw)" opacity="0.20"/>
<rect x="88.3" y="309.6" width="14.8" height="1.05" fill="url(#band)" opacity="0.17"/>
<rect x="85.0" y="310.6" width="21.6" height="1.05" fill="url(#bandw)" opacity="0.40"/>
<rect x="89.7" y="310.6" width="12.8" height="1.05" fill="url(#band)" opacity="0.13"/>
<rect x="84.1" y="311.6" width="23.4" height="1.05" fill="url(#bandw)" opacity="0.24"/>
<rect x="90.2" y="311.6" width="11.6" height="1.05" fill="url(#band)" opacity="0.12"/>
<rect x="84.5" y="312.6" width="22.7" height="1.05" fill="url(#bandw)" opacity="0.38"/>
<rect x="90.8" y="312.6" width="10.4" height="1.05" fill="url(#band)" opacity="0.12"/>
<rect x="84.1" y="313.6" width="23.4" height="1.05" fill="url(#bandw)" opacity="0.30"/>
<rect x="87.7" y="313.6" width="15.9" height="1.05" fill="url(#band)" opacity="0.13"/>
<rect x="87.0" y="314.6" width="17.7" height="1.05" fill="url(#bandw)" opacity="0.29"/>
<rect x="89.7" y="314.6" width="11.5" height="1.05" fill="url(#band)" opacity="0.15"/>
<rect x="87.4" y="315.6" width="16.9" height="1.05" fill="url(#bandw)" opacity="0.26"/>
<rect x="89.1" y="315.6" width="14.1" height="1.05" fill="url(#band)" opacity="0.13"/>
<rect x="84.4" y="316.6" width="22.8" height="1.05" fill="url(#bandw)" opacity="0.27"/>
<rect x="88.9" y="316.6" width="14.0" height="1.05" fill="url(#band)" opacity="0.13"/>
<rect x="83.3" y="317.6" width="25.1" height="1.05" fill="url(#bandw)" opacity="0.29"/>
<rect x="90.4" y="317.6" width="11.0" height="1.05" fill="url(#band)" opacity="0.12"/>
<rect x="87.1" y="318.6" width="17.6" height="1.05" fill="url(#bandw)" opacity="0.25"/>
<rect x="90.0" y="318.6" width="12.0" height="1.05" fill="url(#band)" opacity="0.21"/>
<rect x="85.6" y="319.6" width="20.4" height="1.05" fill="url(#bandw)" opacity="0.36"/>
<rect x="90.8" y="319.6" width="10.4" height="1.05" fill="url(#band)" opacity="0.15"/>
<rect x="85.8" y="320.6" width="20.2" height="1.05" fill="url(#bandw)" opacity="0.21"/>
<rect x="90.2" y="320.6" width="10.8" height="1.05" fill="url(#band)" opacity="0.20"/>
<rect x="85.3" y="321.6" width="21.0" height="1.05" fill="url(#bandw)" opacity="0.17"/>
<rect x="88.9" y="321.6" width="13.6" height="1.05" fill="url(#band)" opacity="0.19"/>
<rect x="84.4" y="322.6" width="23.0" height="1.05" fill="url(#bandw)" opacity="0.32"/>
<rect x="91.6" y="322.6" width="8.4" height="1.05" fill="url(#band)" opacity="0.13"/>
<rect x="84.7" y="323.6" width="22.4" height="1.05" fill="url(#bandw)" opacity="0.18"/>
<rect x="91.4" y="323.6" width="8.2" height="1.05" fill="url(#band)" opacity="0.14"/>
<rect x="87.6" y="324.6" width="16.5" height="1.05" fill="url(#bandw)" opacity="0.26"/>
<rect x="90.5" y="324.6" width="10.0" height="1.05" fill="url(#band)" opacity="0.12"/>
<rect x="86.2" y="325.6" width="19.3" height="1.05" fill="url(#bandw)" opacity="0.23"/>
<rect x="91.0" y="325.6" width="10.0" height="1.05" fill="url(#band)" opacity="0.15"/>
<rect x="86.1" y="326.6" width="19.4" height="1.05" fill="url(#bandw)" opacity="0.30"/>
<rect x="90.1" y="326.6" width="11.0" height="1.05" fill="url(#band)" opacity="0.14"/>
<rect x="89.7" y="327.6" width="12.4" height="1.05" fill="url(#bandw)" opacity="0.30"/>
<rect x="92.4" y="327.6" width="7.5" height="1.05" fill="url(#band)" opacity="0.16"/>
<rect x="89.0" y="328.6" width="13.7" height="1.05" fill="url(#bandw)" opacity="0.21"/>
<rect x="91.5" y="328.6" width="9.0" height="1.05" fill="url(#band)" opacity="0.19"/>
<rect x="87.4" y="329.6" width="16.9" height="1.05" fill="url(#bandw)" opacity="0.14"/>
<rect x="90.7" y="329.6" width="10.2" height="1.05" fill="url(#band)" opacity="0.14"/>
<rect x="87.8" y="330.6" width="16.1" height="1.05" fill="url(#bandw)" opacity="0.26"/>
<rect x="90.8" y="330.6" width="10.7" height="1.05" fill="url(#band)" opacity="0.16"/>
<rect x="89.4" y="331.6" width="12.8" height="1.05" fill="url(#bandw)" opacity="0.22"/>
<rect x="90.6" y="331.6" width="9.8" height="1.05" fill="url(#band)" opacity="0.13"/>
<rect x="89.2" y="332.6" width="13.3" height="1.05" fill="url(#bandw)" opacity="0.27"/>
<rect x="90.8" y="332.6" width="9.9" height="1.05" fill="url(#band)" opacity="0.09"/>
<rect x="90.6" y="333.6" width="10.5" height="1.05" fill="url(#bandw)" opacity="0.18"/>
<rect x="90.7" y="333.6" width="10.0" height="1.05" fill="url(#band)" opacity="0.11"/>
<rect x="90.7" y="334.6" width="10.2" height="1.05" fill="url(#bandw)" opacity="0.19"/>
<rect x="91.3" y="334.6" width="8.6" height="1.05" fill="url(#band)" opacity="0.10"/>
<rect x="91.1" y="335.6" width="9.5" height="1.05" fill="url(#bandw)" opacity="0.16"/>
<rect x="91.5" y="335.6" width="9.2" height="1.05" fill="url(#band)" opacity="0.09"/>
<rect x="91.7" y="336.6" width="8.4" height="1.05" fill="url(#bandw)" opacity="0.23"/>
<rect x="92.5" y="336.6" width="6.5" height="1.05" fill="url(#band)" opacity="0.14"/>
<rect x="92.0" y="337.6" width="7.7" height="1.05" fill="url(#bandw)" opacity="0.12"/>
<rect x="91.7" y="337.6" width="8.2" height="1.05" fill="url(#band)" opacity="0.12"/>
<rect x="41.50" y="337.94" width="108.70" height="0.90" fill="#f8fcf7"/>
<text x="39.50" y="326.33" font-size="5.6" text-anchor="end">N_21.14</text>
<rect x="41.50" y="339.04" width="108.70" height="29.42" fill="#f4faf2"/>
<rect x="41.5" y="339.04" width="108.70" height="29.42" fill="url(#haze)" opacity="0.89"/>
<rect x="41.5" y="339.04" width="108.70" height="29.42" filter="url(#spk)" mask="url(#fall)" opacity="0.42"/>
<rect x="83.8" y="339.0" width="24.1" height="1.05" fill="url(#bandw)" opacity="0.78"/>
<rect x="89.0" y="339.0" width="13.9" height="1.05" fill="url(#band)" opacity="0.55"/>
<rect x="84.3" y="340.0" width="23.1" height="1.05" fill="url(#bandw)" opacity="0.86"/>
<rect x="88.5" y="340.0" width="14.1" height="1.05" fill="url(#band)" opacity="0.98"/>
<rect x="82.1" y="341.0" width="27.4" height="1.05" fill="url(#bandw)" opacity="0.71"/>
<rect x="88.0" y="341.0" width="15.9" height="1.05" fill="url(#band)" opacity="1.00"/>
<rect x="83.2" y="342.0" width="25.4" height="1.05" fill="url(#bandw)" opacity="0.79"/>
<rect x="90.2" y="342.0" width="11.7" height="1.05" fill="url(#band)" opacity="0.91"/>
<rect x="83.4" y="343.0" width="24.8" height="1.05" fill="url(#bandw)" opacity="0.66"/>
<rect x="88.0" y="343.0" width="15.3" height="1.05" fill="url(#band)" opacity="1.00"/>
<rect x="86.8" y="344.0" width="18.2" height="1.05" fill="url(#bandw)" opacity="0.68"/>
<rect x="90.6" y="344.0" width="10.5" height="1.05" fill="url(#band)" opacity="1.00"/>
<rect x="84.4" y="345.0" width="22.9" height="1.05" fill="url(#bandw)" opacity="0.77"/>
<rect x="88.4" y="345.0" width="14.8" height="1.05" fill="url(#band)" opacity="0.71"/>
<rect x="86.6" y="346.0" width="18.4" height="1.05" fill="url(#bandw)" opacity="0.58"/>
<rect x="90.7" y="346.0" width="10.0" height="1.05" fill="url(#band)" opacity="1.00"/>
<rect x="85.8" y="347.0" width="20.2" height="1.05" fill="url(#bandw)" opacity="0.79"/>
<rect x="88.9" y="347.0" width="14.0" height="1.05" fill="url(#band)" opacity="0.87"/>
<rect x="84.6" y="348.0" width="22.5" height="1.05" fill="url(#bandw)" opacity="0.43"/>
<rect x="90.8" y="348.0" width="9.7" height="1.05" fill="url(#band)" opacity="1.00"/>
<rect x="84.7" y="349.0" width="22.3" height="1.05" fill="url(#bandw)" opacity="0.68"/>
<rect x="90.1" y="349.0" width="12.1" height="1.05" fill="url(#band)" opacity="0.89"/>
<rect x="84.6" y="350.0" width="22.5" height="1.05" fill="url(#bandw)" opacity="0.36"/>
<rect x="88.9" y="350.0" width="13.6" height="1.05" fill="url(#band)" opacity="1.00"/>
<rect x="87.9" y="351.0" width="15.9" height="1.05" fill="url(#bandw)" opacity="0.37"/>
<rect x="89.3" y="351.0" width="12.8" height="1.05" fill="url(#band)" opacity="1.00"/>
<rect x="88.1" y="352.0" width="15.5" height="1.05" fill="url(#bandw)" opacity="0.35"/>
<rect x="90.3" y="352.0" width="10.4" height="1.05" fill="url(#band)" opacity="0.86"/>
<rect x="87.8" y="353.0" width="16.1" height="1.05" fill="url(#bandw)" opacity="0.67"/>
<rect x="91.7" y="353.0" width="8.3" height="1.05" fill="url(#band)" opacity="0.92"/>
<rect x="88.6" y="354.0" width="14.4" height="1.05" fill="url(#bandw)" opacity="0.32"/>
<rect x="92.2" y="354.0" width="8.1" height="1.05" fill="url(#band)" opacity="0.73"/>
<rect x="86.0" y="355.0" width="19.8" height="1.05" fill="url(#bandw)" opacity="0.60"/>
<rect x="89.6" y="355.0" width="12.1" height="1.05" fill="url(#band)" opacity="0.84"/>
<rect x="86.3" y="356.0" width="19.2" height="1.05" fill="url(#bandw)" opacity="0.54"/>
<rect x="89.8" y="356.0" width="11.9" height="1.05" fill="url(#band)" opacity="0.84"/>
<rect x="87.2" y="357.0" width="17.3" height="1.05" fill="url(#bandw)" opacity="0.64"/>
<rect x="91.5" y="357.0" width="8.0" height="1.05" fill="url(#band)" opacity="0.76"/>
<rect x="88.1" y="358.0" width="15.5" height="1.05" fill="url(#bandw)" opacity="0.65"/>
<rect x="91.2" y="358.0" width="9.7" height="1.05" fill="url(#band)" opacity="0.67"/>
<rect x="88.1" y="359.0" width="15.5" height="1.05" fill="url(#bandw)" opacity="0.32"/>
<rect x="90.3" y="359.0" width="11.0" height="1.05" fill="url(#band)" opacity="0.96"/>
<rect x="89.5" y="360.0" width="12.8" height="1.05" fill="url(#bandw)" opacity="0.33"/>
<rect x="91.3" y="360.0" width="8.7" height="1.05" fill="url(#band)" opacity="0.75"/>
<rect x="88.7" y="361.0" width="14.3" height="1.05" fill="url(#bandw)" opacity="0.51"/>
<rect x="90.5" y="361.0" width="10.6" height="1.05" fill="url(#band)" opacity="1.00"/>
<rect x="88.8" y="362.0" width="14.1" height="1.05" fill="url(#bandw)" opacity="0.39"/>
<rect x="92.2" y="362.0" width="8.1" height="1.05" fill="url(#band)" opacity="0.80"/>
<rect x="91.2" y="363.0" width="9.4" height="1.05" fill="url(#bandw)" opacity="0.41"/>
<rect x="92.5" y="363.0" width="7.5" height="1.05" fill="url(#band)" opacity="0.89"/>
<rect x="90.2" y="364.0" width="11.4" height="1.05" fill="url(#bandw)" opacity="0.27"/>
<rect x="91.9" y="364.0" width="8.3" height="1.05" fill="url(#band)" opacity="0.75"/>
<rect x="89.6" y="365.0" width="12.5" height="1.05" fill="url(#bandw)" opacity="0.39"/>
<rect x="91.6" y="365.0" width="7.8" height="1.05" fill="url(#band)" opacity="0.83"/>
<rect x="91.3" y="366.0" width="9.0" height="1.05" fill="url(#bandw)" opacity="0.46"/>
<rect x="91.1" y="366.0" width="9.2" height="1.05" fill="url(#band)" opacity="0.91"/>
<rect x="89.8" y="367.0" width="12.1" height="1.05" fill="url(#bandw)" opacity="0.32"/>
<rect x="92.4" y="367.0" width="7.0" height="1.05" fill="url(#band)" opacity="0.52"/>
<rect x="41.50" y="367.36" width="108.70" height="0.90" fill="#f8fcf7"/>
<text x="39.50" y="355.75" font-size="5.6" text-anchor="end">MDS_21.16</text>
<rect x="41.50" y="368.46" width="108.70" height="29.42" fill="#f4faf2"/>
<rect x="41.5" y="368.46" width="108.70" height="29.42" fill="url(#haze)" opacity="0.77"/>
<rect x="41.5" y="368.46" width="108.70" height="29.42" filter="url(#spk)" mask="url(#fall)" opacity="0.36"/>
<rect x="83.6" y="368.5" width="24.6" height="1.05" fill="url(#bandw)" opacity="0.65"/>
<rect x="87.4" y="368.5" width="17.2" height="1.05" fill="url(#band)" opacity="0.43"/>
<rect x="82.5" y="369.5" width="26.7" height="1.05" fill="url(#bandw)" opacity="0.45"/>
<rect x="90.7" y="369.5" width="10.6" height="1.05" fill="url(#band)" opacity="0.79"/>
<rect x="82.7" y="370.5" width="26.4" height="1.05" fill="url(#bandw)" opacity="0.37"/>
<rect x="87.7" y="370.5" width="16.2" height="1.05" fill="url(#band)" opacity="0.58"/>
<rect x="83.4" y="371.5" width="24.9" height="1.05" fill="url(#bandw)" opacity="0.51"/>
<rect x="87.9" y="371.5" width="16.3" height="1.05" fill="url(#band)" opacity="0.63"/>
<rect x="82.4" y="372.5" width="26.9" height="1.05" fill="url(#bandw)" opacity="0.71"/>
<rect x="90.8" y="372.5" width="10.9" height="1.05" fill="url(#band)" opacity="0.58"/>
<rect x="83.7" y="373.5" width="24.3" height="1.05" fill="url(#bandw)" opacity="0.46"/>
<rect x="88.0" y="373.5" width="15.2" height="1.05" fill="url(#band)" opacity="0.49"/>
<rect x="87.0" y="374.5" width="17.7" height="1.05" fill="url(#bandw)" opacity="0.58"/>
<rect x="89.6" y="374.5" width="12.4" height="1.05" fill="url(#band)" opacity="0.60"/>
<rect x="86.2" y="375.5" width="19.2" height="1.05" fill="url(#bandw)" opacity="0.59"/>
<rect x="89.2" y="375.5" width="13.9" height="1.05" fill="url(#band)" opacity="0.65"/>
<rect x="87.6" y="376.5" width="16.5" height="1.05" fill="url(#bandw)" opacity="0.52"/>
<rect x="90.9" y="376.5" width="10.0" height="1.05" fill="url(#band)" opacity="0.52"/>
<rect x="87.6" y="377.5" width="16.5" height="1.05" fill="url(#bandw)" opacity="0.31"/>
<rect x="91.3" y="377.5" width="9.6" height="1.05" fill="url(#band)" opacity="0.66"/>
<rect x="86.8" y="378.5" width="18.1" height="1.05" fill="url(#bandw)" opacity="0.33"/>
<rect x="89.7" y="378.5" width="13.1" height="1.05" fill="url(#band)" opacity="0.89"/>
<rect x="88.2" y="379.5" width="15.2" height="1.05" fill="url(#bandw)" opacity="0.34"/>
<rect x="90.4" y="379.5" width="10.9" height="1.05" fill="url(#band)" opacity="0.98"/>
<rect x="84.5" y="380.5" width="22.7" height="1.05" fill="url(#bandw)" opacity="0.35"/>
<rect x="90.2" y="380.5" width="10.9" height="1.05" fill="url(#band)" opacity="0.83"/>
<rect x="86.5" y="381.5" width="18.7" height="1.05" fill="url(#bandw)" opacity="0.57"/>
<rect x="89.9" y="381.5" width="12.5" height="1.05" fill="url(#band)" opacity="0.83"/>
<rect x="84.7" y="382.5" width="22.4" height="1.05" fill="url(#bandw)" opacity="0.48"/>
<rect x="90.9" y="382.5" width="9.2" height="1.05" fill="url(#band)" opacity="0.58"/>
<rect x="85.4" y="383.5" width="21.0" height="1.05" fill="url(#bandw)" opacity="0.46"/>
<rect x="90.6" y="383.5" width="10.9" height="1.05" fill="url(#band)" opacity="0.90"/>
<rect x="87.9" y="384.5" width="15.9" height="1.05" fill="url(#bandw)" opacity="0.45"/>
<rect x="91.7" y="384.5" width="8.0" height="1.05" fill="url(#band)" opacity="0.58"/>
<rect x="86.6" y="385.5" width="18.6" height="1.05" fill="url(#bandw)" opacity="0.47"/>
<rect x="90.6" y="385.5" width="10.4" height="1.05" fill="url(#band)" opacity="0.63"/>
<rect x="88.5" y="386.5" width="14.7" height="1.05" fill="url(#bandw)" opacity="0.26"/>
<rect x="91.6" y="386.5" width="8.9" height="1.05" fill="url(#band)" opacity="0.86"/>
<rect x="89.3" y="387.5" width="13.1" height="1.05" fill="url(#bandw)" opacity="0.40"/>
<rect x="90.5" y="387.5" width="10.5" height="1.05" fill="url(#band)" opacity="0.51"/>
<rect x="88.3" y="388.5" width="15.1" height="1.05" fill="url(#bandw)" opacity="0.29"/>
<rect x="90.7" y="388.5" width="11.0" height="1.05" fill="url(#band)" opacity="0.41"/>
<rect x="88.3" y="389.5" width="15.0" height="1.05" fill="url(#bandw)" opacity="0.35"/>
<rect x="92.1" y="389.5" width="7.9" height="1.05" fill="url(#band)" opacity="0.76"/>
<rect x="90.2" y="390.5" width="11.4" height="1.05" fill="url(#bandw)" opacity="0.32"/>
<rect x="92.4" y="390.5" width="6.9" height="1.05" fill="url(#band)" opacity="0.63"/>
<rect x="90.1" y="391.5" width="11.6" height="1.05" fill="url(#bandw)" opacity="0.42"/>
<rect x="92.4" y="391.5" width="7.3" height="1.05" fill="url(#band)" opacity="0.41"/>
<rect x="88.6" y="392.5" width="14.5" height="1.05" fill="url(#bandw)" opacity="0.44"/>
<rect x="92.0" y="392.5" width="8.4" height="1.05" fill="url(#band)" opacity="0.61"/>
<rect x="91.4" y="393.5" width="8.9" height="1.05" fill="url(#bandw)" opacity="0.29"/>
<rect x="92.1" y="393.5" width="7.3" height="1.05" fill="url(#band)" opacity="0.60"/>
<rect x="89.6" y="394.5" width="12.4" height="1.05" fill="url(#bandw)" opacity="0.27"/>
<rect x="91.3" y="394.5" width="9.3" height="1.05" fill="url(#band)" opacity="0.49"/>
<rect x="90.3" y="395.5" width="11.1" height="1.05" fill="url(#bandw)" opacity="0.42"/>
<rect x="92.0" y="395.5" width="7.6" height="1.05" fill="url(#band)" opacity="0.40"/>
<rect x="90.8" y="396.5" width="10.1" height="1.05" fill="url(#bandw)" opacity="0.21"/>
<rect x="92.0" y="396.5" width="8.3" height="1.05" fill="url(#band)" opacity="0.43"/>
<rect x="41.50" y="396.78" width="108.70" height="0.90" fill="#f8fcf7"/>
<text x="39.50" y="385.17" font-size="5.6" text-anchor="end">MDS_21.29</text>
<rect x="41.50" y="397.88" width="108.70" height="29.42" fill="#f4faf2"/>
<rect x="41.5" y="397.88" width="108.70" height="29.42" fill="url(#haze)" opacity="0.75"/>
<rect x="41.5" y="397.88" width="108.70" height="29.42" filter="url(#spk)" mask="url(#fall)" opacity="0.34"/>
<rect x="83.7" y="397.9" width="24.3" height="1.05" fill="url(#bandw)" opacity="0.74"/>
<rect x="88.2" y="397.9" width="15.6" height="1.05" fill="url(#band)" opacity="0.50"/>
<rect x="86.3" y="398.9" width="19.1" height="1.05" fill="url(#bandw)" opacity="0.35"/>
<rect x="88.6" y="398.9" width="14.3" height="1.05" fill="url(#band)" opacity="0.49"/>
<rect x="82.2" y="399.9" width="27.4" height="1.05" fill="url(#bandw)" opacity="0.51"/>
<rect x="89.0" y="399.9" width="14.3" height="1.05" fill="url(#band)" opacity="0.68"/>
<rect x="86.1" y="400.9" width="19.5" height="1.05" fill="url(#bandw)" opacity="0.66"/>
<rect x="88.1" y="400.9" width="14.9" height="1.05" fill="url(#band)" opacity="0.49"/>
<rect x="85.8" y="401.9" width="20.1" height="1.05" fill="url(#bandw)" opacity="0.34"/>
<rect x="89.1" y="401.9" width="13.5" height="1.05" fill="url(#band)" opacity="0.83"/>
<rect x="85.6" y="402.9" width="20.5" height="1.05" fill="url(#bandw)" opacity="0.36"/>
<rect x="87.7" y="402.9" width="15.8" height="1.05" fill="url(#band)" opacity="0.66"/>
<rect x="82.3" y="403.9" width="27.2" height="1.05" fill="url(#bandw)" opacity="0.46"/>
<rect x="87.9" y="403.9" width="15.6" height="1.05" fill="url(#band)" opacity="0.65"/>
<rect x="86.6" y="404.9" width="18.5" height="1.05" fill="url(#bandw)" opacity="0.29"/>
<rect x="88.9" y="404.9" width="14.2" height="1.05" fill="url(#band)" opacity="0.58"/>
<rect x="83.3" y="405.9" width="25.0" height="1.05" fill="url(#bandw)" opacity="0.44"/>
<rect x="89.9" y="405.9" width="12.1" height="1.05" fill="url(#band)" opacity="0.78"/>
<rect x="86.2" y="406.9" width="19.4" height="1.05" fill="url(#bandw)" opacity="0.35"/>
<rect x="90.7" y="406.9" width="10.5" height="1.05" fill="url(#band)" opacity="0.45"/>
<rect x="85.0" y="407.9" width="21.6" height="1.05" fill="url(#bandw)" opacity="0.56"/>
<rect x="90.3" y="407.9" width="11.2" height="1.05" fill="url(#band)" opacity="0.79"/>
<rect x="84.3" y="408.9" width="23.1" height="1.05" fill="url(#bandw)" opacity="0.47"/>
<rect x="89.5" y="408.9" width="12.3" height="1.05" fill="url(#band)" opacity="0.73"/>
<rect x="88.3" y="409.9" width="15.0" height="1.05" fill="url(#bandw)" opacity="0.56"/>
<rect x="90.1" y="409.9" width="12.1" height="1.05" fill="url(#band)" opacity="0.69"/>
<rect x="88.1" y="410.9" width="15.5" height="1.05" fill="url(#bandw)" opacity="0.52"/>
<rect x="90.1" y="410.9" width="10.8" height="1.05" fill="url(#band)" opacity="0.49"/>
<rect x="89.0" y="411.9" width="13.7" height="1.05" fill="url(#bandw)" opacity="0.32"/>
<rect x="89.5" y="411.9" width="12.0" height="1.05" fill="url(#band)" opacity="0.66"/>
<rect x="87.2" y="412.9" width="17.3" height="1.05" fill="url(#bandw)" opacity="0.58"/>
<rect x="89.9" y="412.9" width="11.8" height="1.05" fill="url(#band)" opacity="0.57"/>
<rect x="88.0" y="413.9" width="15.6" height="1.05" fill="url(#bandw)" opacity="0.32"/>
<rect x="90.4" y="413.9" width="10.9" height="1.05" fill="url(#band)" opacity="0.43"/>
<rect x="86.0" y="414.9" width="19.6" height="1.05" fill="url(#bandw)" opacity="0.49"/>
<rect x="90.9" y="414.9" width="10.6" height="1.05" fill="url(#band)" opacity="0.79"/>
<rect x="88.9" y="415.9" width="13.8" height="1.05" fill="url(#bandw)" opacity="0.54"/>
<rect x="89.8" y="415.9" width="11.5" height="1.05" fill="url(#band)" opacity="0.62"/>
<rect x="88.2" y="416.9" width="15.3" height="1.05" fill="url(#bandw)" opacity="0.38"/>
<rect x="90.2" y="416.9" width="11.7" height="1.05" fill="url(#band)" opacity="0.50"/>
<rect x="87.7" y="417.9" width="16.3" height="1.05" fill="url(#bandw)" opacity="0.41"/>
<rect x="91.6" y="417.9" width="8.1" height="1.05" fill="url(#band)" opacity="0.75"/>
<rect x="87.7" y="418.9" width="16.3" height="1.05" fill="url(#bandw)" opacity="0.49"/>
<rect x="91.2" y="418.9" width="9.0" height="1.05" fill="url(#band)" opacity="0.39"/>
<rect x="90.6" y="419.9" width="10.4" height="1.05" fill="url(#bandw)" opacity="0.27"/>
<rect x="92.1" y="419.9" width="8.0" height="1.05" fill="url(#band)" opacity="0.57"/>
<rect x="90.9" y="420.9" width="9.8" height="1.05" fill="url(#bandw)" opacity="0.42"/>
<rect x="92.1" y="420.9" width="6.7" height="1.05" fill="url(#band)" opacity="0.60"/>
<rect x="90.2" y="421.9" width="11.3" height="1.05" fill="url(#bandw)" opacity="0.46"/>
<rect x="90.9" y="421.9" width="9.6" height="1.05" fill="url(#band)" opacity="0.34"/>
<rect x="88.9" y="422.9" width="13.9" height="1.05" fill="url(#bandw)" opacity="0.25"/>
<rect x="91.8" y="422.9" width="7.7" height="1.05" fill="url(#band)" opacity="0.40"/>
<rect x="90.4" y="423.9" width="10.9" height="1.05" fill="url(#bandw)" opacity="0.23"/>
<rect x="92.9" y="423.9" width="6.3" height="1.05" fill="url(#band)" opacity="0.64"/>
<rect x="90.4" y="424.9" width="10.9" height="1.05" fill="url(#bandw)" opacity="0.22"/>
<rect x="92.9" y="424.9" width="6.0" height="1.05" fill="url(#band)" opacity="0.51"/>
<rect x="92.1" y="425.9" width="7.4" height="1.05" fill="url(#bandw)" opacity="0.43"/>
<rect x="92.6" y="425.9" width="6.7" height="1.05" fill="url(#band)" opacity="0.39"/>
<rect x="41.50" y="426.20" width="108.70" height="0.90" fill="#f8fcf7"/>
<text x="39.50" y="414.59" font-size="5.6" text-anchor="end">MDS_21.31</text>
<line x1="41.50" y1="309.62" x2="150.20" y2="309.62" stroke="#3f3f3f" stroke-width="1.4"/>
<line x1="41.50" y1="339.04" x2="150.20" y2="339.04" stroke="#3f3f3f" stroke-width="1.4"/>
<line x1="41.50" y1="368.46" x2="150.20" y2="368.46" stroke="#3f3f3f" stroke-width="1.4"/>
<line x1="41.50" y1="397.88" x2="150.20" y2="397.88" stroke="#3f3f3f" stroke-width="1.4"/>
<rect x="41.5" y="280.2" width="108.70" height="147.10" fill="none" stroke="#555" stroke-width="1.05"/>
<line x1="41.50" y1="427.30" x2="41.50" y2="429.80" stroke="#555" stroke-width="0.8"/>
<line x1="95.85" y1="427.30" x2="95.85" y2="429.80" stroke="#555" stroke-width="0.8"/>
<line x1="150.20" y1="427.30" x2="150.20" y2="429.80" stroke="#555" stroke-width="0.8"/>
<text x="32.00" y="437.50" font-size="7.5" textLength="15.00" lengthAdjust="spacingAndGlyphs">−5.0</text>
<text x="96.05" y="437.50" font-size="7.5" text-anchor="middle" textLength="38.20" lengthAdjust="spacingAndGlyphs">Peak center</text>
<text x="140.30" y="437.50" font-size="7.5" textLength="19.70" lengthAdjust="spacingAndGlyphs">5.0Kb</text>
<rect x="155.8" y="280.2" width="5.70" height="147.10" fill="url(#cbg)" stroke="#6a6a6a" stroke-width="0.8"/>
<line x1="161.50" y1="427.50" x2="163.50" y2="427.50" stroke="#333" stroke-width="0.8"/>
<text x="165.40" y="430.30" font-size="7.8">0</text>
<line x1="161.50" y1="406.83" x2="163.50" y2="406.83" stroke="#333" stroke-width="0.8"/>
<text x="165.40" y="409.63" font-size="7.8">5</text>
<line x1="161.50" y1="386.16" x2="163.50" y2="386.16" stroke="#333" stroke-width="0.8"/>
<text x="165.40" y="388.96" font-size="7.8">10</text>
<line x1="161.50" y1="365.49" x2="163.50" y2="365.49" stroke="#333" stroke-width="0.8"/>
<text x="165.40" y="368.29" font-size="7.8">15</text>
<line x1="161.50" y1="344.82" x2="163.50" y2="344.82" stroke="#333" stroke-width="0.8"/>
<text x="165.40" y="347.62" font-size="7.8">20</text>
<line x1="161.50" y1="324.15" x2="163.50" y2="324.15" stroke="#333" stroke-width="0.8"/>
<text x="165.40" y="326.95" font-size="7.8">25</text>
<line x1="161.50" y1="303.48" x2="163.50" y2="303.48" stroke="#333" stroke-width="0.8"/>
<text x="165.40" y="306.28" font-size="7.8">30</text>
<line x1="161.50" y1="282.81" x2="163.50" y2="282.81" stroke="#333" stroke-width="0.8"/>
<text x="165.40" y="285.61" font-size="7.8">35</text>
<rect x="213.30" y="280.40" width="108.00" height="36.75" fill="#f4faf2"/>
<rect x="213.3" y="280.40" width="108.00" height="36.75" fill="url(#haze)" opacity="0.56"/>
<rect x="213.3" y="280.40" width="108.00" height="36.75" filter="url(#spk)" mask="url(#fall)" opacity="0.24"/>
<rect x="257.0" y="280.4" width="20.5" height="1.05" fill="url(#bandw)" opacity="0.28"/>
<rect x="261.0" y="280.4" width="12.6" height="1.05" fill="url(#band)" opacity="0.26"/>
<rect x="253.1" y="281.4" width="28.3" height="1.05" fill="url(#bandw)" opacity="0.24"/>
<rect x="260.4" y="281.4" width="13.9" height="1.05" fill="url(#band)" opacity="0.26"/>
<rect x="252.0" y="282.4" width="30.7" height="1.05" fill="url(#bandw)" opacity="0.46"/>
<rect x="261.1" y="282.4" width="12.7" height="1.05" fill="url(#band)" opacity="0.14"/>
<rect x="257.3" y="283.4" width="20.0" height="1.05" fill="url(#bandw)" opacity="0.21"/>
<rect x="260.1" y="283.4" width="15.0" height="1.05" fill="url(#band)" opacity="0.27"/>
<rect x="252.5" y="284.4" width="29.6" height="1.05" fill="url(#bandw)" opacity="0.26"/>
<rect x="262.5" y="284.4" width="10.5" height="1.05" fill="url(#band)" opacity="0.17"/>
<rect x="257.8" y="285.4" width="19.1" height="1.05" fill="url(#bandw)" opacity="0.24"/>
<rect x="262.0" y="285.4" width="9.9" height="1.05" fill="url(#band)" opacity="0.16"/>
<rect x="256.5" y="286.4" width="21.5" height="1.05" fill="url(#bandw)" opacity="0.24"/>
<rect x="261.2" y="286.4" width="11.6" height="1.05" fill="url(#band)" opacity="0.31"/>
<rect x="254.1" y="287.4" width="26.3" height="1.05" fill="url(#bandw)" opacity="0.40"/>
<rect x="261.0" y="287.4" width="13.1" height="1.05" fill="url(#band)" opacity="0.25"/>
<rect x="255.7" y="288.4" width="23.3" height="1.05" fill="url(#bandw)" opacity="0.25"/>
<rect x="261.5" y="288.4" width="11.4" height="1.05" fill="url(#band)" opacity="0.20"/>
<rect x="253.7" y="289.4" width="27.2" height="1.05" fill="url(#bandw)" opacity="0.30"/>
<rect x="262.7" y="289.4" width="9.6" height="1.05" fill="url(#band)" opacity="0.24"/>
<rect x="256.9" y="290.4" width="20.8" height="1.05" fill="url(#bandw)" opacity="0.37"/>
<rect x="262.6" y="290.4" width="9.6" height="1.05" fill="url(#band)" opacity="0.17"/>
<rect x="259.2" y="291.4" width="16.2" height="1.05" fill="url(#bandw)" opacity="0.26"/>
<rect x="261.3" y="291.4" width="11.2" height="1.05" fill="url(#band)" opacity="0.20"/>
<rect x="259.6" y="292.4" width="15.4" height="1.05" fill="url(#bandw)" opacity="0.42"/>
<rect x="260.9" y="292.4" width="12.7" height="1.05" fill="url(#band)" opacity="0.34"/>
<rect x="255.0" y="293.4" width="24.5" height="1.05" fill="url(#bandw)" opacity="0.40"/>
<rect x="261.2" y="293.4" width="12.1" height="1.05" fill="url(#band)" opacity="0.26"/>
<rect x="258.9" y="294.4" width="16.8" height="1.05" fill="url(#bandw)" opacity="0.27"/>
<rect x="261.3" y="294.4" width="12.5" height="1.05" fill="url(#band)" opacity="0.20"/>
<rect x="257.7" y="295.4" width="19.2" height="1.05" fill="url(#bandw)" opacity="0.32"/>
<rect x="260.6" y="295.4" width="12.8" height="1.05" fill="url(#band)" opacity="0.28"/>
<rect x="259.2" y="296.4" width="16.3" height="1.05" fill="url(#bandw)" opacity="0.17"/>
<rect x="263.2" y="296.4" width="8.3" height="1.05" fill="url(#band)" opacity="0.34"/>
<rect x="256.1" y="297.4" width="22.4" height="1.05" fill="url(#bandw)" opacity="0.35"/>
<rect x="262.8" y="297.4" width="9.7" height="1.05" fill="url(#band)" opacity="0.34"/>
<rect x="258.7" y="298.4" width="17.3" height="1.05" fill="url(#bandw)" opacity="0.19"/>
<rect x="262.4" y="298.4" width="9.5" height="1.05" fill="url(#band)" opacity="0.19"/>
<rect x="260.5" y="299.4" width="13.6" height="1.05" fill="url(#bandw)" opacity="0.33"/>
<rect x="261.2" y="299.4" width="12.7" height="1.05" fill="url(#band)" opacity="0.20"/>
<rect x="258.6" y="300.4" width="17.5" height="1.05" fill="url(#bandw)" opacity="0.27"/>
<rect x="261.5" y="300.4" width="12.1" height="1.05" fill="url(#band)" opacity="0.22"/>
<rect x="261.1" y="301.4" width="12.5" height="1.05" fill="url(#bandw)" opacity="0.37"/>
<rect x="263.4" y="301.4" width="8.3" height="1.05" fill="url(#band)" opacity="0.16"/>
<rect x="258.5" y="302.4" width="17.6" height="1.05" fill="url(#bandw)" opacity="0.30"/>
<rect x="261.5" y="302.4" width="11.0" height="1.05" fill="url(#band)" opacity="0.21"/>
<rect x="260.3" y="303.4" width="14.0" height="1.05" fill="url(#bandw)" opacity="0.36"/>
<rect x="261.4" y="303.4" width="11.8" height="1.05" fill="url(#band)" opacity="0.19"/>
<rect x="260.0" y="304.4" width="14.5" height="1.05" fill="url(#bandw)" opacity="0.34"/>
<rect x="263.6" y="304.4" width="7.0" height="1.05" fill="url(#band)" opacity="0.28"/>
<rect x="259.9" y="305.4" width="14.8" height="1.05" fill="url(#bandw)" opacity="0.17"/>
<rect x="263.7" y="305.4" width="7.2" height="1.05" fill="url(#band)" opacity="0.28"/>
<rect x="258.7" y="306.4" width="17.3" height="1.05" fill="url(#bandw)" opacity="0.32"/>
<rect x="262.4" y="306.4" width="10.0" height="1.05" fill="url(#band)" opacity="0.15"/>
<rect x="258.9" y="307.4" width="16.8" height="1.05" fill="url(#bandw)" opacity="0.24"/>
<rect x="264.3" y="307.4" width="6.8" height="1.05" fill="url(#band)" opacity="0.16"/>
<rect x="259.2" y="308.4" width="16.2" height="1.05" fill="url(#bandw)" opacity="0.19"/>
<rect x="263.4" y="308.4" width="7.7" height="1.05" fill="url(#band)" opacity="0.23"/>
<rect x="262.0" y="309.4" width="10.6" height="1.05" fill="url(#bandw)" opacity="0.33"/>
<rect x="262.5" y="309.4" width="8.8" height="1.05" fill="url(#band)" opacity="0.17"/>
<rect x="261.2" y="310.4" width="12.2" height="1.05" fill="url(#bandw)" opacity="0.28"/>
<rect x="264.1" y="310.4" width="6.8" height="1.05" fill="url(#band)" opacity="0.13"/>
<rect x="260.2" y="311.4" width="14.1" height="1.05" fill="url(#bandw)" opacity="0.20"/>
<rect x="263.4" y="311.4" width="7.8" height="1.05" fill="url(#band)" opacity="0.20"/>
<rect x="262.7" y="312.4" width="9.1" height="1.05" fill="url(#bandw)" opacity="0.18"/>
<rect x="263.7" y="312.4" width="6.6" height="1.05" fill="url(#band)" opacity="0.14"/>
<rect x="262.2" y="313.4" width="10.2" height="1.05" fill="url(#bandw)" opacity="0.17"/>
<rect x="263.2" y="313.4" width="8.8" height="1.05" fill="url(#band)" opacity="0.16"/>
<rect x="261.4" y="314.4" width="11.9" height="1.05" fill="url(#bandw)" opacity="0.17"/>
<rect x="264.2" y="314.4" width="6.1" height="1.05" fill="url(#band)" opacity="0.19"/>
<rect x="262.3" y="315.4" width="10.0" height="1.05" fill="url(#bandw)" opacity="0.14"/>
<rect x="263.6" y="315.4" width="7.3" height="1.05" fill="url(#band)" opacity="0.21"/>
<rect x="213.30" y="316.05" width="108.00" height="0.90" fill="#f8fcf7"/>
<text x="209.50" y="300.77" font-size="5.6" text-anchor="end">N_22.27</text>
<rect x="213.30" y="317.15" width="108.00" height="36.75" fill="#f4faf2"/>
<rect x="213.3" y="317.15" width="108.00" height="36.75" fill="url(#haze)" opacity="0.58"/>
<rect x="213.3" y="317.15" width="108.00" height="36.75" filter="url(#spk)" mask="url(#fall)" opacity="0.25"/>
<rect x="255.9" y="317.1" width="22.8" height="1.05" fill="url(#bandw)" opacity="0.51"/>
<rect x="261.2" y="317.1" width="12.6" height="1.05" fill="url(#band)" opacity="0.31"/>
<rect x="257.7" y="318.1" width="19.2" height="1.05" fill="url(#bandw)" opacity="0.36"/>
<rect x="261.5" y="318.1" width="11.4" height="1.05" fill="url(#band)" opacity="0.29"/>
<rect x="257.4" y="319.1" width="19.9" height="1.05" fill="url(#bandw)" opacity="0.51"/>
<rect x="259.5" y="319.1" width="15.6" height="1.05" fill="url(#band)" opacity="0.26"/>
<rect x="257.6" y="320.1" width="19.4" height="1.05" fill="url(#bandw)" opacity="0.51"/>
<rect x="261.3" y="320.1" width="12.1" height="1.05" fill="url(#band)" opacity="0.26"/>
<rect x="255.4" y="321.1" width="23.8" height="1.05" fill="url(#bandw)" opacity="0.22"/>
<rect x="259.3" y="321.1" width="15.8" height="1.05" fill="url(#band)" opacity="0.26"/>
<rect x="253.3" y="322.1" width="28.0" height="1.05" fill="url(#bandw)" opacity="0.46"/>
<rect x="260.0" y="322.1" width="14.4" height="1.05" fill="url(#band)" opacity="0.34"/>
<rect x="258.0" y="323.1" width="18.6" height="1.05" fill="url(#bandw)" opacity="0.31"/>
<rect x="260.7" y="323.1" width="13.5" height="1.05" fill="url(#band)" opacity="0.32"/>
<rect x="255.2" y="324.1" width="24.2" height="1.05" fill="url(#bandw)" opacity="0.37"/>
<rect x="260.1" y="324.1" width="13.7" height="1.05" fill="url(#band)" opacity="0.29"/>
<rect x="255.9" y="325.1" width="22.8" height="1.05" fill="url(#bandw)" opacity="0.28"/>
<rect x="262.7" y="325.1" width="9.8" height="1.05" fill="url(#band)" opacity="0.30"/>
<rect x="257.6" y="326.1" width="19.5" height="1.05" fill="url(#bandw)" opacity="0.38"/>
<rect x="261.1" y="326.1" width="13.0" height="1.05" fill="url(#band)" opacity="0.32"/>
<rect x="255.6" y="327.1" width="23.5" height="1.05" fill="url(#bandw)" opacity="0.22"/>
<rect x="260.9" y="327.1" width="12.7" height="1.05" fill="url(#band)" opacity="0.26"/>
<rect x="255.9" y="328.1" width="22.7" height="1.05" fill="url(#bandw)" opacity="0.24"/>
<rect x="260.7" y="328.1" width="12.6" height="1.05" fill="url(#band)" opacity="0.38"/>
<rect x="255.3" y="329.1" width="24.0" height="1.05" fill="url(#bandw)" opacity="0.38"/>
<rect x="261.4" y="329.1" width="11.1" height="1.05" fill="url(#band)" opacity="0.35"/>
<rect x="259.0" y="330.1" width="16.6" height="1.05" fill="url(#bandw)" opacity="0.45"/>
<rect x="260.9" y="330.1" width="12.2" height="1.05" fill="url(#band)" opacity="0.22"/>
<rect x="257.8" y="331.1" width="19.0" height="1.05" fill="url(#bandw)" opacity="0.32"/>
<rect x="260.4" y="331.1" width="14.0" height="1.05" fill="url(#band)" opacity="0.23"/>
<rect x="258.1" y="332.1" width="18.5" height="1.05" fill="url(#bandw)" opacity="0.32"/>
<rect x="260.8" y="332.1" width="13.5" height="1.05" fill="url(#band)" opacity="0.21"/>
<rect x="256.9" y="333.1" width="20.8" height="1.05" fill="url(#bandw)" opacity="0.25"/>
<rect x="263.2" y="333.1" width="8.8" height="1.05" fill="url(#band)" opacity="0.34"/>
<rect x="258.9" y="334.1" width="16.7" height="1.05" fill="url(#bandw)" opacity="0.21"/>
<rect x="261.7" y="334.1" width="11.0" height="1.05" fill="url(#band)" opacity="0.32"/>
<rect x="258.9" y="335.1" width="16.9" height="1.05" fill="url(#bandw)" opacity="0.20"/>
<rect x="263.2" y="335.1" width="8.6" height="1.05" fill="url(#band)" opacity="0.23"/>
<rect x="260.3" y="336.1" width="14.0" height="1.05" fill="url(#bandw)" opacity="0.22"/>
<rect x="262.0" y="336.1" width="10.1" height="1.05" fill="url(#band)" opacity="0.22"/>
<rect x="257.9" y="337.1" width="18.7" height="1.05" fill="url(#bandw)" opacity="0.22"/>
<rect x="262.1" y="337.1" width="10.4" height="1.05" fill="url(#band)" opacity="0.20"/>
<rect x="258.4" y="338.1" width="17.9" height="1.05" fill="url(#bandw)" opacity="0.27"/>
<rect x="262.9" y="338.1" width="8.4" height="1.05" fill="url(#band)" opacity="0.18"/>
<rect x="259.7" y="339.1" width="15.1" height="1.05" fill="url(#bandw)" opacity="0.19"/>
<rect x="262.3" y="339.1" width="9.3" height="1.05" fill="url(#band)" opacity="0.27"/>
<rect x="259.0" y="340.1" width="16.6" height="1.05" fill="url(#bandw)" opacity="0.37"/>
<rect x="262.3" y="340.1" width="10.5" height="1.05" fill="url(#band)" opacity="0.25"/>
<rect x="258.2" y="341.1" width="18.2" height="1.05" fill="url(#bandw)" opacity="0.37"/>
<rect x="262.0" y="341.1" width="11.4" height="1.05" fill="url(#band)" opacity="0.30"/>
<rect x="259.1" y="342.1" width="16.3" height="1.05" fill="url(#bandw)" opacity="0.22"/>
<rect x="263.7" y="342.1" width="7.4" height="1.05" fill="url(#band)" opacity="0.25"/>
<rect x="261.1" y="343.1" width="12.4" height="1.05" fill="url(#bandw)" opacity="0.23"/>
<rect x="263.6" y="343.1" width="7.0" height="1.05" fill="url(#band)" opacity="0.16"/>
<rect x="259.4" y="344.1" width="15.9" height="1.05" fill="url(#bandw)" opacity="0.16"/>
<rect x="264.1" y="344.1" width="7.2" height="1.05" fill="url(#band)" opacity="0.22"/>
<rect x="261.7" y="345.1" width="11.2" height="1.05" fill="url(#bandw)" opacity="0.15"/>
<rect x="263.6" y="345.1" width="6.6" height="1.05" fill="url(#band)" opacity="0.20"/>
<rect x="260.5" y="346.1" width="13.7" height="1.05" fill="url(#bandw)" opacity="0.16"/>
<rect x="263.6" y="346.1" width="7.0" height="1.05" fill="url(#band)" opacity="0.15"/>
<rect x="262.5" y="347.1" width="9.6" height="1.05" fill="url(#bandw)" opacity="0.17"/>
<rect x="264.0" y="347.1" width="6.9" height="1.05" fill="url(#band)" opacity="0.17"/>
<rect x="261.8" y="348.1" width="10.9" height="1.05" fill="url(#bandw)" opacity="0.18"/>
<rect x="264.6" y="348.1" width="6.0" height="1.05" fill="url(#band)" opacity="0.26"/>
<rect x="260.4" y="349.1" width="13.7" height="1.05" fill="url(#bandw)" opacity="0.27"/>
<rect x="263.3" y="349.1" width="7.5" height="1.05" fill="url(#band)" opacity="0.18"/>
<rect x="262.1" y="350.1" width="10.4" height="1.05" fill="url(#bandw)" opacity="0.21"/>
<rect x="262.9" y="350.1" width="9.2" height="1.05" fill="url(#band)" opacity="0.16"/>
<rect x="261.6" y="351.1" width="11.5" height="1.05" fill="url(#bandw)" opacity="0.25"/>
<rect x="263.1" y="351.1" width="7.8" height="1.05" fill="url(#band)" opacity="0.14"/>
<rect x="262.4" y="352.1" width="9.9" height="1.05" fill="url(#bandw)" opacity="0.23"/>
<rect x="262.7" y="352.1" width="8.8" height="1.05" fill="url(#band)" opacity="0.24"/>
<rect x="213.30" y="352.80" width="108.00" height="0.90" fill="#f8fcf7"/>
<text x="209.50" y="337.52" font-size="5.6" text-anchor="end">N_22.22</text>
<rect x="213.30" y="353.90" width="108.00" height="36.75" fill="#f4faf2"/>
<rect x="213.3" y="353.90" width="108.00" height="36.75" fill="url(#haze)" opacity="0.63"/>
<rect x="213.3" y="353.90" width="108.00" height="36.75" filter="url(#spk)" mask="url(#fall)" opacity="0.28"/>
<rect x="256.6" y="353.9" width="21.4" height="1.05" fill="url(#bandw)" opacity="0.52"/>
<rect x="261.7" y="353.9" width="10.6" height="1.05" fill="url(#band)" opacity="0.42"/>
<rect x="253.9" y="354.9" width="26.8" height="1.05" fill="url(#bandw)" opacity="0.54"/>
<rect x="261.9" y="354.9" width="10.9" height="1.05" fill="url(#band)" opacity="0.24"/>
<rect x="253.4" y="355.9" width="27.8" height="1.05" fill="url(#bandw)" opacity="0.25"/>
<rect x="260.8" y="355.9" width="13.4" height="1.05" fill="url(#band)" opacity="0.42"/>
<rect x="255.7" y="356.9" width="23.3" height="1.05" fill="url(#bandw)" opacity="0.24"/>
<rect x="260.1" y="356.9" width="14.2" height="1.05" fill="url(#band)" opacity="0.36"/>
<rect x="254.6" y="357.9" width="25.3" height="1.05" fill="url(#bandw)" opacity="0.43"/>
<rect x="260.8" y="357.9" width="13.1" height="1.05" fill="url(#band)" opacity="0.38"/>
<rect x="253.8" y="358.9" width="26.9" height="1.05" fill="url(#bandw)" opacity="0.50"/>
<rect x="262.1" y="358.9" width="9.9" height="1.05" fill="url(#band)" opacity="0.45"/>
<rect x="256.1" y="359.9" width="22.3" height="1.05" fill="url(#bandw)" opacity="0.30"/>
<rect x="261.5" y="359.9" width="11.6" height="1.05" fill="url(#band)" opacity="0.35"/>
<rect x="258.2" y="360.9" width="18.3" height="1.05" fill="url(#bandw)" opacity="0.32"/>
<rect x="261.1" y="360.9" width="12.4" height="1.05" fill="url(#band)" opacity="0.35"/>
<rect x="258.6" y="361.9" width="17.5" height="1.05" fill="url(#bandw)" opacity="0.40"/>
<rect x="259.9" y="361.9" width="15.0" height="1.05" fill="url(#band)" opacity="0.46"/>
<rect x="254.7" y="362.9" width="25.2" height="1.05" fill="url(#bandw)" opacity="0.34"/>
<rect x="262.0" y="362.9" width="10.3" height="1.05" fill="url(#band)" opacity="0.43"/>
<rect x="257.8" y="363.9" width="19.0" height="1.05" fill="url(#bandw)" opacity="0.46"/>
<rect x="261.0" y="363.9" width="12.1" height="1.05" fill="url(#band)" opacity="0.31"/>
<rect x="255.6" y="364.9" width="23.4" height="1.05" fill="url(#bandw)" opacity="0.42"/>
<rect x="260.0" y="364.9" width="14.2" height="1.05" fill="url(#band)" opacity="0.47"/>
<rect x="256.0" y="365.9" width="22.5" height="1.05" fill="url(#bandw)" opacity="0.48"/>
<rect x="260.1" y="365.9" width="13.9" height="1.05" fill="url(#band)" opacity="0.53"/>
<rect x="258.6" y="366.9" width="17.5" height="1.05" fill="url(#bandw)" opacity="0.26"/>
<rect x="260.7" y="366.9" width="13.3" height="1.05" fill="url(#band)" opacity="0.47"/>
<rect x="259.0" y="367.9" width="16.6" height="1.05" fill="url(#bandw)" opacity="0.33"/>
<rect x="261.4" y="367.9" width="12.3" height="1.05" fill="url(#band)" opacity="0.28"/>
<rect x="256.8" y="368.9" width="21.0" height="1.05" fill="url(#bandw)" opacity="0.46"/>
<rect x="260.4" y="368.9" width="13.5" height="1.05" fill="url(#band)" opacity="0.41"/>
<rect x="258.6" y="369.9" width="17.5" height="1.05" fill="url(#bandw)" opacity="0.34"/>
<rect x="261.4" y="369.9" width="11.4" height="1.05" fill="url(#band)" opacity="0.34"/>
<rect x="258.2" y="370.9" width="18.3" height="1.05" fill="url(#bandw)" opacity="0.40"/>
<rect x="263.4" y="370.9" width="8.1" height="1.05" fill="url(#band)" opacity="0.52"/>
<rect x="258.5" y="371.9" width="17.7" height="1.05" fill="url(#bandw)" opacity="0.35"/>
<rect x="261.1" y="371.9" width="12.2" height="1.05" fill="url(#band)" opacity="0.38"/>
<rect x="260.5" y="372.9" width="13.7" height="1.05" fill="url(#bandw)" opacity="0.28"/>
<rect x="263.4" y="372.9" width="8.0" height="1.05" fill="url(#band)" opacity="0.33"/>
<rect x="259.5" y="373.9" width="15.6" height="1.05" fill="url(#bandw)" opacity="0.43"/>
<rect x="262.1" y="373.9" width="9.9" height="1.05" fill="url(#band)" opacity="0.48"/>
<rect x="257.2" y="374.9" width="20.2" height="1.05" fill="url(#bandw)" opacity="0.41"/>
<rect x="261.4" y="374.9" width="11.9" height="1.05" fill="url(#band)" opacity="0.47"/>
<rect x="260.8" y="375.9" width="13.1" height="1.05" fill="url(#bandw)" opacity="0.40"/>
<rect x="261.6" y="375.9" width="11.9" height="1.05" fill="url(#band)" opacity="0.37"/>
<rect x="259.1" y="376.9" width="16.3" height="1.05" fill="url(#bandw)" opacity="0.38"/>
<rect x="261.3" y="376.9" width="11.4" height="1.05" fill="url(#band)" opacity="0.41"/>
<rect x="260.1" y="377.9" width="14.4" height="1.05" fill="url(#bandw)" opacity="0.31"/>
<rect x="263.2" y="377.9" width="8.0" height="1.05" fill="url(#band)" opacity="0.41"/>
<rect x="261.6" y="378.9" width="11.5" height="1.05" fill="url(#bandw)" opacity="0.26"/>
<rect x="262.1" y="378.9" width="10.2" height="1.05" fill="url(#band)" opacity="0.38"/>
<rect x="260.6" y="379.9" width="13.4" height="1.05" fill="url(#bandw)" opacity="0.34"/>
<rect x="261.8" y="379.9" width="10.5" height="1.05" fill="url(#band)" opacity="0.25"/>
<rect x="260.8" y="380.9" width="12.9" height="1.05" fill="url(#bandw)" opacity="0.22"/>
<rect x="263.4" y="380.9" width="7.3" height="1.05" fill="url(#band)" opacity="0.28"/>
<rect x="262.3" y="381.9" width="10.0" height="1.05" fill="url(#bandw)" opacity="0.26"/>
<rect x="263.5" y="381.9" width="8.2" height="1.05" fill="url(#band)" opacity="0.35"/>
<rect x="259.6" y="382.9" width="15.4" height="1.05" fill="url(#bandw)" opacity="0.27"/>
<rect x="263.6" y="382.9" width="7.4" height="1.05" fill="url(#band)" opacity="0.33"/>
<rect x="261.0" y="383.9" width="12.7" height="1.05" fill="url(#bandw)" opacity="0.37"/>
<rect x="263.0" y="383.9" width="9.2" height="1.05" fill="url(#band)" opacity="0.40"/>
<rect x="260.7" y="384.9" width="13.2" height="1.05" fill="url(#bandw)" opacity="0.37"/>
<rect x="263.0" y="384.9" width="8.9" height="1.05" fill="url(#band)" opacity="0.34"/>
<rect x="260.4" y="385.9" width="13.8" height="1.05" fill="url(#bandw)" opacity="0.27"/>
<rect x="263.4" y="385.9" width="7.3" height="1.05" fill="url(#band)" opacity="0.31"/>
<rect x="261.2" y="386.9" width="12.3" height="1.05" fill="url(#bandw)" opacity="0.26"/>
<rect x="264.0" y="386.9" width="7.0" height="1.05" fill="url(#band)" opacity="0.32"/>
<rect x="261.9" y="387.9" width="10.8" height="1.05" fill="url(#bandw)" opacity="0.21"/>
<rect x="263.5" y="387.9" width="7.4" height="1.05" fill="url(#band)" opacity="0.19"/>
<rect x="263.6" y="388.9" width="7.5" height="1.05" fill="url(#bandw)" opacity="0.26"/>
<rect x="264.7" y="388.9" width="5.6" height="1.05" fill="url(#band)" opacity="0.23"/>
<rect x="213.30" y="389.55" width="108.00" height="0.90" fill="#f8fcf7"/>
<text x="209.50" y="374.27" font-size="5.6" text-anchor="end">N_22.45</text>
<rect x="213.30" y="390.65" width="108.00" height="36.75" fill="#f4faf2"/>
<rect x="213.3" y="390.65" width="108.00" height="36.75" fill="url(#haze)" opacity="0.87"/>
<rect x="213.3" y="390.65" width="108.00" height="36.75" filter="url(#spk)" mask="url(#fall)" opacity="0.41"/>
<rect x="253.0" y="390.6" width="28.7" height="1.05" fill="url(#bandw)" opacity="0.51"/>
<rect x="261.9" y="390.6" width="10.7" height="1.05" fill="url(#band)" opacity="1.00"/>
<rect x="257.4" y="391.6" width="19.9" height="1.05" fill="url(#bandw)" opacity="0.66"/>
<rect x="259.1" y="391.6" width="16.0" height="1.05" fill="url(#band)" opacity="0.83"/>
<rect x="254.7" y="392.6" width="25.3" height="1.05" fill="url(#bandw)" opacity="0.57"/>
<rect x="258.7" y="392.6" width="16.6" height="1.05" fill="url(#band)" opacity="0.97"/>
<rect x="254.3" y="393.6" width="26.0" height="1.05" fill="url(#bandw)" opacity="0.79"/>
<rect x="261.6" y="393.6" width="11.4" height="1.05" fill="url(#band)" opacity="0.62"/>
<rect x="254.4" y="394.6" width="25.8" height="1.05" fill="url(#bandw)" opacity="0.59"/>
<rect x="260.7" y="394.6" width="13.5" height="1.05" fill="url(#band)" opacity="0.90"/>
<rect x="257.8" y="395.6" width="18.9" height="1.05" fill="url(#bandw)" opacity="0.53"/>
<rect x="262.3" y="395.6" width="10.7" height="1.05" fill="url(#band)" opacity="0.70"/>
<rect x="255.0" y="396.6" width="24.6" height="1.05" fill="url(#bandw)" opacity="0.78"/>
<rect x="260.9" y="396.6" width="12.2" height="1.05" fill="url(#band)" opacity="0.71"/>
<rect x="254.4" y="397.6" width="25.9" height="1.05" fill="url(#bandw)" opacity="0.78"/>
<rect x="260.5" y="397.6" width="14.1" height="1.05" fill="url(#band)" opacity="0.72"/>
<rect x="254.0" y="398.6" width="26.7" height="1.05" fill="url(#bandw)" opacity="0.50"/>
<rect x="260.9" y="398.6" width="12.4" height="1.05" fill="url(#band)" opacity="1.00"/>
<rect x="255.5" y="399.6" width="23.5" height="1.05" fill="url(#bandw)" opacity="0.72"/>
<rect x="261.0" y="399.6" width="12.6" height="1.05" fill="url(#band)" opacity="1.00"/>
<rect x="258.4" y="400.6" width="17.8" height="1.05" fill="url(#bandw)" opacity="0.51"/>
<rect x="261.7" y="400.6" width="10.9" height="1.05" fill="url(#band)" opacity="0.94"/>
<rect x="255.1" y="401.6" width="24.4" height="1.05" fill="url(#bandw)" opacity="0.63"/>
<rect x="260.1" y="401.6" width="13.6" height="1.05" fill="url(#band)" opacity="1.00"/>
<rect x="258.7" y="402.6" width="17.2" height="1.05" fill="url(#bandw)" opacity="0.39"/>
<rect x="261.1" y="402.6" width="12.9" height="1.05" fill="url(#band)" opacity="0.86"/>
<rect x="255.4" y="403.6" width="23.9" height="1.05" fill="url(#bandw)" opacity="0.71"/>
<rect x="260.8" y="403.6" width="12.4" height="1.05" fill="url(#band)" opacity="0.78"/>
<rect x="257.6" y="404.6" width="19.4" height="1.05" fill="url(#bandw)" opacity="0.68"/>
<rect x="260.2" y="404.6" width="13.4" height="1.05" fill="url(#band)" opacity="0.67"/>
<rect x="258.2" y="405.6" width="18.3" height="1.05" fill="url(#bandw)" opacity="0.58"/>
<rect x="262.5" y="405.6" width="10.1" height="1.05" fill="url(#band)" opacity="1.00"/>
<rect x="256.5" y="406.6" width="21.7" height="1.05" fill="url(#bandw)" opacity="0.71"/>
<rect x="262.4" y="406.6" width="9.1" height="1.05" fill="url(#band)" opacity="1.00"/>
<rect x="257.7" y="407.6" width="19.1" height="1.05" fill="url(#bandw)" opacity="0.64"/>
<rect x="263.1" y="407.6" width="8.6" height="1.05" fill="url(#band)" opacity="0.79"/>
<rect x="258.8" y="408.6" width="17.0" height="1.05" fill="url(#bandw)" opacity="0.35"/>
<rect x="263.0" y="408.6" width="8.1" height="1.05" fill="url(#band)" opacity="1.00"/>
<rect x="260.2" y="409.6" width="14.2" height="1.05" fill="url(#bandw)" opacity="0.41"/>
<rect x="261.9" y="409.6" width="10.5" height="1.05" fill="url(#band)" opacity="0.65"/>
<rect x="259.8" y="410.6" width="14.9" height="1.05" fill="url(#bandw)" opacity="0.39"/>
<rect x="261.9" y="410.6" width="11.3" height="1.05" fill="url(#band)" opacity="0.89"/>
<rect x="257.4" y="411.6" width="19.8" height="1.05" fill="url(#bandw)" opacity="0.67"/>
<rect x="262.7" y="411.6" width="8.6" height="1.05" fill="url(#band)" opacity="1.00"/>
<rect x="261.2" y="412.6" width="12.2" height="1.05" fill="url(#bandw)" opacity="0.53"/>
<rect x="262.2" y="412.6" width="9.8" height="1.05" fill="url(#band)" opacity="0.67"/>
<rect x="258.8" y="413.6" width="17.0" height="1.05" fill="url(#bandw)" opacity="0.51"/>
<rect x="263.1" y="413.6" width="7.6" height="1.05" fill="url(#band)" opacity="1.00"/>
<rect x="260.2" y="414.6" width="14.2" height="1.05" fill="url(#bandw)" opacity="0.51"/>
<rect x="263.3" y="414.6" width="8.1" height="1.05" fill="url(#band)" opacity="0.64"/>
<rect x="258.6" y="415.6" width="17.4" height="1.05" fill="url(#bandw)" opacity="0.33"/>
<rect x="264.0" y="415.6" width="7.3" height="1.05" fill="url(#band)" opacity="0.71"/>
<rect x="261.9" y="416.6" width="10.8" height="1.05" fill="url(#bandw)" opacity="0.48"/>
<rect x="262.2" y="416.6" width="9.6" height="1.05" fill="url(#band)" opacity="1.00"/>
<rect x="259.7" y="417.6" width="15.2" height="1.05" fill="url(#bandw)" opacity="0.41"/>
<rect x="262.2" y="417.6" width="10.4" height="1.05" fill="url(#band)" opacity="1.00"/>
<rect x="260.4" y="418.6" width="13.9" height="1.05" fill="url(#bandw)" opacity="0.29"/>
<rect x="263.6" y="418.6" width="7.7" height="1.05" fill="url(#band)" opacity="0.96"/>
<rect x="261.8" y="419.6" width="11.1" height="1.05" fill="url(#bandw)" opacity="0.32"/>
<rect x="262.6" y="419.6" width="9.6" height="1.05" fill="url(#band)" opacity="0.87"/>
<rect x="260.3" y="420.6" width="14.0" height="1.05" fill="url(#bandw)" opacity="0.32"/>
<rect x="263.4" y="420.6" width="8.1" height="1.05" fill="url(#band)" opacity="0.88"/>
<rect x="261.8" y="421.6" width="11.0" height="1.05" fill="url(#bandw)" opacity="0.37"/>
<rect x="262.4" y="421.6" width="9.4" height="1.05" fill="url(#band)" opacity="0.77"/>
<rect x="262.2" y="422.6" width="10.3" height="1.05" fill="url(#bandw)" opacity="0.32"/>
<rect x="263.3" y="422.6" width="7.2" height="1.05" fill="url(#band)" opacity="0.65"/>
<rect x="263.2" y="423.6" width="8.1" height="1.05" fill="url(#bandw)" opacity="0.47"/>
<rect x="263.6" y="423.6" width="7.3" height="1.05" fill="url(#band)" opacity="0.44"/>
<rect x="261.8" y="424.6" width="11.0" height="1.05" fill="url(#bandw)" opacity="0.33"/>
<rect x="264.4" y="424.6" width="6.3" height="1.05" fill="url(#band)" opacity="0.83"/>
<rect x="262.4" y="425.6" width="9.8" height="1.05" fill="url(#bandw)" opacity="0.43"/>
<rect x="263.3" y="425.6" width="7.8" height="1.05" fill="url(#band)" opacity="0.69"/>
<rect x="213.30" y="426.30" width="108.00" height="0.90" fill="#f8fcf7"/>
<text x="209.50" y="411.02" font-size="5.6" text-anchor="end">MDS_22.44</text>
<line x1="213.30" y1="317.15" x2="321.30" y2="317.15" stroke="#3f3f3f" stroke-width="1.4"/>
<line x1="213.30" y1="353.90" x2="321.30" y2="353.90" stroke="#3f3f3f" stroke-width="1.4"/>
<line x1="213.30" y1="390.65" x2="321.30" y2="390.65" stroke="#3f3f3f" stroke-width="1.4"/>
<rect x="213.3" y="280.4" width="108.00" height="147.00" fill="none" stroke="#555" stroke-width="1.05"/>
<line x1="213.30" y1="427.40" x2="213.30" y2="429.90" stroke="#555" stroke-width="0.8"/>
<line x1="267.30" y1="427.40" x2="267.30" y2="429.90" stroke="#555" stroke-width="0.8"/>
<line x1="321.30" y1="427.40" x2="321.30" y2="429.90" stroke="#555" stroke-width="0.8"/>
<text x="203.80" y="437.50" font-size="7.5" textLength="15.00" lengthAdjust="spacingAndGlyphs">−5.0</text>
<text x="267.50" y="437.50" font-size="7.5" text-anchor="middle" textLength="38.20" lengthAdjust="spacingAndGlyphs">Peak center</text>
<text x="311.40" y="437.50" font-size="7.5" textLength="19.70" lengthAdjust="spacingAndGlyphs">5.0Kb</text>
<rect x="326.5" y="280.4" width="6.20" height="147.00" fill="url(#cbg)" stroke="#6a6a6a" stroke-width="0.8"/>
<line x1="332.70" y1="427.50" x2="334.70" y2="427.50" stroke="#333" stroke-width="0.8"/>
<text x="335.50" y="430.30" font-size="7.8">0</text>
<line x1="332.70" y1="401.20" x2="334.70" y2="401.20" stroke="#333" stroke-width="0.8"/>
<text x="335.50" y="404.00" font-size="7.8">5</text>
<line x1="332.70" y1="374.90" x2="334.70" y2="374.90" stroke="#333" stroke-width="0.8"/>
<text x="335.50" y="377.70" font-size="7.8">10</text>
<line x1="332.70" y1="348.60" x2="334.70" y2="348.60" stroke="#333" stroke-width="0.8"/>
<text x="335.50" y="351.40" font-size="7.8">15</text>
<line x1="332.70" y1="322.30" x2="334.70" y2="322.30" stroke="#333" stroke-width="0.8"/>
<text x="335.50" y="325.10" font-size="7.8">20</text>
<line x1="332.70" y1="296.00" x2="334.70" y2="296.00" stroke="#333" stroke-width="0.8"/>
<text x="335.50" y="298.80" font-size="7.8">25</text>
<rect x="380.50" y="280.50" width="108.40" height="24.48" fill="#f4faf2"/>
<rect x="380.5" y="280.50" width="108.40" height="24.48" fill="url(#haze)" opacity="0.59"/>
<rect x="380.5" y="280.50" width="108.40" height="24.48" filter="url(#spk)" mask="url(#fall)" opacity="0.26"/>
<rect x="421.2" y="280.5" width="26.9" height="1.05" fill="url(#bandw)" opacity="0.43"/>
<rect x="426.7" y="280.5" width="16.2" height="1.05" fill="url(#band)" opacity="0.21"/>
<rect x="419.6" y="281.5" width="30.3" height="1.05" fill="url(#bandw)" opacity="0.51"/>
<rect x="429.0" y="281.5" width="11.6" height="1.05" fill="url(#band)" opacity="0.29"/>
<rect x="422.4" y="282.5" width="24.7" height="1.05" fill="url(#bandw)" opacity="0.52"/>
<rect x="428.3" y="282.5" width="13.6" height="1.05" fill="url(#band)" opacity="0.26"/>
<rect x="421.9" y="283.5" width="25.5" height="1.05" fill="url(#bandw)" opacity="0.31"/>
<rect x="428.4" y="283.5" width="11.9" height="1.05" fill="url(#band)" opacity="0.28"/>
<rect x="422.5" y="284.5" width="24.5" height="1.05" fill="url(#bandw)" opacity="0.43"/>
<rect x="428.9" y="284.5" width="12.4" height="1.05" fill="url(#band)" opacity="0.37"/>
<rect x="423.1" y="285.5" width="23.2" height="1.05" fill="url(#bandw)" opacity="0.41"/>
<rect x="430.0" y="285.5" width="10.1" height="1.05" fill="url(#band)" opacity="0.21"/>
<rect x="425.0" y="286.5" width="19.5" height="1.05" fill="url(#bandw)" opacity="0.26"/>
<rect x="427.1" y="286.5" width="14.7" height="1.05" fill="url(#band)" opacity="0.36"/>
<rect x="425.1" y="287.5" width="19.3" height="1.05" fill="url(#bandw)" opacity="0.27"/>
<rect x="429.4" y="287.5" width="10.6" height="1.05" fill="url(#band)" opacity="0.20"/>
<rect x="425.5" y="288.5" width="18.4" height="1.05" fill="url(#bandw)" opacity="0.30"/>
<rect x="429.4" y="288.5" width="9.8" height="1.05" fill="url(#band)" opacity="0.23"/>
<rect x="423.0" y="289.5" width="23.4" height="1.05" fill="url(#bandw)" opacity="0.39"/>
<rect x="428.6" y="289.5" width="11.7" height="1.05" fill="url(#band)" opacity="0.23"/>
<rect x="427.0" y="290.5" width="15.4" height="1.05" fill="url(#bandw)" opacity="0.27"/>
<rect x="430.2" y="290.5" width="8.6" height="1.05" fill="url(#band)" opacity="0.27"/>
<rect x="426.9" y="291.5" width="15.5" height="1.05" fill="url(#bandw)" opacity="0.35"/>
<rect x="429.3" y="291.5" width="10.5" height="1.05" fill="url(#band)" opacity="0.31"/>
<rect x="425.7" y="292.5" width="18.0" height="1.05" fill="url(#bandw)" opacity="0.37"/>
<rect x="430.0" y="292.5" width="9.5" height="1.05" fill="url(#band)" opacity="0.22"/>
<rect x="426.7" y="293.5" width="15.9" height="1.05" fill="url(#bandw)" opacity="0.36"/>
<rect x="430.2" y="293.5" width="8.2" height="1.05" fill="url(#band)" opacity="0.39"/>
<rect x="426.4" y="294.5" width="16.6" height="1.05" fill="url(#bandw)" opacity="0.28"/>
<rect x="430.4" y="294.5" width="9.0" height="1.05" fill="url(#band)" opacity="0.38"/>
<rect x="428.2" y="295.5" width="13.0" height="1.05" fill="url(#bandw)" opacity="0.28"/>
<rect x="429.3" y="295.5" width="10.1" height="1.05" fill="url(#band)" opacity="0.19"/>
<rect x="426.9" y="296.5" width="15.6" height="1.05" fill="url(#bandw)" opacity="0.33"/>
<rect x="430.1" y="296.5" width="9.1" height="1.05" fill="url(#band)" opacity="0.26"/>
<rect x="428.5" y="297.5" width="12.5" height="1.05" fill="url(#bandw)" opacity="0.35"/>
<rect x="428.8" y="297.5" width="11.1" height="1.05" fill="url(#band)" opacity="0.27"/>
<rect x="428.3" y="298.5" width="12.8" height="1.05" fill="url(#bandw)" opacity="0.33"/>
<rect x="430.5" y="298.5" width="7.9" height="1.05" fill="url(#band)" opacity="0.19"/>
<rect x="427.6" y="299.5" width="14.2" height="1.05" fill="url(#bandw)" opacity="0.28"/>
<rect x="431.2" y="299.5" width="7.5" height="1.05" fill="url(#band)" opacity="0.27"/>
<rect x="427.2" y="300.5" width="14.9" height="1.05" fill="url(#bandw)" opacity="0.31"/>
<rect x="431.1" y="300.5" width="7.9" height="1.05" fill="url(#band)" opacity="0.28"/>
<rect x="427.9" y="301.5" width="13.5" height="1.05" fill="url(#bandw)" opacity="0.29"/>
<rect x="430.9" y="301.5" width="8.2" height="1.05" fill="url(#band)" opacity="0.23"/>
<rect x="429.0" y="302.5" width="11.4" height="1.05" fill="url(#bandw)" opacity="0.27"/>
<rect x="431.3" y="302.5" width="6.5" height="1.05" fill="url(#band)" opacity="0.16"/>
<rect x="429.5" y="303.5" width="10.4" height="1.05" fill="url(#bandw)" opacity="0.24"/>
<rect x="432.0" y="303.5" width="6.1" height="1.05" fill="url(#band)" opacity="0.17"/>
<rect x="380.50" y="303.88" width="108.40" height="0.90" fill="#f8fcf7"/>
<text x="378.00" y="294.74" font-size="5.6" text-anchor="end">N_23.28</text>
<rect x="380.50" y="304.98" width="108.40" height="24.48" fill="#f4faf2"/>
<rect x="380.5" y="304.98" width="108.40" height="24.48" fill="url(#haze)" opacity="0.64"/>
<rect x="380.5" y="304.98" width="108.40" height="24.48" filter="url(#spk)" mask="url(#fall)" opacity="0.29"/>
<rect x="424.5" y="305.0" width="20.4" height="1.05" fill="url(#bandw)" opacity="0.59"/>
<rect x="427.1" y="305.0" width="15.9" height="1.05" fill="url(#band)" opacity="0.36"/>
<rect x="420.9" y="306.0" width="27.6" height="1.05" fill="url(#bandw)" opacity="0.26"/>
<rect x="426.7" y="306.0" width="16.7" height="1.05" fill="url(#band)" opacity="0.34"/>
<rect x="420.5" y="307.0" width="28.5" height="1.05" fill="url(#bandw)" opacity="0.30"/>
<rect x="429.8" y="307.0" width="10.3" height="1.05" fill="url(#band)" opacity="0.25"/>
<rect x="421.0" y="308.0" width="27.4" height="1.05" fill="url(#bandw)" opacity="0.32"/>
<rect x="429.7" y="308.0" width="10.6" height="1.05" fill="url(#band)" opacity="0.35"/>
<rect x="421.7" y="309.0" width="26.0" height="1.05" fill="url(#bandw)" opacity="0.53"/>
<rect x="427.1" y="309.0" width="15.8" height="1.05" fill="url(#band)" opacity="0.48"/>
<rect x="426.2" y="310.0" width="17.1" height="1.05" fill="url(#bandw)" opacity="0.24"/>
<rect x="427.2" y="310.0" width="14.8" height="1.05" fill="url(#band)" opacity="0.45"/>
<rect x="425.8" y="311.0" width="17.8" height="1.05" fill="url(#bandw)" opacity="0.34"/>
<rect x="429.0" y="311.0" width="11.3" height="1.05" fill="url(#band)" opacity="0.42"/>
<rect x="425.7" y="312.0" width="18.0" height="1.05" fill="url(#bandw)" opacity="0.25"/>
<rect x="429.3" y="312.0" width="10.2" height="1.05" fill="url(#band)" opacity="0.32"/>
<rect x="424.9" y="313.0" width="19.6" height="1.05" fill="url(#bandw)" opacity="0.26"/>
<rect x="428.0" y="313.0" width="13.4" height="1.05" fill="url(#band)" opacity="0.45"/>
<rect x="424.1" y="314.0" width="21.1" height="1.05" fill="url(#bandw)" opacity="0.29"/>
<rect x="430.2" y="314.0" width="8.6" height="1.05" fill="url(#band)" opacity="0.31"/>
<rect x="425.8" y="315.0" width="17.7" height="1.05" fill="url(#bandw)" opacity="0.29"/>
<rect x="429.3" y="315.0" width="10.0" height="1.05" fill="url(#band)" opacity="0.54"/>
<rect x="425.8" y="316.0" width="17.9" height="1.05" fill="url(#bandw)" opacity="0.32"/>
<rect x="429.7" y="316.0" width="9.6" height="1.05" fill="url(#band)" opacity="0.50"/>
<rect x="427.9" y="317.0" width="13.6" height="1.05" fill="url(#bandw)" opacity="0.25"/>
<rect x="427.9" y="317.0" width="13.0" height="1.05" fill="url(#band)" opacity="0.38"/>
<rect x="424.2" y="318.0" width="21.0" height="1.05" fill="url(#bandw)" opacity="0.37"/>
<rect x="428.7" y="318.0" width="12.5" height="1.05" fill="url(#band)" opacity="0.37"/>
<rect x="428.4" y="319.0" width="12.5" height="1.05" fill="url(#bandw)" opacity="0.26"/>
<rect x="429.3" y="319.0" width="11.3" height="1.05" fill="url(#band)" opacity="0.42"/>
<rect x="427.4" y="320.0" width="14.7" height="1.05" fill="url(#bandw)" opacity="0.42"/>
<rect x="430.7" y="320.0" width="7.6" height="1.05" fill="url(#band)" opacity="0.43"/>
<rect x="428.4" y="321.0" width="12.7" height="1.05" fill="url(#bandw)" opacity="0.41"/>
<rect x="430.0" y="321.0" width="9.0" height="1.05" fill="url(#band)" opacity="0.47"/>
<rect x="426.8" y="322.0" width="15.8" height="1.05" fill="url(#bandw)" opacity="0.40"/>
<rect x="430.0" y="322.0" width="9.6" height="1.05" fill="url(#band)" opacity="0.30"/>
<rect x="426.4" y="323.0" width="16.5" height="1.05" fill="url(#bandw)" opacity="0.37"/>
<rect x="430.1" y="323.0" width="8.5" height="1.05" fill="url(#band)" opacity="0.33"/>
<rect x="427.4" y="324.0" width="14.5" height="1.05" fill="url(#bandw)" opacity="0.21"/>
<rect x="430.8" y="324.0" width="7.2" height="1.05" fill="url(#band)" opacity="0.22"/>
<rect x="429.0" y="325.0" width="11.4" height="1.05" fill="url(#bandw)" opacity="0.27"/>
<rect x="431.5" y="325.0" width="6.8" height="1.05" fill="url(#band)" opacity="0.30"/>
<rect x="430.1" y="326.0" width="9.1" height="1.05" fill="url(#bandw)" opacity="0.19"/>
<rect x="431.1" y="326.0" width="7.9" height="1.05" fill="url(#band)" opacity="0.40"/>
<rect x="429.2" y="327.0" width="11.1" height="1.05" fill="url(#bandw)" opacity="0.17"/>
<rect x="430.6" y="327.0" width="8.9" height="1.05" fill="url(#band)" opacity="0.41"/>
<rect x="429.6" y="328.0" width="10.2" height="1.05" fill="url(#bandw)" opacity="0.23"/>
<rect x="431.3" y="328.0" width="7.6" height="1.05" fill="url(#band)" opacity="0.36"/>
<rect x="380.50" y="328.37" width="108.40" height="0.90" fill="#f8fcf7"/>
<text x="378.00" y="319.23" font-size="5.6" text-anchor="end">N_23.13</text>
<rect x="380.50" y="329.47" width="108.40" height="24.48" fill="#f4faf2"/>
<rect x="380.5" y="329.47" width="108.40" height="24.48" fill="url(#haze)" opacity="0.57"/>
<rect x="380.5" y="329.47" width="108.40" height="24.48" filter="url(#spk)" mask="url(#fall)" opacity="0.25"/>
<rect x="421.7" y="329.5" width="25.9" height="1.05" fill="url(#bandw)" opacity="0.37"/>
<rect x="428.4" y="329.5" width="12.7" height="1.05" fill="url(#band)" opacity="0.22"/>
<rect x="423.4" y="330.5" width="22.6" height="1.05" fill="url(#bandw)" opacity="0.35"/>
<rect x="426.2" y="330.5" width="16.6" height="1.05" fill="url(#band)" opacity="0.18"/>
<rect x="423.6" y="331.5" width="22.2" height="1.05" fill="url(#bandw)" opacity="0.46"/>
<rect x="429.0" y="331.5" width="12.1" height="1.05" fill="url(#band)" opacity="0.29"/>
<rect x="420.5" y="332.5" width="28.4" height="1.05" fill="url(#bandw)" opacity="0.44"/>
<rect x="429.4" y="332.5" width="11.1" height="1.05" fill="url(#band)" opacity="0.24"/>
<rect x="424.6" y="333.5" width="20.3" height="1.05" fill="url(#bandw)" opacity="0.37"/>
<rect x="427.0" y="333.5" width="15.2" height="1.05" fill="url(#band)" opacity="0.33"/>
<rect x="425.6" y="334.5" width="18.2" height="1.05" fill="url(#bandw)" opacity="0.21"/>
<rect x="428.8" y="334.5" width="11.4" height="1.05" fill="url(#band)" opacity="0.27"/>
<rect x="422.0" y="335.5" width="25.4" height="1.05" fill="url(#bandw)" opacity="0.37"/>
<rect x="428.1" y="335.5" width="13.0" height="1.05" fill="url(#band)" opacity="0.33"/>
<rect x="423.3" y="336.5" width="22.7" height="1.05" fill="url(#bandw)" opacity="0.28"/>
<rect x="429.6" y="336.5" width="10.7" height="1.05" fill="url(#band)" opacity="0.20"/>
<rect x="422.4" y="337.5" width="24.5" height="1.05" fill="url(#bandw)" opacity="0.19"/>
<rect x="428.2" y="337.5" width="12.9" height="1.05" fill="url(#band)" opacity="0.19"/>
<rect x="425.7" y="338.5" width="17.9" height="1.05" fill="url(#bandw)" opacity="0.41"/>
<rect x="429.1" y="338.5" width="11.0" height="1.05" fill="url(#band)" opacity="0.28"/>
<rect x="426.3" y="339.5" width="16.7" height="1.05" fill="url(#bandw)" opacity="0.24"/>
<rect x="430.4" y="339.5" width="8.6" height="1.05" fill="url(#band)" opacity="0.18"/>
<rect x="424.4" y="340.5" width="20.6" height="1.05" fill="url(#bandw)" opacity="0.34"/>
<rect x="429.6" y="340.5" width="9.5" height="1.05" fill="url(#band)" opacity="0.37"/>
<rect x="426.2" y="341.5" width="17.1" height="1.05" fill="url(#bandw)" opacity="0.25"/>
<rect x="430.5" y="341.5" width="8.8" height="1.05" fill="url(#band)" opacity="0.36"/>
<rect x="427.8" y="342.5" width="13.8" height="1.05" fill="url(#bandw)" opacity="0.21"/>
<rect x="428.7" y="342.5" width="11.8" height="1.05" fill="url(#band)" opacity="0.24"/>
<rect x="427.4" y="343.5" width="14.6" height="1.05" fill="url(#bandw)" opacity="0.24"/>
<rect x="429.6" y="343.5" width="10.3" height="1.05" fill="url(#band)" opacity="0.22"/>
<rect x="428.6" y="344.5" width="12.2" height="1.05" fill="url(#bandw)" opacity="0.28"/>
<rect x="430.0" y="344.5" width="10.0" height="1.05" fill="url(#band)" opacity="0.22"/>
<rect x="425.7" y="345.5" width="18.1" height="1.05" fill="url(#bandw)" opacity="0.29"/>
<rect x="430.4" y="345.5" width="8.9" height="1.05" fill="url(#band)" opacity="0.18"/>
<rect x="428.4" y="346.5" width="12.7" height="1.05" fill="url(#bandw)" opacity="0.18"/>
<rect x="430.2" y="346.5" width="9.1" height="1.05" fill="url(#band)" opacity="0.18"/>
<rect x="427.1" y="347.5" width="15.3" height="1.05" fill="url(#bandw)" opacity="0.15"/>
<rect x="429.9" y="347.5" width="9.3" height="1.05" fill="url(#band)" opacity="0.17"/>
<rect x="427.6" y="348.5" width="14.2" height="1.05" fill="url(#bandw)" opacity="0.33"/>
<rect x="430.8" y="348.5" width="7.6" height="1.05" fill="url(#band)" opacity="0.25"/>
<rect x="427.3" y="349.5" width="14.8" height="1.05" fill="url(#bandw)" opacity="0.17"/>
<rect x="430.4" y="349.5" width="8.8" height="1.05" fill="url(#band)" opacity="0.14"/>
<rect x="428.3" y="350.5" width="12.8" height="1.05" fill="url(#bandw)" opacity="0.30"/>
<rect x="430.2" y="350.5" width="8.9" height="1.05" fill="url(#band)" opacity="0.20"/>
<rect x="429.0" y="351.5" width="11.4" height="1.05" fill="url(#bandw)" opacity="0.25"/>
<rect x="430.9" y="351.5" width="7.9" height="1.05" fill="url(#band)" opacity="0.22"/>
<rect x="428.6" y="352.5" width="12.2" height="1.05" fill="url(#bandw)" opacity="0.23"/>
<rect x="430.3" y="352.5" width="8.6" height="1.05" fill="url(#band)" opacity="0.22"/>
<rect x="380.50" y="352.85" width="108.40" height="0.90" fill="#f8fcf7"/>
<text x="378.00" y="343.71" font-size="5.6" text-anchor="end">N_23.5</text>
<rect x="380.50" y="353.95" width="108.40" height="24.48" fill="#f4faf2"/>
<rect x="380.5" y="353.95" width="108.40" height="24.48" fill="url(#haze)" opacity="0.79"/>
<rect x="380.5" y="353.95" width="108.40" height="24.48" filter="url(#spk)" mask="url(#fall)" opacity="0.37"/>
<rect x="419.7" y="353.9" width="29.9" height="1.05" fill="url(#bandw)" opacity="0.52"/>
<rect x="426.9" y="353.9" width="16.3" height="1.05" fill="url(#band)" opacity="0.78"/>
<rect x="419.5" y="354.9" width="30.5" height="1.05" fill="url(#bandw)" opacity="0.66"/>
<rect x="428.0" y="354.9" width="13.7" height="1.05" fill="url(#band)" opacity="0.55"/>
<rect x="420.0" y="355.9" width="29.4" height="1.05" fill="url(#bandw)" opacity="0.49"/>
<rect x="429.3" y="355.9" width="11.5" height="1.05" fill="url(#band)" opacity="0.79"/>
<rect x="424.5" y="356.9" width="20.4" height="1.05" fill="url(#bandw)" opacity="0.39"/>
<rect x="429.7" y="356.9" width="10.6" height="1.05" fill="url(#band)" opacity="0.72"/>
<rect x="424.6" y="357.9" width="20.3" height="1.05" fill="url(#bandw)" opacity="0.67"/>
<rect x="429.8" y="357.9" width="9.9" height="1.05" fill="url(#band)" opacity="0.57"/>
<rect x="422.0" y="358.9" width="25.4" height="1.05" fill="url(#bandw)" opacity="0.52"/>
<rect x="427.7" y="358.9" width="13.7" height="1.05" fill="url(#band)" opacity="0.66"/>
<rect x="423.7" y="359.9" width="22.1" height="1.05" fill="url(#bandw)" opacity="0.30"/>
<rect x="429.6" y="359.9" width="10.4" height="1.05" fill="url(#band)" opacity="0.67"/>
<rect x="425.7" y="360.9" width="17.9" height="1.05" fill="url(#bandw)" opacity="0.40"/>
<rect x="427.2" y="360.9" width="14.9" height="1.05" fill="url(#band)" opacity="0.85"/>
<rect x="423.0" y="361.9" width="23.3" height="1.05" fill="url(#bandw)" opacity="0.58"/>
<rect x="428.0" y="361.9" width="13.5" height="1.05" fill="url(#band)" opacity="0.80"/>
<rect x="426.8" y="362.9" width="15.8" height="1.05" fill="url(#bandw)" opacity="0.46"/>
<rect x="429.2" y="362.9" width="10.7" height="1.05" fill="url(#band)" opacity="0.64"/>
<rect x="423.3" y="363.9" width="22.7" height="1.05" fill="url(#bandw)" opacity="0.37"/>
<rect x="430.0" y="363.9" width="8.9" height="1.05" fill="url(#band)" opacity="0.68"/>
<rect x="427.7" y="364.9" width="14.0" height="1.05" fill="url(#bandw)" opacity="0.62"/>
<rect x="429.2" y="364.9" width="11.0" height="1.05" fill="url(#band)" opacity="0.51"/>
<rect x="427.3" y="365.9" width="14.8" height="1.05" fill="url(#bandw)" opacity="0.45"/>
<rect x="428.2" y="365.9" width="12.8" height="1.05" fill="url(#band)" opacity="1.00"/>
<rect x="425.0" y="366.9" width="19.4" height="1.05" fill="url(#bandw)" opacity="0.44"/>
<rect x="430.9" y="366.9" width="8.0" height="1.05" fill="url(#band)" opacity="0.69"/>
<rect x="425.4" y="367.9" width="18.5" height="1.05" fill="url(#bandw)" opacity="0.51"/>
<rect x="428.7" y="367.9" width="12.3" height="1.05" fill="url(#band)" opacity="0.67"/>
<rect x="425.7" y="368.9" width="18.1" height="1.05" fill="url(#bandw)" opacity="0.57"/>
<rect x="428.9" y="368.9" width="11.4" height="1.05" fill="url(#band)" opacity="0.89"/>
<rect x="427.7" y="369.9" width="14.0" height="1.05" fill="url(#bandw)" opacity="0.45"/>
<rect x="430.8" y="369.9" width="7.5" height="1.05" fill="url(#band)" opacity="0.59"/>
<rect x="428.6" y="370.9" width="12.1" height="1.05" fill="url(#bandw)" opacity="0.30"/>
<rect x="429.5" y="370.9" width="9.7" height="1.05" fill="url(#band)" opacity="0.57"/>
<rect x="426.9" y="371.9" width="15.5" height="1.05" fill="url(#bandw)" opacity="0.53"/>
<rect x="430.6" y="371.9" width="7.5" height="1.05" fill="url(#band)" opacity="0.71"/>
<rect x="429.2" y="372.9" width="11.0" height="1.05" fill="url(#bandw)" opacity="0.27"/>
<rect x="430.5" y="372.9" width="9.0" height="1.05" fill="url(#band)" opacity="0.62"/>
<rect x="428.2" y="373.9" width="13.1" height="1.05" fill="url(#bandw)" opacity="0.44"/>
<rect x="429.7" y="373.9" width="9.6" height="1.05" fill="url(#band)" opacity="0.60"/>
<rect x="430.0" y="374.9" width="9.5" height="1.05" fill="url(#bandw)" opacity="0.46"/>
<rect x="430.5" y="374.9" width="9.1" height="1.05" fill="url(#band)" opacity="0.60"/>
<rect x="428.5" y="375.9" width="12.4" height="1.05" fill="url(#bandw)" opacity="0.32"/>
<rect x="431.9" y="375.9" width="6.3" height="1.05" fill="url(#band)" opacity="0.51"/>
<rect x="428.7" y="376.9" width="12.0" height="1.05" fill="url(#bandw)" opacity="0.20"/>
<rect x="432.3" y="376.9" width="5.5" height="1.05" fill="url(#band)" opacity="0.51"/>
<rect x="380.50" y="377.33" width="108.40" height="0.90" fill="#f8fcf7"/>
<text x="378.00" y="368.19" font-size="5.6" text-anchor="end">MDS_23.6</text>
<rect x="380.50" y="378.43" width="108.40" height="24.48" fill="#f4faf2"/>
<rect x="380.5" y="378.43" width="108.40" height="24.48" fill="url(#haze)" opacity="0.77"/>
<rect x="380.5" y="378.43" width="108.40" height="24.48" filter="url(#spk)" mask="url(#fall)" opacity="0.36"/>
<rect x="419.2" y="378.4" width="30.9" height="1.05" fill="url(#bandw)" opacity="0.72"/>
<rect x="429.4" y="378.4" width="11.0" height="1.05" fill="url(#band)" opacity="0.46"/>
<rect x="422.4" y="379.4" width="24.6" height="1.05" fill="url(#bandw)" opacity="0.47"/>
<rect x="426.3" y="379.4" width="16.9" height="1.05" fill="url(#band)" opacity="0.40"/>
<rect x="420.0" y="380.4" width="29.3" height="1.05" fill="url(#bandw)" opacity="0.63"/>
<rect x="426.7" y="380.4" width="16.0" height="1.05" fill="url(#band)" opacity="0.53"/>
<rect x="419.9" y="381.4" width="29.6" height="1.05" fill="url(#bandw)" opacity="0.37"/>
<rect x="428.1" y="381.4" width="12.7" height="1.05" fill="url(#band)" opacity="0.88"/>
<rect x="421.5" y="382.4" width="26.4" height="1.05" fill="url(#bandw)" opacity="0.63"/>
<rect x="429.3" y="382.4" width="11.3" height="1.05" fill="url(#band)" opacity="0.91"/>
<rect x="425.5" y="383.4" width="18.4" height="1.05" fill="url(#bandw)" opacity="0.71"/>
<rect x="426.9" y="383.4" width="14.9" height="1.05" fill="url(#band)" opacity="0.68"/>
<rect x="422.2" y="384.4" width="24.9" height="1.05" fill="url(#bandw)" opacity="0.53"/>
<rect x="427.8" y="384.4" width="13.7" height="1.05" fill="url(#band)" opacity="0.50"/>
<rect x="422.5" y="385.4" width="24.4" height="1.05" fill="url(#bandw)" opacity="0.58"/>
<rect x="429.7" y="385.4" width="10.0" height="1.05" fill="url(#band)" opacity="0.63"/>
<rect x="424.7" y="386.4" width="20.0" height="1.05" fill="url(#bandw)" opacity="0.67"/>
<rect x="427.7" y="386.4" width="14.2" height="1.05" fill="url(#band)" opacity="0.47"/>
<rect x="426.6" y="387.4" width="16.2" height="1.05" fill="url(#bandw)" opacity="0.61"/>
<rect x="429.3" y="387.4" width="11.5" height="1.05" fill="url(#band)" opacity="0.93"/>
<rect x="423.1" y="388.4" width="23.2" height="1.05" fill="url(#bandw)" opacity="0.33"/>
<rect x="430.3" y="388.4" width="8.6" height="1.05" fill="url(#band)" opacity="0.87"/>
<rect x="424.2" y="389.4" width="20.9" height="1.05" fill="url(#bandw)" opacity="0.43"/>
<rect x="429.4" y="389.4" width="10.3" height="1.05" fill="url(#band)" opacity="0.84"/>
<rect x="425.9" y="390.4" width="17.6" height="1.05" fill="url(#bandw)" opacity="0.40"/>
<rect x="429.0" y="390.4" width="11.4" height="1.05" fill="url(#band)" opacity="0.50"/>
<rect x="425.9" y="391.4" width="17.7" height="1.05" fill="url(#bandw)" opacity="0.49"/>
<rect x="429.0" y="391.4" width="12.2" height="1.05" fill="url(#band)" opacity="0.64"/>
<rect x="425.7" y="392.4" width="17.9" height="1.05" fill="url(#bandw)" opacity="0.38"/>
<rect x="429.7" y="392.4" width="10.2" height="1.05" fill="url(#band)" opacity="0.62"/>
<rect x="428.8" y="393.4" width="11.9" height="1.05" fill="url(#bandw)" opacity="0.54"/>
<rect x="429.9" y="393.4" width="8.9" height="1.05" fill="url(#band)" opacity="0.44"/>
<rect x="427.9" y="394.4" width="13.7" height="1.05" fill="url(#bandw)" opacity="0.32"/>
<rect x="429.6" y="394.4" width="10.9" height="1.05" fill="url(#band)" opacity="0.58"/>
<rect x="428.4" y="395.4" width="12.6" height="1.05" fill="url(#bandw)" opacity="0.34"/>
<rect x="429.5" y="395.4" width="11.0" height="1.05" fill="url(#band)" opacity="0.77"/>
<rect x="429.3" y="396.4" width="10.9" height="1.05" fill="url(#bandw)" opacity="0.24"/>
<rect x="429.6" y="396.4" width="9.6" height="1.05" fill="url(#band)" opacity="0.52"/>
<rect x="429.6" y="397.4" width="10.2" height="1.05" fill="url(#bandw)" opacity="0.31"/>
<rect x="431.3" y="397.4" width="7.6" height="1.05" fill="url(#band)" opacity="0.62"/>
<rect x="429.6" y="398.4" width="10.1" height="1.05" fill="url(#bandw)" opacity="0.44"/>
<rect x="430.8" y="398.4" width="8.5" height="1.05" fill="url(#band)" opacity="0.67"/>
<rect x="427.8" y="399.4" width="13.8" height="1.05" fill="url(#bandw)" opacity="0.24"/>
<rect x="430.2" y="399.4" width="8.8" height="1.05" fill="url(#band)" opacity="0.61"/>
<rect x="430.6" y="400.4" width="8.2" height="1.05" fill="url(#bandw)" opacity="0.41"/>
<rect x="430.9" y="400.4" width="8.0" height="1.05" fill="url(#band)" opacity="0.60"/>
<rect x="429.1" y="401.4" width="11.2" height="1.05" fill="url(#bandw)" opacity="0.20"/>
<rect x="430.2" y="401.4" width="8.8" height="1.05" fill="url(#band)" opacity="0.66"/>
<rect x="380.50" y="401.82" width="108.40" height="0.90" fill="#f8fcf7"/>
<text x="378.00" y="392.68" font-size="5.6" text-anchor="end">MDS_23.24</text>
<rect x="380.50" y="402.92" width="108.40" height="24.48" fill="#f4faf2"/>
<rect x="380.5" y="402.92" width="108.40" height="24.48" fill="url(#haze)" opacity="0.83"/>
<rect x="380.5" y="402.92" width="108.40" height="24.48" filter="url(#spk)" mask="url(#fall)" opacity="0.39"/>
<rect x="419.8" y="402.9" width="29.7" height="1.05" fill="url(#bandw)" opacity="0.84"/>
<rect x="428.0" y="402.9" width="13.5" height="1.05" fill="url(#band)" opacity="0.61"/>
<rect x="420.3" y="403.9" width="28.9" height="1.05" fill="url(#bandw)" opacity="0.56"/>
<rect x="427.1" y="403.9" width="15.1" height="1.05" fill="url(#band)" opacity="0.95"/>
<rect x="419.9" y="404.9" width="29.7" height="1.05" fill="url(#bandw)" opacity="0.42"/>
<rect x="427.6" y="404.9" width="14.0" height="1.05" fill="url(#band)" opacity="0.92"/>
<rect x="424.0" y="405.9" width="21.3" height="1.05" fill="url(#bandw)" opacity="0.48"/>
<rect x="428.5" y="405.9" width="12.2" height="1.05" fill="url(#band)" opacity="0.71"/>
<rect x="424.6" y="406.9" width="20.3" height="1.05" fill="url(#bandw)" opacity="0.62"/>
<rect x="429.2" y="406.9" width="11.0" height="1.05" fill="url(#band)" opacity="0.67"/>
<rect x="421.1" y="407.9" width="27.2" height="1.05" fill="url(#bandw)" opacity="0.46"/>
<rect x="429.5" y="407.9" width="10.5" height="1.05" fill="url(#band)" opacity="0.98"/>
<rect x="425.9" y="408.9" width="17.7" height="1.05" fill="url(#bandw)" opacity="0.76"/>
<rect x="429.3" y="408.9" width="10.4" height="1.05" fill="url(#band)" opacity="0.92"/>
<rect x="422.4" y="409.9" width="24.6" height="1.05" fill="url(#bandw)" opacity="0.48"/>
<rect x="428.5" y="409.9" width="12.7" height="1.05" fill="url(#band)" opacity="1.00"/>
<rect x="425.4" y="410.9" width="18.5" height="1.05" fill="url(#bandw)" opacity="0.44"/>
<rect x="428.8" y="410.9" width="12.1" height="1.05" fill="url(#band)" opacity="0.88"/>
<rect x="427.0" y="411.9" width="15.5" height="1.05" fill="url(#bandw)" opacity="0.33"/>
<rect x="430.2" y="411.9" width="8.5" height="1.05" fill="url(#band)" opacity="1.00"/>
<rect x="424.0" y="412.9" width="21.5" height="1.05" fill="url(#bandw)" opacity="0.49"/>
<rect x="428.2" y="412.9" width="13.6" height="1.05" fill="url(#band)" opacity="0.95"/>
<rect x="427.4" y="413.9" width="14.7" height="1.05" fill="url(#bandw)" opacity="0.65"/>
<rect x="429.9" y="413.9" width="10.1" height="1.05" fill="url(#band)" opacity="0.58"/>
<rect x="427.0" y="414.9" width="15.3" height="1.05" fill="url(#bandw)" opacity="0.54"/>
<rect x="430.7" y="414.9" width="7.9" height="1.05" fill="url(#band)" opacity="0.81"/>
<rect x="426.4" y="415.9" width="16.5" height="1.05" fill="url(#bandw)" opacity="0.60"/>
<rect x="429.9" y="415.9" width="9.1" height="1.05" fill="url(#band)" opacity="1.00"/>
<rect x="424.7" y="416.9" width="20.1" height="1.05" fill="url(#bandw)" opacity="0.38"/>
<rect x="429.5" y="416.9" width="10.8" height="1.05" fill="url(#band)" opacity="1.00"/>
<rect x="425.5" y="417.9" width="18.3" height="1.05" fill="url(#bandw)" opacity="0.30"/>
<rect x="428.9" y="417.9" width="11.8" height="1.05" fill="url(#band)" opacity="0.53"/>
<rect x="426.0" y="418.9" width="17.3" height="1.05" fill="url(#bandw)" opacity="0.53"/>
<rect x="429.9" y="418.9" width="10.4" height="1.05" fill="url(#band)" opacity="0.82"/>
<rect x="428.6" y="419.9" width="12.2" height="1.05" fill="url(#bandw)" opacity="0.57"/>
<rect x="429.5" y="419.9" width="10.4" height="1.05" fill="url(#band)" opacity="0.57"/>
<rect x="428.2" y="420.9" width="13.1" height="1.05" fill="url(#bandw)" opacity="0.29"/>
<rect x="429.8" y="420.9" width="10.2" height="1.05" fill="url(#band)" opacity="0.87"/>
<rect x="429.8" y="421.9" width="9.8" height="1.05" fill="url(#bandw)" opacity="0.48"/>
<rect x="429.9" y="421.9" width="10.2" height="1.05" fill="url(#band)" opacity="0.77"/>
<rect x="427.3" y="422.9" width="14.9" height="1.05" fill="url(#bandw)" opacity="0.46"/>
<rect x="430.4" y="422.9" width="9.1" height="1.05" fill="url(#band)" opacity="0.54"/>
<rect x="429.5" y="423.9" width="10.4" height="1.05" fill="url(#bandw)" opacity="0.31"/>
<rect x="430.8" y="423.9" width="7.2" height="1.05" fill="url(#band)" opacity="0.53"/>
<rect x="430.3" y="424.9" width="8.8" height="1.05" fill="url(#bandw)" opacity="0.30"/>
<rect x="431.7" y="424.9" width="6.5" height="1.05" fill="url(#band)" opacity="0.40"/>
<rect x="428.9" y="425.9" width="11.7" height="1.05" fill="url(#bandw)" opacity="0.31"/>
<rect x="430.3" y="425.9" width="8.0" height="1.05" fill="url(#band)" opacity="0.75"/>
<rect x="380.50" y="426.30" width="108.40" height="0.90" fill="#f8fcf7"/>
<text x="378.00" y="417.16" font-size="5.6" text-anchor="end">MDS_23.38</text>
<line x1="380.50" y1="304.98" x2="488.90" y2="304.98" stroke="#3f3f3f" stroke-width="1.4"/>
<line x1="380.50" y1="329.47" x2="488.90" y2="329.47" stroke="#3f3f3f" stroke-width="1.4"/>
<line x1="380.50" y1="353.95" x2="488.90" y2="353.95" stroke="#3f3f3f" stroke-width="1.4"/>
<line x1="380.50" y1="378.43" x2="488.90" y2="378.43" stroke="#3f3f3f" stroke-width="1.4"/>
<line x1="380.50" y1="402.92" x2="488.90" y2="402.92" stroke="#3f3f3f" stroke-width="1.4"/>
<rect x="380.5" y="280.5" width="108.40" height="146.90" fill="none" stroke="#555" stroke-width="1.05"/>
<line x1="380.50" y1="427.40" x2="380.50" y2="429.90" stroke="#555" stroke-width="0.8"/>
<line x1="434.70" y1="427.40" x2="434.70" y2="429.90" stroke="#555" stroke-width="0.8"/>
<line x1="488.90" y1="427.40" x2="488.90" y2="429.90" stroke="#555" stroke-width="0.8"/>
<text x="371.00" y="437.50" font-size="7.5" textLength="15.00" lengthAdjust="spacingAndGlyphs">−5.0</text>
<text x="434.90" y="437.50" font-size="7.5" text-anchor="middle" textLength="38.20" lengthAdjust="spacingAndGlyphs">Peak center</text>
<text x="479.00" y="437.50" font-size="7.5" textLength="19.70" lengthAdjust="spacingAndGlyphs">5.0Kb</text>
<rect x="494.3" y="280.5" width="5.70" height="146.90" fill="url(#cbg)" stroke="#6a6a6a" stroke-width="0.8"/>
<line x1="500.00" y1="427.50" x2="502.00" y2="427.50" stroke="#333" stroke-width="0.8"/>
<text x="504.30" y="430.30" font-size="7.8">0</text>
<line x1="500.00" y1="404.83" x2="502.00" y2="404.83" stroke="#333" stroke-width="0.8"/>
<text x="504.30" y="407.63" font-size="7.8">5</text>
<line x1="500.00" y1="382.17" x2="502.00" y2="382.17" stroke="#333" stroke-width="0.8"/>
<text x="504.30" y="384.97" font-size="7.8">10</text>
<line x1="500.00" y1="359.50" x2="502.00" y2="359.50" stroke="#333" stroke-width="0.8"/>
<text x="504.30" y="362.31" font-size="7.8">15</text>
<line x1="500.00" y1="336.84" x2="502.00" y2="336.84" stroke="#333" stroke-width="0.8"/>
<text x="504.30" y="339.64" font-size="7.8">20</text>
<line x1="500.00" y1="314.18" x2="502.00" y2="314.18" stroke="#333" stroke-width="0.8"/>
<text x="504.30" y="316.98" font-size="7.8">25</text>
<line x1="500.00" y1="291.51" x2="502.00" y2="291.51" stroke="#333" stroke-width="0.8"/>
<text x="504.30" y="294.31" font-size="7.8">30</text>
<text x="7.50" y="467.80" font-size="10.6" font-weight="bold" class="pl">D</text>
<rect x="63.70" y="538.90" width="20.10" height="1.40" fill="#bdbdbd"/>
<rect x="96.40" y="533.02" width="19.90" height="7.28" fill="#195a95"/>
<line x1="73.75" y1="537.78" x2="73.75" y2="539.74" stroke="#000" stroke-width="0.9"/>
<line x1="66.45" y1="537.78" x2="81.05" y2="537.78" stroke="#000" stroke-width="0.9"/>
<line x1="66.45" y1="539.74" x2="81.05" y2="539.74" stroke="#000" stroke-width="0.9"/>
<line x1="106.35" y1="530.22" x2="106.35" y2="535.82" stroke="#000" stroke-width="0.9"/>
<line x1="99.05" y1="530.22" x2="113.65" y2="530.22" stroke="#000" stroke-width="0.9"/>
<line x1="99.05" y1="535.82" x2="113.65" y2="535.82" stroke="#000" stroke-width="0.9"/>
<path d="M60.50,536.40 L62.55,540.10 L58.45,540.10Z" fill="#000"/>
<path d="M63.50,536.00 L65.55,539.70 L61.45,539.70Z" fill="#000"/>
<circle cx="66.50" cy="538.60" r="1.85" fill="#000"/>
<rect x="67.45" y="536.25" width="3.50" height="3.50" fill="#000"/>
<circle cx="71.50" cy="538.80" r="1.85" fill="#000"/>
<path d="M74.00,536.10 L76.05,539.80 L71.95,539.80Z" fill="#000"/>
<circle cx="76.30" cy="538.60" r="1.85" fill="#000"/>
<circle cx="79.00" cy="538.40" r="1.85" fill="#000"/>
<rect x="80.75" y="536.85" width="3.50" height="3.50" fill="#000"/>
<circle cx="85.00" cy="538.40" r="1.85" fill="#000"/>
<path d="M87.50,536.70 L89.55,540.40 L85.45,540.40Z" fill="#000"/>
<circle cx="93.00" cy="537.40" r="1.85" fill="#000"/>
<path d="M106.30,518.30 L108.35,522.00 L104.25,522.00Z" fill="#000"/>
<rect x="104.55" y="527.65" width="3.50" height="3.50" fill="#000"/>
<circle cx="99.80" cy="534.80" r="1.85" fill="#000"/>
<circle cx="106.30" cy="534.80" r="1.85" fill="#000"/>
<circle cx="112.70" cy="534.80" r="1.85" fill="#000"/>
<path d="M106.30,535.10 L108.35,538.80 L104.25,538.80Z" fill="#000"/>
<path d="M119.50,536.20 L121.55,539.90 L117.45,539.90Z" fill="#000"/>
<line x1="55.50" y1="467.50" x2="55.50" y2="540.80" stroke="#000" stroke-width="1.1"/>
<line x1="55.50" y1="540.30" x2="124.00" y2="540.30" stroke="#000" stroke-width="1.1"/>
<line x1="52.80" y1="540.30" x2="55.50" y2="540.30" stroke="#000" stroke-width="0.9"/>
<text x="49.90" y="542.90" font-size="7.4" text-anchor="end">0</text>
<line x1="52.80" y1="526.30" x2="55.50" y2="526.30" stroke="#000" stroke-width="0.9"/>
<text x="49.90" y="528.90" font-size="7.4" text-anchor="end">5</text>
<line x1="52.80" y1="512.30" x2="55.50" y2="512.30" stroke="#000" stroke-width="0.9"/>
<text x="49.90" y="514.90" font-size="7.4" text-anchor="end">10</text>
<line x1="52.80" y1="498.30" x2="55.50" y2="498.30" stroke="#000" stroke-width="0.9"/>
<text x="49.90" y="500.90" font-size="7.4" text-anchor="end">15</text>
<line x1="52.80" y1="484.30" x2="55.50" y2="484.30" stroke="#000" stroke-width="0.9"/>
<text x="49.90" y="486.90" font-size="7.4" text-anchor="end">20</text>
<line x1="52.80" y1="470.30" x2="55.50" y2="470.30" stroke="#000" stroke-width="0.9"/>
<text x="49.90" y="472.90" font-size="7.4" text-anchor="end">25</text>
<line x1="73.75" y1="540.30" x2="73.75" y2="542.50" stroke="#000" stroke-width="0.9"/>
<line x1="106.35" y1="540.30" x2="106.35" y2="542.50" stroke="#000" stroke-width="0.9"/>
<text x="73.80" y="552.50" font-size="7.7" text-anchor="middle" textLength="11.30" lengthAdjust="spacingAndGlyphs">WT</text>
<text x="106.40" y="552.50" font-size="7.7" text-anchor="middle" textLength="22.70" lengthAdjust="spacingAndGlyphs">K700E</text>
<text transform="translate(35.30,503.10) rotate(-90)" x="0" y="0" font-size="9" class="cd" text-anchor="middle" textLength="12.3" lengthAdjust="spacingAndGlyphs">TPM</text>
<text x="89.30" y="465.80" font-size="8.6" text-anchor="middle" textLength="27.30" lengthAdjust="spacingAndGlyphs">TEAD1</text>
<line x1="71.90" y1="475.20" x2="107.80" y2="475.20" stroke="#000" stroke-width="1.2"/>
<circle cx="86.00" cy="471.20" r="1.15" fill="#111"/>
<circle cx="89.50" cy="471.20" r="1.15" fill="#111"/>
<circle cx="93.00" cy="471.20" r="1.15" fill="#111"/>
<rect x="177.00" y="528.82" width="20.10" height="11.48" fill="#bdbdbd"/>
<rect x="209.70" y="512.02" width="19.90" height="28.28" fill="#195a95"/>
<line x1="187.05" y1="524.62" x2="187.05" y2="529.10" stroke="#000" stroke-width="0.9"/>
<line x1="179.75" y1="524.62" x2="194.35" y2="524.62" stroke="#000" stroke-width="0.9"/>
<line x1="179.75" y1="529.10" x2="194.35" y2="529.10" stroke="#000" stroke-width="0.9"/>
<line x1="219.65" y1="505.86" x2="219.65" y2="516.78" stroke="#000" stroke-width="0.9"/>
<line x1="212.35" y1="505.86" x2="226.95" y2="505.86" stroke="#000" stroke-width="0.9"/>
<line x1="212.35" y1="516.78" x2="226.95" y2="516.78" stroke="#000" stroke-width="0.9"/>
<path d="M183.20,517.60 L185.25,521.30 L181.15,521.30Z" fill="#000"/>
<path d="M191.10,514.50 L193.15,518.20 L189.05,518.20Z" fill="#000"/>
<rect x="185.45" y="522.65" width="3.50" height="3.50" fill="#000"/>
<circle cx="179.30" cy="528.50" r="1.85" fill="#000"/>
<circle cx="179.30" cy="536.00" r="1.85" fill="#000"/>
<rect x="185.45" y="529.35" width="3.50" height="3.50" fill="#000"/>
<path d="M195.00,523.40 L197.05,527.10 L192.95,527.10Z" fill="#000"/>
<circle cx="195.00" cy="529.50" r="1.85" fill="#000"/>
<rect x="193.25" y="532.25" width="3.50" height="3.50" fill="#000"/>
<path d="M220.00,482.70 L222.05,486.40 L217.95,486.40Z" fill="#000"/>
<path d="M220.00,500.60 L222.05,504.30 L217.95,504.30Z" fill="#000"/>
<path d="M220.00,506.10 L222.05,509.80 L217.95,509.80Z" fill="#000"/>
<circle cx="212.00" cy="517.70" r="1.85" fill="#000"/>
<circle cx="220.00" cy="521.00" r="1.85" fill="#000"/>
<circle cx="220.00" cy="527.00" r="1.85" fill="#000"/>
<rect x="226.15" y="518.05" width="3.50" height="3.50" fill="#000"/>
<line x1="168.80" y1="467.50" x2="168.80" y2="540.80" stroke="#000" stroke-width="1.1"/>
<line x1="168.80" y1="540.30" x2="237.30" y2="540.30" stroke="#000" stroke-width="1.1"/>
<line x1="166.10" y1="540.30" x2="168.80" y2="540.30" stroke="#000" stroke-width="0.9"/>
<text x="163.20" y="542.90" font-size="7.4" text-anchor="end">0</text>
<line x1="166.10" y1="526.30" x2="168.80" y2="526.30" stroke="#000" stroke-width="0.9"/>
<text x="163.20" y="528.90" font-size="7.4" text-anchor="end">5</text>
<line x1="166.10" y1="512.30" x2="168.80" y2="512.30" stroke="#000" stroke-width="0.9"/>
<text x="163.20" y="514.90" font-size="7.4" text-anchor="end">10</text>
<line x1="166.10" y1="498.30" x2="168.80" y2="498.30" stroke="#000" stroke-width="0.9"/>
<text x="163.20" y="500.90" font-size="7.4" text-anchor="end">15</text>
<line x1="166.10" y1="484.30" x2="168.80" y2="484.30" stroke="#000" stroke-width="0.9"/>
<text x="163.20" y="486.90" font-size="7.4" text-anchor="end">20</text>
<line x1="166.10" y1="470.30" x2="168.80" y2="470.30" stroke="#000" stroke-width="0.9"/>
<text x="163.20" y="472.90" font-size="7.4" text-anchor="end">25</text>
<line x1="187.05" y1="540.30" x2="187.05" y2="542.50" stroke="#000" stroke-width="0.9"/>
<line x1="219.65" y1="540.30" x2="219.65" y2="542.50" stroke="#000" stroke-width="0.9"/>
<text x="187.10" y="552.50" font-size="7.7" text-anchor="middle" textLength="11.30" lengthAdjust="spacingAndGlyphs">WT</text>
<text x="219.70" y="552.50" font-size="7.7" text-anchor="middle" textLength="22.70" lengthAdjust="spacingAndGlyphs">K700E</text>
<text transform="translate(148.60,503.10) rotate(-90)" x="0" y="0" font-size="9" class="cd" text-anchor="middle" textLength="12.3" lengthAdjust="spacingAndGlyphs">TPM</text>
<text x="202.60" y="465.80" font-size="8.6" text-anchor="middle" textLength="28.70" lengthAdjust="spacingAndGlyphs">TEAD2</text>
<line x1="185.20" y1="475.20" x2="221.10" y2="475.20" stroke="#000" stroke-width="1.2"/>
<circle cx="199.30" cy="471.20" r="1.15" fill="#111"/>
<circle cx="202.80" cy="471.20" r="1.15" fill="#111"/>
<circle cx="206.30" cy="471.20" r="1.15" fill="#111"/>
<rect x="63.70" y="636.60" width="20.10" height="7.70" fill="#bdbdbd"/>
<rect x="96.40" y="628.06" width="19.90" height="16.24" fill="#195a95"/>
<line x1="73.75" y1="634.92" x2="73.75" y2="638.14" stroke="#000" stroke-width="0.9"/>
<line x1="66.45" y1="634.92" x2="81.05" y2="634.92" stroke="#000" stroke-width="0.9"/>
<line x1="66.45" y1="638.14" x2="81.05" y2="638.14" stroke="#000" stroke-width="0.9"/>
<line x1="106.35" y1="625.12" x2="106.35" y2="630.86" stroke="#000" stroke-width="0.9"/>
<line x1="99.05" y1="625.12" x2="113.65" y2="625.12" stroke="#000" stroke-width="0.9"/>
<line x1="99.05" y1="630.86" x2="113.65" y2="630.86" stroke="#000" stroke-width="0.9"/>
<path d="M60.50,631.60 L62.55,635.30 L58.45,635.30Z" fill="#000"/>
<circle cx="67.00" cy="636.30" r="1.85" fill="#000"/>
<circle cx="67.00" cy="641.30" r="1.85" fill="#000"/>
<circle cx="73.50" cy="634.50" r="1.85" fill="#000"/>
<rect x="77.85" y="632.25" width="3.50" height="3.50" fill="#000"/>
<path d="M79.60,627.90 L81.65,631.60 L77.55,631.60Z" fill="#000"/>
<circle cx="79.60" cy="638.80" r="1.85" fill="#000"/>
<path d="M86.10,630.10 L88.15,633.80 L84.05,633.80Z" fill="#000"/>
<rect x="84.35" y="634.55" width="3.50" height="3.50" fill="#000"/>
<path d="M102.20,616.40 L104.25,620.10 L100.15,620.10Z" fill="#000"/>
<path d="M110.30,615.70 L112.35,619.40 L108.25,619.40Z" fill="#000"/>
<circle cx="98.30" cy="627.70" r="1.85" fill="#000"/>
<circle cx="106.30" cy="631.60" r="1.85" fill="#000"/>
<circle cx="98.30" cy="636.30" r="1.85" fill="#000"/>
<circle cx="114.20" cy="634.50" r="1.85" fill="#000"/>
<path d="M114.20,627.90 L116.25,631.60 L112.15,631.60Z" fill="#000"/>
<line x1="55.50" y1="571.50" x2="55.50" y2="644.80" stroke="#000" stroke-width="1.1"/>
<line x1="55.50" y1="644.30" x2="124.00" y2="644.30" stroke="#000" stroke-width="1.1"/>
<line x1="52.80" y1="644.30" x2="55.50" y2="644.30" stroke="#000" stroke-width="0.9"/>
<text x="49.90" y="646.90" font-size="7.4" text-anchor="end">0</text>
<line x1="52.80" y1="630.30" x2="55.50" y2="630.30" stroke="#000" stroke-width="0.9"/>
<text x="49.90" y="632.90" font-size="7.4" text-anchor="end">5</text>
<line x1="52.80" y1="616.30" x2="55.50" y2="616.30" stroke="#000" stroke-width="0.9"/>
<text x="49.90" y="618.90" font-size="7.4" text-anchor="end">10</text>
<line x1="52.80" y1="602.30" x2="55.50" y2="602.30" stroke="#000" stroke-width="0.9"/>
<text x="49.90" y="604.90" font-size="7.4" text-anchor="end">15</text>
<line x1="52.80" y1="588.30" x2="55.50" y2="588.30" stroke="#000" stroke-width="0.9"/>
<text x="49.90" y="590.90" font-size="7.4" text-anchor="end">20</text>
<line x1="52.80" y1="574.30" x2="55.50" y2="574.30" stroke="#000" stroke-width="0.9"/>
<text x="49.90" y="576.90" font-size="7.4" text-anchor="end">25</text>
<line x1="73.75" y1="644.30" x2="73.75" y2="646.50" stroke="#000" stroke-width="0.9"/>
<line x1="106.35" y1="644.30" x2="106.35" y2="646.50" stroke="#000" stroke-width="0.9"/>
<text x="73.80" y="656.50" font-size="7.7" text-anchor="middle" textLength="11.30" lengthAdjust="spacingAndGlyphs">WT</text>
<text x="106.40" y="656.50" font-size="7.7" text-anchor="middle" textLength="22.70" lengthAdjust="spacingAndGlyphs">K700E</text>
<text transform="translate(35.30,607.10) rotate(-90)" x="0" y="0" font-size="9" class="cd" text-anchor="middle" textLength="12.3" lengthAdjust="spacingAndGlyphs">TPM</text>
<text x="89.30" y="569.80" font-size="8.6" text-anchor="middle" textLength="27.50" lengthAdjust="spacingAndGlyphs">TEAD3</text>
<line x1="71.90" y1="579.20" x2="107.80" y2="579.20" stroke="#000" stroke-width="1.2"/>
<circle cx="87.75" cy="575.20" r="1.15" fill="#111"/>
<circle cx="91.25" cy="575.20" r="1.15" fill="#111"/>
<rect x="176.80" y="629.34" width="20.10" height="14.56" fill="#bdbdbd"/>
<rect x="209.50" y="620.66" width="19.90" height="23.24" fill="#195a95"/>
<line x1="186.85" y1="627.66" x2="186.85" y2="631.02" stroke="#000" stroke-width="0.9"/>
<line x1="179.55" y1="627.66" x2="194.15" y2="627.66" stroke="#000" stroke-width="0.9"/>
<line x1="179.55" y1="631.02" x2="194.15" y2="631.02" stroke="#000" stroke-width="0.9"/>
<line x1="219.45" y1="618.42" x2="219.45" y2="622.90" stroke="#000" stroke-width="0.9"/>
<line x1="212.15" y1="618.42" x2="226.75" y2="618.42" stroke="#000" stroke-width="0.9"/>
<line x1="212.15" y1="622.90" x2="226.75" y2="622.90" stroke="#000" stroke-width="0.9"/>
<path d="M173.40,621.60 L175.45,625.30 L171.35,625.30Z" fill="#000"/>
<circle cx="173.40" cy="628.40" r="1.85" fill="#000"/>
<circle cx="173.40" cy="633.80" r="1.85" fill="#000"/>
<rect x="180.05" y="624.15" width="3.50" height="3.50" fill="#000"/>
<rect x="180.05" y="629.95" width="3.50" height="3.50" fill="#000"/>
<path d="M191.10,625.20 L193.15,628.90 L189.05,628.90Z" fill="#000"/>
<circle cx="191.10" cy="633.10" r="1.85" fill="#000"/>
<path d="M199.10,624.40 L201.15,628.10 L197.05,628.10Z" fill="#000"/>
<rect x="197.35" y="630.95" width="3.50" height="3.50" fill="#000"/>
<path d="M219.00,609.30 L221.05,613.00 L216.95,613.00Z" fill="#000"/>
<circle cx="206.00" cy="623.00" r="1.85" fill="#000"/>
<rect x="212.85" y="618.85" width="3.50" height="3.50" fill="#000"/>
<path d="M223.30,615.80 L225.35,619.50 L221.25,619.50Z" fill="#000"/>
<path d="M223.30,621.30 L225.35,625.00 L221.25,625.00Z" fill="#000"/>
<circle cx="214.90" cy="626.90" r="1.85" fill="#000"/>
<rect x="230.25" y="620.55" width="3.50" height="3.50" fill="#000"/>
<line x1="168.60" y1="571.10" x2="168.60" y2="644.40" stroke="#000" stroke-width="1.1"/>
<line x1="168.60" y1="643.90" x2="237.10" y2="643.90" stroke="#000" stroke-width="1.1"/>
<line x1="165.90" y1="643.90" x2="168.60" y2="643.90" stroke="#000" stroke-width="0.9"/>
<text x="163.00" y="646.50" font-size="7.4" text-anchor="end">0</text>
<line x1="165.90" y1="629.90" x2="168.60" y2="629.90" stroke="#000" stroke-width="0.9"/>
<text x="163.00" y="632.50" font-size="7.4" text-anchor="end">5</text>
<line x1="165.90" y1="615.90" x2="168.60" y2="615.90" stroke="#000" stroke-width="0.9"/>
<text x="163.00" y="618.50" font-size="7.4" text-anchor="end">10</text>
<line x1="165.90" y1="601.90" x2="168.60" y2="601.90" stroke="#000" stroke-width="0.9"/>
<text x="163.00" y="604.50" font-size="7.4" text-anchor="end">15</text>
<line x1="165.90" y1="587.90" x2="168.60" y2="587.90" stroke="#000" stroke-width="0.9"/>
<text x="163.00" y="590.50" font-size="7.4" text-anchor="end">20</text>
<line x1="165.90" y1="573.90" x2="168.60" y2="573.90" stroke="#000" stroke-width="0.9"/>
<text x="163.00" y="576.50" font-size="7.4" text-anchor="end">25</text>
<line x1="186.85" y1="643.90" x2="186.85" y2="646.10" stroke="#000" stroke-width="0.9"/>
<line x1="219.45" y1="643.90" x2="219.45" y2="646.10" stroke="#000" stroke-width="0.9"/>
<text x="186.90" y="656.10" font-size="7.7" text-anchor="middle" textLength="11.30" lengthAdjust="spacingAndGlyphs">WT</text>
<text x="219.50" y="656.10" font-size="7.7" text-anchor="middle" textLength="22.70" lengthAdjust="spacingAndGlyphs">K700E</text>
<text transform="translate(148.40,606.70) rotate(-90)" x="0" y="0" font-size="9" class="cd" text-anchor="middle" textLength="12.3" lengthAdjust="spacingAndGlyphs">TPM</text>
<text x="202.40" y="569.40" font-size="8.6" text-anchor="middle" textLength="28.70" lengthAdjust="spacingAndGlyphs">TEAD4</text>
<line x1="185.00" y1="578.80" x2="220.90" y2="578.80" stroke="#000" stroke-width="1.2"/>
<circle cx="199.10" cy="574.80" r="1.15" fill="#111"/>
<circle cx="202.60" cy="574.80" r="1.15" fill="#111"/>
<circle cx="206.10" cy="574.80" r="1.15" fill="#111"/>
<circle cx="102.40" cy="664.60" r="1.85" fill="#000"/>
<text x="106.80" y="667.10" font-size="7.2" textLength="12.20" lengthAdjust="spacingAndGlyphs">P21</text>
<rect x="136.85" y="662.85" width="3.50" height="3.50" fill="#000"/>
<text x="142.70" y="667.10" font-size="7.2" textLength="12.60" lengthAdjust="spacingAndGlyphs">P22</text>
<path d="M174.80,662.60 L176.85,666.30 L172.75,666.30Z" fill="#000"/>
<text x="178.70" y="667.10" font-size="7.2" textLength="12.90" lengthAdjust="spacingAndGlyphs">P23</text>
<text x="312.40" y="468.10" font-size="10.6" font-weight="bold" class="pl">E</text>
<line x1="331.00" y1="470.80" x2="333.50" y2="470.80" stroke="#333" stroke-width="1"/>
<rect x="333.20" y="465.70" width="78.40" height="9.70" fill="#c8153a"/>
<text x="334.90" y="473.70" font-size="8.0" textLength="75.80" lengthAdjust="spacingAndGlyphs" fill="#fff" class="w">10xTEAD binding motif</text>
<rect x="413.20" y="465.70" width="75.30" height="9.70" fill="#195a95"/>
<text x="424.80" y="473.70" font-size="8.0" textLength="52.10" lengthAdjust="spacingAndGlyphs" fill="#fff" class="w">Firefly luciferase</text>
<line x1="488.40" y1="470.80" x2="494.60" y2="470.80" stroke="#333" stroke-width="1.1"/>
<path d="M413.1,465.7 L413.1,461.6 Q413.1,460.6 414.1,460.6 L430,460.6" fill="none" stroke="#000" stroke-width="1"/>
<path d="M429.5,458.6 L433.3,460.6 L429.5,462.6Z" fill="#000"/>
<rect x="348.50" y="557.85" width="20.30" height="17.95" fill="#bdbdbd"/>
<rect x="371.00" y="531.82" width="19.70" height="43.98" fill="#195a95"/>
<line x1="380.85" y1="511.18" x2="380.85" y2="551.21" stroke="#000" stroke-width="1"/>
<line x1="373.15" y1="511.18" x2="388.55" y2="511.18" stroke="#000" stroke-width="1"/>
<line x1="373.15" y1="551.21" x2="388.55" y2="551.21" stroke="#000" stroke-width="1"/>
<rect x="393.00" y="557.85" width="20.10" height="17.95" fill="#bdbdbd"/>
<rect x="415.70" y="555.16" width="19.40" height="20.64" fill="#195a95"/>
<line x1="425.40" y1="552.11" x2="425.40" y2="558.39" stroke="#000" stroke-width="1"/>
<line x1="417.70" y1="552.11" x2="433.10" y2="552.11" stroke="#000" stroke-width="1"/>
<line x1="417.70" y1="558.39" x2="433.10" y2="558.39" stroke="#000" stroke-width="1"/>
<rect x="438.10" y="557.85" width="19.60" height="17.95" fill="#bdbdbd"/>
<rect x="460.00" y="526.62" width="20.10" height="49.18" fill="#195a95"/>
<line x1="470.05" y1="518.36" x2="470.05" y2="535.05" stroke="#000" stroke-width="1"/>
<line x1="462.35" y1="518.36" x2="477.75" y2="518.36" stroke="#000" stroke-width="1"/>
<line x1="462.35" y1="535.05" x2="477.75" y2="535.05" stroke="#000" stroke-width="1"/>
<line x1="347.80" y1="502.00" x2="347.80" y2="576.30" stroke="#000" stroke-width="1.1"/>
<line x1="347.80" y1="575.80" x2="481.90" y2="575.80" stroke="#000" stroke-width="1.1"/>
<line x1="344.50" y1="575.80" x2="347.80" y2="575.80" stroke="#000" stroke-width="0.9"/>
<text x="339.50" y="578.90" font-size="8" text-anchor="middle">0</text>
<line x1="344.50" y1="557.85" x2="347.80" y2="557.85" stroke="#000" stroke-width="0.9"/>
<text x="339.50" y="560.95" font-size="8" text-anchor="middle">1</text>
<line x1="344.50" y1="539.90" x2="347.80" y2="539.90" stroke="#000" stroke-width="0.9"/>
<text x="339.50" y="543.00" font-size="8" text-anchor="middle">2</text>
<line x1="344.50" y1="521.95" x2="347.80" y2="521.95" stroke="#000" stroke-width="0.9"/>
<text x="339.50" y="525.05" font-size="8" text-anchor="middle">3</text>
<line x1="344.50" y1="504.00" x2="347.80" y2="504.00" stroke="#000" stroke-width="0.9"/>
<text x="339.50" y="507.10" font-size="8" text-anchor="middle">4</text>
<text transform="translate(361.25,583.40) rotate(-45)" x="0" y="0" font-size="7.6" text-anchor="end">N-21.6</text>
<text transform="translate(383.45,583.40) rotate(-45)" x="0" y="0" font-size="7.6" text-anchor="end">MDS-21.16</text>
<text transform="translate(405.65,583.40) rotate(-45)" x="0" y="0" font-size="7.6" text-anchor="end">N-22.45</text>
<text transform="translate(428.00,583.40) rotate(-45)" x="0" y="0" font-size="7.6" text-anchor="end">MDS-22.44</text>
<text transform="translate(450.50,583.40) rotate(-45)" x="0" y="0" font-size="7.6" text-anchor="end">N-23.13</text>
<text transform="translate(472.65,583.40) rotate(-45)" x="0" y="0" font-size="7.6" text-anchor="end">MDS-23.6</text>
<text transform="translate(321.4,538.6) rotate(-90)" x="0" y="0" font-size="9" class="cd" text-anchor="middle" textLength="51" lengthAdjust="spacingAndGlyphs">Relative luciferase</text>
<text transform="translate(331.0,538.3) rotate(-90)" x="0" y="0" font-size="9" class="cd" text-anchor="middle" textLength="20.8" lengthAdjust="spacingAndGlyphs">activity</text>
<line x1="360.00" y1="500.50" x2="382.30" y2="500.50" stroke="#000" stroke-width="1.2"/>
<text x="371.65" y="497.70" font-size="8.8" text-anchor="middle" textLength="14.40" lengthAdjust="spacingAndGlyphs">n.s.</text>
<line x1="405.00" y1="500.50" x2="427.20" y2="500.50" stroke="#000" stroke-width="1.2"/>
<text x="416.60" y="497.70" font-size="8.8" text-anchor="middle" textLength="14.40" lengthAdjust="spacingAndGlyphs">n.s.</text>
<line x1="449.00" y1="500.50" x2="471.00" y2="500.50" stroke="#000" stroke-width="1.2"/>
<circle cx="458.20" cy="496.40" r="1.15" fill="#111"/>
<circle cx="461.80" cy="496.40" r="1.15" fill="#111"/>
<rect x="0.5" y="0.5" width="519" height="673" fill="none" stroke="#000" stroke-width="1"/>
<rect x="1.5" y="1.5" width="517" height="671" fill="none" stroke="#000" stroke-opacity="0.15" stroke-width="1"/>
</svg></body></html>
